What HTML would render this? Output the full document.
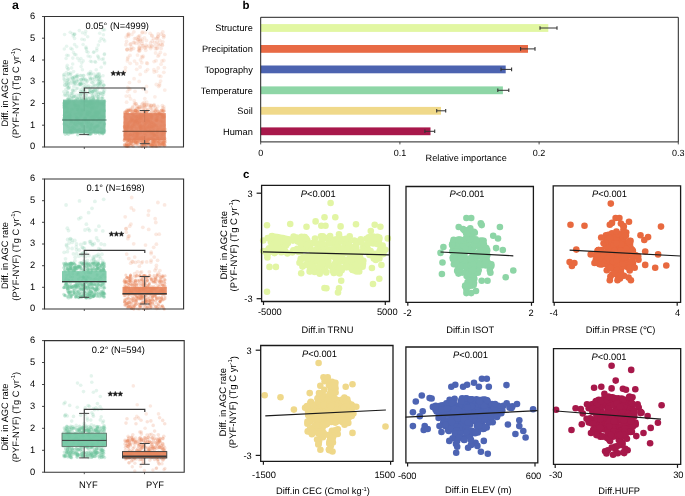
<!DOCTYPE html>
<html><head><meta charset="utf-8"><style>
html,body{margin:0;padding:0;background:#fff;width:685px;height:496px;overflow:hidden}
svg{display:block;will-change:transform}
text{font-family:"Liberation Sans", sans-serif;fill:#000;text-rendering:geometricPrecision}
</style></head><body>
<svg width="685" height="496" viewBox="0 0 685 496">
<rect width="685" height="496" fill="#fff"/>
<text x="12.0" y="9.4" font-size="12.3" text-anchor="start" font-weight="bold">a</text>
<text x="242.5" y="9.3" font-size="11.5" text-anchor="start" font-weight="bold">b</text>
<text x="243.0" y="178.2" font-size="11.5" text-anchor="start" font-weight="bold">c</text>
<g fill="#6cc39c" fill-opacity="0.16">
<circle cx="90.0" cy="97.4" r="1.8"/>
<circle cx="75.0" cy="83.6" r="1.8"/>
<circle cx="93.9" cy="52.1" r="1.8"/>
<circle cx="100.3" cy="93.1" r="1.8"/>
<circle cx="81.1" cy="97.1" r="1.8"/>
<circle cx="72.7" cy="64.0" r="1.8"/>
<circle cx="64.9" cy="85.3" r="1.8"/>
<circle cx="90.4" cy="61.2" r="1.8"/>
<circle cx="72.8" cy="58.1" r="1.8"/>
<circle cx="96.9" cy="98.7" r="1.8"/>
<circle cx="96.8" cy="50.6" r="1.8"/>
<circle cx="77.7" cy="88.3" r="1.8"/>
<circle cx="103.0" cy="75.7" r="1.8"/>
<circle cx="67.6" cy="92.4" r="1.8"/>
<circle cx="98.5" cy="57.1" r="1.8"/>
<circle cx="96.8" cy="48.4" r="1.8"/>
<circle cx="85.7" cy="31.4" r="1.8"/>
<circle cx="79.3" cy="60.7" r="1.8"/>
<circle cx="97.7" cy="56.1" r="1.8"/>
<circle cx="99.0" cy="59.0" r="1.8"/>
<circle cx="92.6" cy="96.0" r="1.8"/>
<circle cx="73.1" cy="79.0" r="1.8"/>
<circle cx="67.1" cy="82.9" r="1.8"/>
<circle cx="67.9" cy="79.8" r="1.8"/>
<circle cx="89.8" cy="73.8" r="1.8"/>
<circle cx="78.9" cy="84.6" r="1.8"/>
<circle cx="74.7" cy="34.0" r="1.8"/>
<circle cx="90.3" cy="56.8" r="1.8"/>
<circle cx="70.8" cy="48.4" r="1.8"/>
<circle cx="70.5" cy="72.7" r="1.8"/>
<circle cx="104.3" cy="54.6" r="1.8"/>
<circle cx="86.6" cy="51.5" r="1.8"/>
<circle cx="98.3" cy="45.1" r="1.8"/>
<circle cx="73.2" cy="96.9" r="1.8"/>
<circle cx="76.7" cy="80.5" r="1.8"/>
<circle cx="72.4" cy="33.5" r="1.8"/>
<circle cx="99.6" cy="77.2" r="1.8"/>
<circle cx="90.6" cy="71.6" r="1.8"/>
<circle cx="101.2" cy="67.2" r="1.8"/>
<circle cx="74.6" cy="82.0" r="1.8"/>
<circle cx="86.8" cy="80.9" r="1.8"/>
<circle cx="87.7" cy="36.7" r="1.8"/>
<circle cx="80.1" cy="83.9" r="1.8"/>
<circle cx="104.6" cy="63.7" r="1.8"/>
<circle cx="67.5" cy="95.9" r="1.8"/>
<circle cx="68.3" cy="55.5" r="1.8"/>
<circle cx="96.2" cy="69.8" r="1.8"/>
<circle cx="66.4" cy="72.6" r="1.8"/>
<circle cx="104.5" cy="62.3" r="1.8"/>
<circle cx="103.5" cy="39.2" r="1.8"/>
<circle cx="64.3" cy="49.0" r="1.8"/>
<circle cx="91.7" cy="61.8" r="1.8"/>
<circle cx="74.7" cy="54.5" r="1.8"/>
<circle cx="68.4" cy="68.9" r="1.8"/>
<circle cx="82.4" cy="32.8" r="1.8"/>
<circle cx="99.6" cy="80.8" r="1.8"/>
<circle cx="84.3" cy="86.7" r="1.8"/>
<circle cx="101.1" cy="38.6" r="1.8"/>
<circle cx="76.0" cy="54.7" r="1.8"/>
<circle cx="88.7" cy="88.5" r="1.8"/>
<circle cx="95.0" cy="61.6" r="1.8"/>
<circle cx="95.6" cy="62.2" r="1.8"/>
<circle cx="63.8" cy="76.6" r="1.8"/>
<circle cx="64.6" cy="34.5" r="1.8"/>
<circle cx="99.7" cy="41.3" r="1.8"/>
<circle cx="76.4" cy="95.1" r="1.8"/>
<circle cx="99.7" cy="33.2" r="1.8"/>
<circle cx="67.3" cy="65.3" r="1.8"/>
<circle cx="66.6" cy="46.2" r="1.8"/>
<circle cx="95.1" cy="90.2" r="1.8"/>
<circle cx="83.2" cy="60.9" r="1.8"/>
<circle cx="74.6" cy="38.4" r="1.8"/>
<circle cx="81.1" cy="84.4" r="1.8"/>
<circle cx="85.9" cy="48.3" r="1.8"/>
<circle cx="72.0" cy="77.5" r="1.8"/>
<circle cx="104.5" cy="53.9" r="1.8"/>
<circle cx="81.7" cy="63.1" r="1.8"/>
<circle cx="68.7" cy="83.5" r="1.8"/>
<circle cx="77.6" cy="58.2" r="1.8"/>
<circle cx="73.2" cy="83.8" r="1.8"/>
<circle cx="66.7" cy="55.2" r="1.8"/>
<circle cx="73.2" cy="36.1" r="1.8"/>
<circle cx="99.0" cy="94.2" r="1.8"/>
<circle cx="73.5" cy="52.6" r="1.8"/>
<circle cx="72.6" cy="89.9" r="1.8"/>
<circle cx="102.1" cy="59.4" r="1.8"/>
<circle cx="83.1" cy="44.5" r="1.8"/>
<circle cx="96.8" cy="85.9" r="1.8"/>
<circle cx="67.8" cy="69.1" r="1.8"/>
<circle cx="81.1" cy="66.6" r="1.8"/>
<circle cx="93.6" cy="52.3" r="1.8"/>
<circle cx="104.1" cy="92.3" r="1.8"/>
<circle cx="80.3" cy="75.5" r="1.8"/>
<circle cx="99.0" cy="81.8" r="1.8"/>
<circle cx="71.6" cy="67.9" r="1.8"/>
<circle cx="81.1" cy="79.8" r="1.8"/>
<circle cx="74.0" cy="34.9" r="1.8"/>
<circle cx="81.9" cy="39.2" r="1.8"/>
<circle cx="86.3" cy="95.6" r="1.8"/>
<circle cx="104.7" cy="41.0" r="1.8"/>
<circle cx="103.4" cy="34.7" r="1.8"/>
<circle cx="98.5" cy="87.6" r="1.8"/>
<circle cx="83.7" cy="84.3" r="1.8"/>
<circle cx="80.2" cy="95.1" r="1.8"/>
<circle cx="79.3" cy="30.6" r="1.8"/>
<circle cx="74.6" cy="44.6" r="1.8"/>
<circle cx="82.4" cy="69.7" r="1.8"/>
<circle cx="103.0" cy="29.9" r="1.8"/>
<circle cx="86.5" cy="49.1" r="1.8"/>
<circle cx="70.1" cy="78.5" r="1.8"/>
<circle cx="103.4" cy="58.8" r="1.8"/>
<circle cx="86.0" cy="47.1" r="1.8"/>
<circle cx="66.1" cy="58.5" r="1.8"/>
<circle cx="84.4" cy="39.8" r="1.8"/>
<circle cx="70.2" cy="32.3" r="1.8"/>
<circle cx="67.1" cy="86.2" r="1.8"/>
<circle cx="88.1" cy="52.2" r="1.8"/>
<circle cx="73.4" cy="90.8" r="1.8"/>
<circle cx="100.2" cy="82.0" r="1.8"/>
<circle cx="88.1" cy="56.0" r="1.8"/>
<circle cx="80.9" cy="58.5" r="1.8"/>
<circle cx="85.2" cy="34.1" r="1.8"/>
<circle cx="72.2" cy="49.3" r="1.8"/>
<circle cx="73.6" cy="71.6" r="1.8"/>
<circle cx="91.3" cy="78.3" r="1.8"/>
<circle cx="76.7" cy="46.8" r="1.8"/>
<circle cx="66.8" cy="67.3" r="1.8"/>
<circle cx="104.6" cy="29.8" r="1.8"/>
<circle cx="66.8" cy="84.3" r="1.8"/>
<circle cx="74.6" cy="34.2" r="1.8"/>
</g>
<g fill="#6cc39c" fill-opacity="0.18">
<circle cx="99.8" cy="76.2" r="1.8"/>
<circle cx="78.9" cy="95.0" r="1.8"/>
<circle cx="97.9" cy="80.8" r="1.8"/>
<circle cx="88.8" cy="73.4" r="1.8"/>
<circle cx="90.5" cy="98.9" r="1.8"/>
<circle cx="97.2" cy="91.3" r="1.8"/>
<circle cx="90.9" cy="74.6" r="1.8"/>
<circle cx="69.3" cy="96.1" r="1.8"/>
<circle cx="68.2" cy="84.7" r="1.8"/>
<circle cx="74.9" cy="83.4" r="1.8"/>
<circle cx="93.2" cy="93.8" r="1.8"/>
<circle cx="89.7" cy="92.3" r="1.8"/>
<circle cx="83.8" cy="75.5" r="1.8"/>
<circle cx="98.4" cy="96.7" r="1.8"/>
<circle cx="81.1" cy="91.9" r="1.8"/>
<circle cx="63.9" cy="79.0" r="1.8"/>
<circle cx="89.9" cy="92.3" r="1.8"/>
<circle cx="94.1" cy="84.8" r="1.8"/>
<circle cx="81.3" cy="98.9" r="1.8"/>
<circle cx="66.9" cy="76.1" r="1.8"/>
<circle cx="100.8" cy="84.9" r="1.8"/>
<circle cx="97.9" cy="83.9" r="1.8"/>
<circle cx="69.9" cy="95.8" r="1.8"/>
<circle cx="76.4" cy="75.7" r="1.8"/>
<circle cx="96.4" cy="76.7" r="1.8"/>
<circle cx="100.6" cy="93.7" r="1.8"/>
<circle cx="74.0" cy="96.5" r="1.8"/>
<circle cx="95.7" cy="76.1" r="1.8"/>
<circle cx="80.4" cy="83.0" r="1.8"/>
<circle cx="70.1" cy="74.9" r="1.8"/>
<circle cx="99.2" cy="73.7" r="1.8"/>
<circle cx="97.0" cy="76.1" r="1.8"/>
<circle cx="64.8" cy="79.9" r="1.8"/>
<circle cx="77.4" cy="74.9" r="1.8"/>
<circle cx="96.6" cy="76.6" r="1.8"/>
<circle cx="97.0" cy="92.2" r="1.8"/>
<circle cx="96.0" cy="96.3" r="1.8"/>
<circle cx="99.5" cy="76.7" r="1.8"/>
<circle cx="72.9" cy="77.8" r="1.8"/>
<circle cx="82.6" cy="91.2" r="1.8"/>
<circle cx="96.3" cy="93.2" r="1.8"/>
<circle cx="64.8" cy="94.1" r="1.8"/>
<circle cx="77.2" cy="76.6" r="1.8"/>
<circle cx="103.3" cy="91.9" r="1.8"/>
<circle cx="90.0" cy="88.7" r="1.8"/>
<circle cx="103.9" cy="85.2" r="1.8"/>
<circle cx="102.2" cy="96.1" r="1.8"/>
<circle cx="103.5" cy="94.5" r="1.8"/>
<circle cx="103.2" cy="92.2" r="1.8"/>
<circle cx="68.2" cy="87.8" r="1.8"/>
<circle cx="93.6" cy="91.0" r="1.8"/>
<circle cx="88.6" cy="85.8" r="1.8"/>
<circle cx="79.6" cy="84.1" r="1.8"/>
<circle cx="74.2" cy="80.7" r="1.8"/>
<circle cx="63.9" cy="75.0" r="1.8"/>
<circle cx="85.8" cy="80.4" r="1.8"/>
<circle cx="94.1" cy="81.6" r="1.8"/>
<circle cx="78.7" cy="97.3" r="1.8"/>
<circle cx="91.0" cy="90.5" r="1.8"/>
<circle cx="76.6" cy="77.0" r="1.8"/>
<circle cx="93.2" cy="91.3" r="1.8"/>
<circle cx="76.4" cy="88.5" r="1.8"/>
<circle cx="80.3" cy="91.4" r="1.8"/>
<circle cx="69.0" cy="88.2" r="1.8"/>
<circle cx="102.3" cy="81.5" r="1.8"/>
<circle cx="100.7" cy="83.1" r="1.8"/>
<circle cx="76.1" cy="84.8" r="1.8"/>
<circle cx="63.8" cy="91.7" r="1.8"/>
<circle cx="81.4" cy="84.0" r="1.8"/>
<circle cx="90.6" cy="87.0" r="1.8"/>
<circle cx="81.9" cy="93.6" r="1.8"/>
<circle cx="83.2" cy="75.6" r="1.8"/>
<circle cx="96.4" cy="94.7" r="1.8"/>
<circle cx="67.3" cy="85.7" r="1.8"/>
<circle cx="89.7" cy="90.4" r="1.8"/>
<circle cx="97.3" cy="79.5" r="1.8"/>
<circle cx="91.3" cy="93.3" r="1.8"/>
<circle cx="71.9" cy="98.5" r="1.8"/>
<circle cx="73.8" cy="86.7" r="1.8"/>
<circle cx="98.6" cy="97.2" r="1.8"/>
<circle cx="80.8" cy="82.7" r="1.8"/>
<circle cx="71.8" cy="81.0" r="1.8"/>
<circle cx="84.0" cy="92.8" r="1.8"/>
<circle cx="90.6" cy="99.0" r="1.8"/>
<circle cx="94.5" cy="79.1" r="1.8"/>
<circle cx="68.2" cy="88.1" r="1.8"/>
<circle cx="71.0" cy="74.1" r="1.8"/>
<circle cx="85.0" cy="97.8" r="1.8"/>
<circle cx="74.0" cy="77.0" r="1.8"/>
<circle cx="82.5" cy="78.2" r="1.8"/>
<circle cx="91.1" cy="73.4" r="1.8"/>
<circle cx="88.2" cy="74.4" r="1.8"/>
<circle cx="100.3" cy="83.2" r="1.8"/>
<circle cx="93.2" cy="86.0" r="1.8"/>
<circle cx="97.8" cy="84.9" r="1.8"/>
<circle cx="100.5" cy="79.7" r="1.8"/>
<circle cx="83.2" cy="92.4" r="1.8"/>
<circle cx="73.9" cy="82.5" r="1.8"/>
<circle cx="95.1" cy="85.5" r="1.8"/>
<circle cx="89.4" cy="92.0" r="1.8"/>
<circle cx="67.0" cy="91.7" r="1.8"/>
<circle cx="74.9" cy="90.8" r="1.8"/>
<circle cx="85.9" cy="95.5" r="1.8"/>
<circle cx="73.3" cy="81.0" r="1.8"/>
<circle cx="92.7" cy="97.5" r="1.8"/>
<circle cx="80.5" cy="85.0" r="1.8"/>
<circle cx="80.8" cy="93.8" r="1.8"/>
<circle cx="81.0" cy="75.5" r="1.8"/>
<circle cx="87.7" cy="81.0" r="1.8"/>
<circle cx="98.8" cy="79.2" r="1.8"/>
<circle cx="79.4" cy="99.0" r="1.8"/>
<circle cx="78.2" cy="79.5" r="1.8"/>
<circle cx="98.7" cy="74.3" r="1.8"/>
<circle cx="80.9" cy="79.6" r="1.8"/>
<circle cx="86.1" cy="83.4" r="1.8"/>
<circle cx="72.8" cy="93.4" r="1.8"/>
<circle cx="81.6" cy="98.4" r="1.8"/>
<circle cx="77.5" cy="81.4" r="1.8"/>
<circle cx="80.3" cy="94.8" r="1.8"/>
<circle cx="82.9" cy="95.8" r="1.8"/>
<circle cx="89.3" cy="98.4" r="1.8"/>
<circle cx="79.9" cy="84.4" r="1.8"/>
<circle cx="64.9" cy="82.4" r="1.8"/>
<circle cx="69.4" cy="87.1" r="1.8"/>
<circle cx="65.9" cy="89.3" r="1.8"/>
<circle cx="72.5" cy="90.6" r="1.8"/>
<circle cx="94.9" cy="89.3" r="1.8"/>
<circle cx="94.6" cy="77.4" r="1.8"/>
<circle cx="74.1" cy="97.0" r="1.8"/>
<circle cx="64.6" cy="85.1" r="1.8"/>
<circle cx="104.7" cy="90.0" r="1.8"/>
<circle cx="90.4" cy="78.8" r="1.8"/>
<circle cx="90.5" cy="79.5" r="1.8"/>
<circle cx="102.6" cy="93.9" r="1.8"/>
<circle cx="64.6" cy="95.2" r="1.8"/>
<circle cx="69.0" cy="81.7" r="1.8"/>
<circle cx="86.9" cy="93.5" r="1.8"/>
<circle cx="92.4" cy="79.1" r="1.8"/>
<circle cx="70.7" cy="83.3" r="1.8"/>
<circle cx="94.4" cy="96.2" r="1.8"/>
<circle cx="97.3" cy="74.0" r="1.8"/>
<circle cx="68.2" cy="98.5" r="1.8"/>
<circle cx="76.6" cy="81.5" r="1.8"/>
<circle cx="103.0" cy="88.8" r="1.8"/>
<circle cx="93.0" cy="97.2" r="1.8"/>
<circle cx="92.0" cy="82.8" r="1.8"/>
<circle cx="68.0" cy="79.0" r="1.8"/>
<circle cx="98.6" cy="83.5" r="1.8"/>
<circle cx="68.8" cy="73.5" r="1.8"/>
<circle cx="95.8" cy="90.1" r="1.8"/>
<circle cx="81.3" cy="89.5" r="1.8"/>
<circle cx="84.5" cy="90.2" r="1.8"/>
<circle cx="98.5" cy="77.7" r="1.8"/>
<circle cx="68.1" cy="74.1" r="1.8"/>
<circle cx="89.8" cy="77.5" r="1.8"/>
<circle cx="92.7" cy="87.8" r="1.8"/>
<circle cx="93.8" cy="74.0" r="1.8"/>
<circle cx="74.8" cy="78.1" r="1.8"/>
<circle cx="85.8" cy="86.5" r="1.8"/>
<circle cx="81.6" cy="80.1" r="1.8"/>
<circle cx="74.8" cy="76.9" r="1.8"/>
<circle cx="97.8" cy="96.9" r="1.8"/>
<circle cx="99.9" cy="92.8" r="1.8"/>
<circle cx="82.8" cy="83.2" r="1.8"/>
<circle cx="79.3" cy="98.4" r="1.8"/>
<circle cx="98.6" cy="94.4" r="1.8"/>
<circle cx="72.5" cy="78.3" r="1.8"/>
<circle cx="77.7" cy="76.2" r="1.8"/>
<circle cx="92.5" cy="91.9" r="1.8"/>
<circle cx="64.2" cy="74.4" r="1.8"/>
<circle cx="67.3" cy="80.4" r="1.8"/>
<circle cx="83.8" cy="79.4" r="1.8"/>
<circle cx="92.0" cy="82.3" r="1.8"/>
<circle cx="83.9" cy="78.5" r="1.8"/>
<circle cx="67.6" cy="93.4" r="1.8"/>
<circle cx="92.1" cy="91.2" r="1.8"/>
<circle cx="87.6" cy="86.8" r="1.8"/>
<circle cx="85.5" cy="88.0" r="1.8"/>
<circle cx="94.3" cy="90.5" r="1.8"/>
<circle cx="92.5" cy="92.1" r="1.8"/>
<circle cx="74.1" cy="96.0" r="1.8"/>
<circle cx="71.7" cy="96.0" r="1.8"/>
<circle cx="85.7" cy="79.3" r="1.8"/>
<circle cx="71.4" cy="93.5" r="1.8"/>
<circle cx="83.6" cy="80.2" r="1.8"/>
<circle cx="103.7" cy="85.5" r="1.8"/>
<circle cx="75.4" cy="96.5" r="1.8"/>
<circle cx="71.7" cy="93.2" r="1.8"/>
<circle cx="71.1" cy="98.8" r="1.8"/>
<circle cx="85.6" cy="92.0" r="1.8"/>
<circle cx="103.6" cy="84.7" r="1.8"/>
<circle cx="92.3" cy="95.9" r="1.8"/>
<circle cx="99.3" cy="86.3" r="1.8"/>
<circle cx="99.5" cy="84.2" r="1.8"/>
<circle cx="83.0" cy="87.7" r="1.8"/>
<circle cx="71.3" cy="97.8" r="1.8"/>
<circle cx="102.3" cy="86.7" r="1.8"/>
<circle cx="97.4" cy="88.7" r="1.8"/>
<circle cx="66.8" cy="82.7" r="1.8"/>
<circle cx="66.0" cy="95.3" r="1.8"/>
</g>
<g fill="#6cc39c" fill-opacity="0.35">
<circle cx="86.8" cy="123.8" r="1.7"/>
<circle cx="104.6" cy="130.7" r="1.7"/>
<circle cx="95.1" cy="112.6" r="1.7"/>
<circle cx="96.2" cy="126.7" r="1.7"/>
<circle cx="85.2" cy="118.4" r="1.7"/>
<circle cx="81.9" cy="103.2" r="1.7"/>
<circle cx="104.4" cy="123.7" r="1.7"/>
<circle cx="89.2" cy="112.5" r="1.7"/>
<circle cx="94.1" cy="100.0" r="1.7"/>
<circle cx="72.2" cy="127.2" r="1.7"/>
<circle cx="90.8" cy="129.2" r="1.7"/>
<circle cx="70.8" cy="132.3" r="1.7"/>
<circle cx="63.8" cy="118.4" r="1.7"/>
<circle cx="88.1" cy="124.3" r="1.7"/>
<circle cx="73.2" cy="108.9" r="1.7"/>
<circle cx="92.6" cy="118.2" r="1.7"/>
<circle cx="92.0" cy="100.9" r="1.7"/>
<circle cx="96.1" cy="111.9" r="1.7"/>
<circle cx="90.9" cy="100.5" r="1.7"/>
<circle cx="81.2" cy="114.9" r="1.7"/>
<circle cx="90.3" cy="101.4" r="1.7"/>
<circle cx="97.7" cy="132.4" r="1.7"/>
<circle cx="70.5" cy="123.7" r="1.7"/>
<circle cx="94.5" cy="114.0" r="1.7"/>
<circle cx="75.6" cy="130.4" r="1.7"/>
<circle cx="92.0" cy="109.2" r="1.7"/>
<circle cx="102.4" cy="116.5" r="1.7"/>
<circle cx="84.0" cy="132.1" r="1.7"/>
<circle cx="65.3" cy="119.1" r="1.7"/>
<circle cx="76.9" cy="125.8" r="1.7"/>
<circle cx="67.5" cy="99.5" r="1.7"/>
<circle cx="98.1" cy="113.8" r="1.7"/>
<circle cx="102.8" cy="98.1" r="1.7"/>
<circle cx="91.3" cy="125.1" r="1.7"/>
<circle cx="65.4" cy="107.1" r="1.7"/>
<circle cx="83.0" cy="110.9" r="1.7"/>
<circle cx="101.4" cy="128.3" r="1.7"/>
<circle cx="87.8" cy="111.6" r="1.7"/>
<circle cx="83.9" cy="131.7" r="1.7"/>
<circle cx="78.0" cy="122.7" r="1.7"/>
<circle cx="91.2" cy="103.3" r="1.7"/>
<circle cx="77.3" cy="109.4" r="1.7"/>
<circle cx="75.5" cy="100.1" r="1.7"/>
<circle cx="97.1" cy="114.7" r="1.7"/>
<circle cx="82.4" cy="123.4" r="1.7"/>
<circle cx="77.0" cy="99.2" r="1.7"/>
<circle cx="80.3" cy="116.0" r="1.7"/>
<circle cx="104.3" cy="110.7" r="1.7"/>
<circle cx="86.0" cy="119.8" r="1.7"/>
<circle cx="71.4" cy="121.7" r="1.7"/>
<circle cx="94.8" cy="111.9" r="1.7"/>
<circle cx="94.9" cy="127.5" r="1.7"/>
<circle cx="86.3" cy="100.7" r="1.7"/>
<circle cx="81.7" cy="109.2" r="1.7"/>
<circle cx="68.7" cy="99.1" r="1.7"/>
<circle cx="88.7" cy="126.2" r="1.7"/>
<circle cx="70.2" cy="114.7" r="1.7"/>
<circle cx="86.4" cy="131.6" r="1.7"/>
<circle cx="104.5" cy="101.3" r="1.7"/>
<circle cx="82.7" cy="130.7" r="1.7"/>
<circle cx="97.9" cy="116.6" r="1.7"/>
<circle cx="93.2" cy="116.2" r="1.7"/>
<circle cx="74.9" cy="104.2" r="1.7"/>
<circle cx="104.0" cy="126.0" r="1.7"/>
<circle cx="86.4" cy="120.9" r="1.7"/>
<circle cx="101.6" cy="116.2" r="1.7"/>
<circle cx="99.8" cy="103.1" r="1.7"/>
<circle cx="75.1" cy="105.8" r="1.7"/>
<circle cx="80.8" cy="100.5" r="1.7"/>
<circle cx="84.6" cy="104.7" r="1.7"/>
<circle cx="75.3" cy="124.0" r="1.7"/>
<circle cx="87.8" cy="98.1" r="1.7"/>
<circle cx="83.8" cy="129.5" r="1.7"/>
<circle cx="85.8" cy="122.3" r="1.7"/>
<circle cx="86.4" cy="114.9" r="1.7"/>
<circle cx="82.4" cy="123.1" r="1.7"/>
<circle cx="71.5" cy="109.2" r="1.7"/>
<circle cx="87.2" cy="126.4" r="1.7"/>
<circle cx="95.6" cy="133.4" r="1.7"/>
<circle cx="94.3" cy="109.0" r="1.7"/>
<circle cx="97.0" cy="120.8" r="1.7"/>
<circle cx="91.0" cy="104.7" r="1.7"/>
<circle cx="104.0" cy="116.7" r="1.7"/>
<circle cx="65.2" cy="116.5" r="1.7"/>
<circle cx="88.0" cy="102.9" r="1.7"/>
<circle cx="99.6" cy="118.8" r="1.7"/>
<circle cx="85.3" cy="118.1" r="1.7"/>
<circle cx="93.4" cy="119.9" r="1.7"/>
<circle cx="90.6" cy="129.3" r="1.7"/>
<circle cx="83.0" cy="99.2" r="1.7"/>
<circle cx="77.6" cy="109.4" r="1.7"/>
<circle cx="90.4" cy="103.5" r="1.7"/>
<circle cx="98.7" cy="103.3" r="1.7"/>
<circle cx="79.3" cy="123.3" r="1.7"/>
<circle cx="93.2" cy="107.0" r="1.7"/>
<circle cx="99.6" cy="133.7" r="1.7"/>
<circle cx="66.5" cy="111.7" r="1.7"/>
<circle cx="101.6" cy="98.2" r="1.7"/>
<circle cx="94.4" cy="119.0" r="1.7"/>
<circle cx="67.7" cy="111.6" r="1.7"/>
<circle cx="99.6" cy="118.6" r="1.7"/>
<circle cx="92.2" cy="101.6" r="1.7"/>
<circle cx="65.6" cy="105.6" r="1.7"/>
<circle cx="75.8" cy="121.2" r="1.7"/>
<circle cx="69.7" cy="115.4" r="1.7"/>
<circle cx="87.0" cy="105.7" r="1.7"/>
<circle cx="70.7" cy="132.1" r="1.7"/>
<circle cx="99.5" cy="112.1" r="1.7"/>
<circle cx="73.6" cy="101.3" r="1.7"/>
<circle cx="69.6" cy="118.0" r="1.7"/>
<circle cx="74.1" cy="125.6" r="1.7"/>
<circle cx="64.1" cy="105.3" r="1.7"/>
<circle cx="100.7" cy="110.0" r="1.7"/>
<circle cx="70.2" cy="118.7" r="1.7"/>
<circle cx="77.9" cy="113.3" r="1.7"/>
<circle cx="90.0" cy="119.3" r="1.7"/>
<circle cx="74.0" cy="103.8" r="1.7"/>
<circle cx="71.9" cy="120.8" r="1.7"/>
<circle cx="83.6" cy="126.3" r="1.7"/>
<circle cx="87.2" cy="113.8" r="1.7"/>
<circle cx="104.5" cy="124.1" r="1.7"/>
<circle cx="103.9" cy="110.7" r="1.7"/>
<circle cx="75.0" cy="114.1" r="1.7"/>
<circle cx="91.9" cy="107.5" r="1.7"/>
<circle cx="65.7" cy="112.6" r="1.7"/>
<circle cx="84.1" cy="101.6" r="1.7"/>
<circle cx="75.5" cy="105.5" r="1.7"/>
<circle cx="88.7" cy="122.0" r="1.7"/>
<circle cx="89.9" cy="112.1" r="1.7"/>
<circle cx="91.6" cy="108.4" r="1.7"/>
<circle cx="90.8" cy="104.0" r="1.7"/>
<circle cx="89.5" cy="101.6" r="1.7"/>
<circle cx="90.3" cy="123.6" r="1.7"/>
<circle cx="81.8" cy="113.6" r="1.7"/>
<circle cx="93.8" cy="131.7" r="1.7"/>
<circle cx="75.8" cy="107.4" r="1.7"/>
<circle cx="70.9" cy="130.2" r="1.7"/>
<circle cx="85.9" cy="99.1" r="1.7"/>
<circle cx="85.5" cy="101.3" r="1.7"/>
<circle cx="97.8" cy="125.5" r="1.7"/>
<circle cx="97.6" cy="117.2" r="1.7"/>
<circle cx="96.8" cy="107.4" r="1.7"/>
<circle cx="77.6" cy="130.8" r="1.7"/>
<circle cx="103.3" cy="129.8" r="1.7"/>
<circle cx="103.4" cy="103.2" r="1.7"/>
<circle cx="93.5" cy="98.8" r="1.7"/>
<circle cx="103.5" cy="105.3" r="1.7"/>
<circle cx="78.7" cy="105.8" r="1.7"/>
<circle cx="64.3" cy="115.2" r="1.7"/>
<circle cx="82.4" cy="110.2" r="1.7"/>
<circle cx="91.3" cy="113.4" r="1.7"/>
<circle cx="97.5" cy="100.3" r="1.7"/>
<circle cx="68.2" cy="126.4" r="1.7"/>
<circle cx="64.7" cy="102.3" r="1.7"/>
<circle cx="86.8" cy="101.2" r="1.7"/>
<circle cx="72.8" cy="132.7" r="1.7"/>
<circle cx="97.6" cy="101.4" r="1.7"/>
<circle cx="76.1" cy="119.9" r="1.7"/>
<circle cx="69.4" cy="100.0" r="1.7"/>
<circle cx="76.2" cy="116.8" r="1.7"/>
<circle cx="67.7" cy="102.2" r="1.7"/>
<circle cx="69.3" cy="118.3" r="1.7"/>
<circle cx="91.3" cy="107.6" r="1.7"/>
<circle cx="102.6" cy="119.5" r="1.7"/>
<circle cx="94.2" cy="129.3" r="1.7"/>
<circle cx="80.8" cy="131.4" r="1.7"/>
<circle cx="83.8" cy="119.9" r="1.7"/>
<circle cx="102.8" cy="133.8" r="1.7"/>
<circle cx="78.9" cy="118.6" r="1.7"/>
<circle cx="102.8" cy="103.4" r="1.7"/>
<circle cx="67.8" cy="109.7" r="1.7"/>
<circle cx="86.1" cy="98.9" r="1.7"/>
<circle cx="78.4" cy="120.3" r="1.7"/>
<circle cx="71.5" cy="130.5" r="1.7"/>
<circle cx="98.6" cy="118.2" r="1.7"/>
<circle cx="90.9" cy="111.3" r="1.7"/>
<circle cx="88.2" cy="134.2" r="1.7"/>
<circle cx="96.0" cy="126.0" r="1.7"/>
<circle cx="68.9" cy="114.2" r="1.7"/>
<circle cx="66.5" cy="106.7" r="1.7"/>
<circle cx="72.2" cy="127.1" r="1.7"/>
<circle cx="99.4" cy="122.9" r="1.7"/>
<circle cx="69.8" cy="101.7" r="1.7"/>
<circle cx="63.8" cy="103.3" r="1.7"/>
<circle cx="69.6" cy="130.2" r="1.7"/>
<circle cx="74.0" cy="128.6" r="1.7"/>
<circle cx="90.9" cy="134.1" r="1.7"/>
<circle cx="64.3" cy="105.8" r="1.7"/>
<circle cx="73.5" cy="123.1" r="1.7"/>
<circle cx="70.9" cy="133.1" r="1.7"/>
<circle cx="94.2" cy="115.6" r="1.7"/>
<circle cx="94.3" cy="117.4" r="1.7"/>
<circle cx="95.7" cy="116.1" r="1.7"/>
<circle cx="68.2" cy="116.4" r="1.7"/>
<circle cx="102.6" cy="133.4" r="1.7"/>
<circle cx="95.9" cy="103.0" r="1.7"/>
<circle cx="85.1" cy="118.1" r="1.7"/>
<circle cx="103.3" cy="132.8" r="1.7"/>
<circle cx="83.4" cy="120.2" r="1.7"/>
<circle cx="91.9" cy="116.9" r="1.7"/>
<circle cx="101.1" cy="132.3" r="1.7"/>
<circle cx="67.0" cy="112.5" r="1.7"/>
<circle cx="66.4" cy="124.9" r="1.7"/>
<circle cx="89.7" cy="114.8" r="1.7"/>
<circle cx="77.1" cy="98.3" r="1.7"/>
<circle cx="85.5" cy="118.3" r="1.7"/>
<circle cx="88.6" cy="131.4" r="1.7"/>
<circle cx="92.5" cy="103.5" r="1.7"/>
<circle cx="90.5" cy="106.6" r="1.7"/>
<circle cx="93.3" cy="127.1" r="1.7"/>
<circle cx="82.3" cy="126.6" r="1.7"/>
<circle cx="77.6" cy="118.3" r="1.7"/>
<circle cx="80.8" cy="131.5" r="1.7"/>
<circle cx="81.2" cy="110.4" r="1.7"/>
<circle cx="79.1" cy="129.4" r="1.7"/>
<circle cx="101.6" cy="132.6" r="1.7"/>
<circle cx="97.9" cy="131.6" r="1.7"/>
<circle cx="67.7" cy="107.7" r="1.7"/>
<circle cx="97.1" cy="114.5" r="1.7"/>
<circle cx="87.8" cy="114.3" r="1.7"/>
<circle cx="77.2" cy="130.5" r="1.7"/>
<circle cx="78.2" cy="110.4" r="1.7"/>
<circle cx="94.5" cy="102.9" r="1.7"/>
<circle cx="93.3" cy="99.2" r="1.7"/>
<circle cx="88.4" cy="122.0" r="1.7"/>
<circle cx="87.5" cy="127.2" r="1.7"/>
<circle cx="90.7" cy="126.7" r="1.7"/>
<circle cx="68.1" cy="103.8" r="1.7"/>
<circle cx="78.8" cy="106.8" r="1.7"/>
<circle cx="87.3" cy="105.2" r="1.7"/>
<circle cx="98.4" cy="99.0" r="1.7"/>
<circle cx="97.3" cy="112.4" r="1.7"/>
<circle cx="90.1" cy="134.1" r="1.7"/>
<circle cx="101.9" cy="104.4" r="1.7"/>
<circle cx="74.7" cy="128.4" r="1.7"/>
<circle cx="92.6" cy="123.6" r="1.7"/>
<circle cx="77.7" cy="134.8" r="1.7"/>
<circle cx="99.5" cy="114.1" r="1.7"/>
<circle cx="80.2" cy="129.8" r="1.7"/>
<circle cx="89.7" cy="133.9" r="1.7"/>
<circle cx="94.4" cy="127.1" r="1.7"/>
<circle cx="81.0" cy="122.4" r="1.7"/>
<circle cx="78.9" cy="108.4" r="1.7"/>
<circle cx="95.6" cy="114.1" r="1.7"/>
<circle cx="67.2" cy="133.1" r="1.7"/>
<circle cx="70.2" cy="112.2" r="1.7"/>
<circle cx="91.4" cy="125.0" r="1.7"/>
<circle cx="90.9" cy="117.1" r="1.7"/>
<circle cx="81.9" cy="124.9" r="1.7"/>
<circle cx="94.7" cy="130.8" r="1.7"/>
<circle cx="81.4" cy="124.6" r="1.7"/>
<circle cx="91.6" cy="117.0" r="1.7"/>
<circle cx="91.1" cy="133.4" r="1.7"/>
<circle cx="79.9" cy="112.9" r="1.7"/>
<circle cx="64.0" cy="123.9" r="1.7"/>
<circle cx="72.4" cy="130.0" r="1.7"/>
<circle cx="74.2" cy="122.9" r="1.7"/>
<circle cx="64.0" cy="107.4" r="1.7"/>
<circle cx="70.9" cy="121.0" r="1.7"/>
<circle cx="92.6" cy="116.5" r="1.7"/>
<circle cx="98.0" cy="105.2" r="1.7"/>
<circle cx="66.7" cy="103.2" r="1.7"/>
<circle cx="65.4" cy="134.3" r="1.7"/>
<circle cx="101.6" cy="103.2" r="1.7"/>
<circle cx="87.4" cy="113.8" r="1.7"/>
<circle cx="92.9" cy="119.6" r="1.7"/>
<circle cx="68.4" cy="134.3" r="1.7"/>
<circle cx="77.0" cy="105.4" r="1.7"/>
<circle cx="89.1" cy="104.3" r="1.7"/>
<circle cx="101.5" cy="131.8" r="1.7"/>
<circle cx="98.4" cy="126.0" r="1.7"/>
<circle cx="87.9" cy="115.7" r="1.7"/>
<circle cx="80.0" cy="123.6" r="1.7"/>
<circle cx="77.7" cy="122.7" r="1.7"/>
<circle cx="70.6" cy="116.2" r="1.7"/>
<circle cx="68.4" cy="116.2" r="1.7"/>
<circle cx="100.9" cy="122.1" r="1.7"/>
<circle cx="93.6" cy="104.8" r="1.7"/>
<circle cx="97.2" cy="126.3" r="1.7"/>
<circle cx="69.7" cy="127.7" r="1.7"/>
<circle cx="88.5" cy="106.9" r="1.7"/>
<circle cx="90.6" cy="128.5" r="1.7"/>
<circle cx="95.5" cy="116.8" r="1.7"/>
<circle cx="94.7" cy="106.9" r="1.7"/>
<circle cx="82.2" cy="100.9" r="1.7"/>
<circle cx="86.9" cy="111.5" r="1.7"/>
<circle cx="89.4" cy="103.1" r="1.7"/>
<circle cx="89.5" cy="129.5" r="1.7"/>
<circle cx="66.5" cy="118.7" r="1.7"/>
<circle cx="76.1" cy="124.9" r="1.7"/>
<circle cx="66.0" cy="116.3" r="1.7"/>
<circle cx="76.5" cy="118.3" r="1.7"/>
<circle cx="66.0" cy="104.3" r="1.7"/>
<circle cx="66.9" cy="103.1" r="1.7"/>
<circle cx="98.9" cy="112.3" r="1.7"/>
<circle cx="84.5" cy="117.9" r="1.7"/>
<circle cx="86.5" cy="105.8" r="1.7"/>
<circle cx="100.5" cy="118.4" r="1.7"/>
<circle cx="97.0" cy="110.9" r="1.7"/>
<circle cx="76.9" cy="117.5" r="1.7"/>
</g>
<g fill="#e8845a" fill-opacity="0.17">
<circle cx="130.5" cy="50.1" r="1.9"/>
<circle cx="128.6" cy="33.7" r="1.9"/>
<circle cx="138.3" cy="37.3" r="1.9"/>
<circle cx="144.8" cy="47.9" r="1.9"/>
<circle cx="134.4" cy="42.7" r="1.9"/>
<circle cx="142.2" cy="41.1" r="1.9"/>
<circle cx="130.8" cy="44.0" r="1.9"/>
<circle cx="135.9" cy="43.3" r="1.9"/>
<circle cx="138.1" cy="39.6" r="1.9"/>
<circle cx="156.4" cy="38.6" r="1.9"/>
<circle cx="127.1" cy="49.5" r="1.9"/>
<circle cx="151.9" cy="45.7" r="1.9"/>
<circle cx="153.7" cy="38.4" r="1.9"/>
<circle cx="161.1" cy="34.2" r="1.9"/>
<circle cx="137.9" cy="39.9" r="1.9"/>
<circle cx="130.1" cy="44.5" r="1.9"/>
<circle cx="163.6" cy="37.6" r="1.9"/>
<circle cx="140.3" cy="39.7" r="1.9"/>
<circle cx="162.4" cy="45.2" r="1.9"/>
<circle cx="139.7" cy="35.8" r="1.9"/>
<circle cx="157.3" cy="38.2" r="1.9"/>
<circle cx="158.0" cy="36.8" r="1.9"/>
<circle cx="152.2" cy="41.0" r="1.9"/>
<circle cx="150.6" cy="43.0" r="1.9"/>
<circle cx="139.1" cy="44.2" r="1.9"/>
<circle cx="131.7" cy="47.1" r="1.9"/>
<circle cx="162.8" cy="41.8" r="1.9"/>
<circle cx="133.6" cy="48.6" r="1.9"/>
<circle cx="127.5" cy="34.8" r="1.9"/>
<circle cx="128.5" cy="36.2" r="1.9"/>
<circle cx="158.2" cy="34.0" r="1.9"/>
<circle cx="125.9" cy="44.7" r="1.9"/>
<circle cx="155.4" cy="48.7" r="1.9"/>
<circle cx="139.7" cy="48.1" r="1.9"/>
<circle cx="158.1" cy="36.2" r="1.9"/>
<circle cx="157.2" cy="48.1" r="1.9"/>
<circle cx="142.1" cy="43.3" r="1.9"/>
<circle cx="151.8" cy="46.7" r="1.9"/>
<circle cx="142.4" cy="45.7" r="1.9"/>
<circle cx="154.7" cy="42.5" r="1.9"/>
<circle cx="146.0" cy="45.2" r="1.9"/>
<circle cx="157.1" cy="42.1" r="1.9"/>
<circle cx="158.2" cy="44.1" r="1.9"/>
<circle cx="162.8" cy="32.0" r="1.9"/>
<circle cx="143.1" cy="45.8" r="1.9"/>
<circle cx="139.9" cy="41.0" r="1.9"/>
<circle cx="163.5" cy="35.3" r="1.9"/>
<circle cx="156.9" cy="48.6" r="1.9"/>
<circle cx="134.5" cy="38.7" r="1.9"/>
<circle cx="159.8" cy="40.4" r="1.9"/>
<circle cx="128.6" cy="34.7" r="1.9"/>
<circle cx="158.9" cy="45.7" r="1.9"/>
<circle cx="155.3" cy="46.0" r="1.9"/>
<circle cx="161.1" cy="48.4" r="1.9"/>
<circle cx="142.1" cy="32.8" r="1.9"/>
<circle cx="133.4" cy="42.5" r="1.9"/>
<circle cx="138.6" cy="50.8" r="1.9"/>
<circle cx="126.6" cy="41.5" r="1.9"/>
<circle cx="133.9" cy="31.8" r="1.9"/>
<circle cx="139.6" cy="50.7" r="1.9"/>
</g>
<g fill="#e8845a" fill-opacity="0.15">
<circle cx="162.1" cy="44.7" r="1.9"/>
<circle cx="150.7" cy="48.5" r="1.9"/>
<circle cx="130.0" cy="89.1" r="1.9"/>
<circle cx="158.0" cy="56.2" r="1.9"/>
<circle cx="130.0" cy="55.4" r="1.9"/>
<circle cx="142.6" cy="111.8" r="1.9"/>
<circle cx="127.6" cy="91.6" r="1.9"/>
<circle cx="158.2" cy="68.0" r="1.9"/>
<circle cx="153.9" cy="69.7" r="1.9"/>
<circle cx="128.9" cy="89.0" r="1.9"/>
<circle cx="136.6" cy="108.4" r="1.9"/>
<circle cx="141.4" cy="48.3" r="1.9"/>
<circle cx="142.9" cy="103.3" r="1.9"/>
<circle cx="161.1" cy="64.2" r="1.9"/>
<circle cx="125.1" cy="70.7" r="1.9"/>
<circle cx="134.2" cy="100.6" r="1.9"/>
<circle cx="141.8" cy="62.7" r="1.9"/>
<circle cx="134.1" cy="78.7" r="1.9"/>
<circle cx="151.3" cy="105.3" r="1.9"/>
<circle cx="163.9" cy="106.8" r="1.9"/>
<circle cx="145.7" cy="71.4" r="1.9"/>
<circle cx="164.4" cy="67.6" r="1.9"/>
<circle cx="140.2" cy="74.4" r="1.9"/>
<circle cx="150.1" cy="33.3" r="1.9"/>
<circle cx="134.7" cy="110.9" r="1.9"/>
<circle cx="156.3" cy="84.5" r="1.9"/>
<circle cx="154.1" cy="61.6" r="1.9"/>
<circle cx="155.6" cy="53.0" r="1.9"/>
<circle cx="137.9" cy="108.6" r="1.9"/>
<circle cx="146.5" cy="46.7" r="1.9"/>
<circle cx="131.5" cy="49.5" r="1.9"/>
<circle cx="143.2" cy="56.2" r="1.9"/>
<circle cx="150.0" cy="46.9" r="1.9"/>
<circle cx="127.0" cy="49.7" r="1.9"/>
<circle cx="142.9" cy="88.6" r="1.9"/>
<circle cx="126.2" cy="96.1" r="1.9"/>
<circle cx="126.1" cy="37.1" r="1.9"/>
<circle cx="145.3" cy="32.6" r="1.9"/>
<circle cx="146.4" cy="91.8" r="1.9"/>
<circle cx="154.9" cy="96.8" r="1.9"/>
<circle cx="138.9" cy="49.4" r="1.9"/>
<circle cx="159.5" cy="85.5" r="1.9"/>
<circle cx="129.4" cy="82.6" r="1.9"/>
<circle cx="160.4" cy="52.4" r="1.9"/>
<circle cx="160.6" cy="81.1" r="1.9"/>
<circle cx="163.8" cy="72.3" r="1.9"/>
<circle cx="144.5" cy="37.8" r="1.9"/>
<circle cx="145.4" cy="47.7" r="1.9"/>
<circle cx="153.8" cy="105.8" r="1.9"/>
<circle cx="148.8" cy="46.0" r="1.9"/>
<circle cx="146.5" cy="86.4" r="1.9"/>
<circle cx="127.6" cy="59.0" r="1.9"/>
<circle cx="136.8" cy="63.7" r="1.9"/>
<circle cx="141.7" cy="56.7" r="1.9"/>
<circle cx="138.6" cy="108.8" r="1.9"/>
<circle cx="159.6" cy="83.8" r="1.9"/>
<circle cx="164.8" cy="90.1" r="1.9"/>
<circle cx="164.1" cy="35.9" r="1.9"/>
<circle cx="127.4" cy="60.9" r="1.9"/>
<circle cx="139.1" cy="47.7" r="1.9"/>
<circle cx="151.9" cy="35.5" r="1.9"/>
<circle cx="130.2" cy="63.3" r="1.9"/>
<circle cx="156.0" cy="109.4" r="1.9"/>
<circle cx="127.1" cy="49.5" r="1.9"/>
<circle cx="139.2" cy="81.4" r="1.9"/>
<circle cx="147.4" cy="63.5" r="1.9"/>
<circle cx="151.9" cy="35.8" r="1.9"/>
<circle cx="139.5" cy="50.8" r="1.9"/>
<circle cx="147.6" cy="69.6" r="1.9"/>
<circle cx="140.5" cy="59.9" r="1.9"/>
<circle cx="134.5" cy="103.1" r="1.9"/>
<circle cx="154.2" cy="72.0" r="1.9"/>
<circle cx="140.1" cy="67.0" r="1.9"/>
<circle cx="135.0" cy="91.3" r="1.9"/>
<circle cx="142.5" cy="32.0" r="1.9"/>
<circle cx="136.0" cy="38.4" r="1.9"/>
<circle cx="144.3" cy="102.3" r="1.9"/>
<circle cx="158.9" cy="75.8" r="1.9"/>
<circle cx="160.8" cy="76.4" r="1.9"/>
<circle cx="128.0" cy="57.3" r="1.9"/>
<circle cx="158.6" cy="86.5" r="1.9"/>
<circle cx="138.5" cy="107.0" r="1.9"/>
<circle cx="146.4" cy="40.5" r="1.9"/>
<circle cx="158.9" cy="54.9" r="1.9"/>
<circle cx="162.0" cy="60.9" r="1.9"/>
<circle cx="156.5" cy="71.3" r="1.9"/>
<circle cx="129.3" cy="96.0" r="1.9"/>
<circle cx="130.0" cy="48.6" r="1.9"/>
<circle cx="125.5" cy="67.6" r="1.9"/>
<circle cx="139.3" cy="47.5" r="1.9"/>
<circle cx="146.7" cy="63.0" r="1.9"/>
<circle cx="127.9" cy="87.3" r="1.9"/>
<circle cx="164.9" cy="54.3" r="1.9"/>
<circle cx="145.7" cy="50.3" r="1.9"/>
<circle cx="157.7" cy="106.3" r="1.9"/>
<circle cx="163.8" cy="60.5" r="1.9"/>
<circle cx="142.6" cy="57.5" r="1.9"/>
<circle cx="138.4" cy="41.5" r="1.9"/>
<circle cx="156.0" cy="60.7" r="1.9"/>
<circle cx="131.8" cy="34.4" r="1.9"/>
<circle cx="141.9" cy="38.9" r="1.9"/>
<circle cx="126.6" cy="102.2" r="1.9"/>
<circle cx="130.6" cy="98.9" r="1.9"/>
<circle cx="137.5" cy="55.1" r="1.9"/>
<circle cx="138.4" cy="36.5" r="1.9"/>
<circle cx="160.6" cy="44.1" r="1.9"/>
<circle cx="134.5" cy="61.1" r="1.9"/>
<circle cx="146.7" cy="102.1" r="1.9"/>
<circle cx="136.7" cy="69.3" r="1.9"/>
<circle cx="144.8" cy="98.6" r="1.9"/>
</g>
<g fill="#e8845a" fill-opacity="0.18">
<circle cx="162.5" cy="110.9" r="1.9"/>
<circle cx="151.1" cy="105.9" r="1.9"/>
<circle cx="148.9" cy="104.9" r="1.9"/>
<circle cx="147.2" cy="105.0" r="1.9"/>
<circle cx="125.5" cy="111.8" r="1.9"/>
<circle cx="150.4" cy="107.2" r="1.9"/>
<circle cx="150.8" cy="105.5" r="1.9"/>
<circle cx="141.3" cy="106.6" r="1.9"/>
<circle cx="144.6" cy="106.7" r="1.9"/>
<circle cx="136.1" cy="103.9" r="1.9"/>
<circle cx="144.0" cy="105.2" r="1.9"/>
<circle cx="152.1" cy="109.6" r="1.9"/>
<circle cx="127.4" cy="111.7" r="1.9"/>
<circle cx="142.2" cy="108.0" r="1.9"/>
<circle cx="132.7" cy="106.9" r="1.9"/>
<circle cx="137.1" cy="106.0" r="1.9"/>
<circle cx="154.1" cy="104.7" r="1.9"/>
<circle cx="163.9" cy="111.1" r="1.9"/>
<circle cx="139.4" cy="107.3" r="1.9"/>
<circle cx="137.3" cy="108.1" r="1.9"/>
<circle cx="135.2" cy="110.0" r="1.9"/>
<circle cx="128.3" cy="109.7" r="1.9"/>
<circle cx="140.0" cy="106.8" r="1.9"/>
<circle cx="134.5" cy="104.7" r="1.9"/>
<circle cx="130.9" cy="109.4" r="1.9"/>
<circle cx="147.8" cy="109.5" r="1.9"/>
<circle cx="155.3" cy="107.9" r="1.9"/>
<circle cx="145.2" cy="107.9" r="1.9"/>
<circle cx="136.9" cy="112.0" r="1.9"/>
<circle cx="162.7" cy="107.8" r="1.9"/>
<circle cx="163.6" cy="110.3" r="1.9"/>
<circle cx="138.7" cy="111.8" r="1.9"/>
<circle cx="144.4" cy="104.5" r="1.9"/>
<circle cx="150.9" cy="108.1" r="1.9"/>
<circle cx="146.1" cy="104.8" r="1.9"/>
<circle cx="141.9" cy="104.5" r="1.9"/>
<circle cx="153.9" cy="105.6" r="1.9"/>
<circle cx="139.2" cy="108.7" r="1.9"/>
<circle cx="147.5" cy="110.5" r="1.9"/>
<circle cx="146.8" cy="111.6" r="1.9"/>
<circle cx="144.8" cy="105.5" r="1.9"/>
<circle cx="135.7" cy="103.6" r="1.9"/>
<circle cx="152.0" cy="111.2" r="1.9"/>
<circle cx="163.9" cy="108.8" r="1.9"/>
<circle cx="156.6" cy="109.2" r="1.9"/>
<circle cx="162.4" cy="105.6" r="1.9"/>
<circle cx="132.5" cy="107.8" r="1.9"/>
<circle cx="144.7" cy="111.8" r="1.9"/>
<circle cx="129.9" cy="109.3" r="1.9"/>
<circle cx="143.6" cy="108.2" r="1.9"/>
</g>
<g fill="#e8845a" fill-opacity="0.35">
<circle cx="149.0" cy="127.7" r="1.7"/>
<circle cx="137.6" cy="124.2" r="1.7"/>
<circle cx="130.8" cy="110.4" r="1.7"/>
<circle cx="154.4" cy="135.6" r="1.7"/>
<circle cx="138.0" cy="116.3" r="1.7"/>
<circle cx="146.0" cy="120.7" r="1.7"/>
<circle cx="136.5" cy="116.8" r="1.7"/>
<circle cx="139.3" cy="121.9" r="1.7"/>
<circle cx="164.3" cy="125.2" r="1.7"/>
<circle cx="156.8" cy="120.1" r="1.7"/>
<circle cx="152.3" cy="145.6" r="1.7"/>
<circle cx="143.6" cy="111.2" r="1.7"/>
<circle cx="156.2" cy="118.2" r="1.7"/>
<circle cx="147.8" cy="120.2" r="1.7"/>
<circle cx="148.1" cy="140.3" r="1.7"/>
<circle cx="149.9" cy="123.9" r="1.7"/>
<circle cx="158.6" cy="141.2" r="1.7"/>
<circle cx="152.0" cy="145.4" r="1.7"/>
<circle cx="163.0" cy="142.5" r="1.7"/>
<circle cx="125.0" cy="135.1" r="1.7"/>
<circle cx="130.4" cy="121.3" r="1.7"/>
<circle cx="141.0" cy="118.2" r="1.7"/>
<circle cx="161.8" cy="114.7" r="1.7"/>
<circle cx="154.3" cy="144.3" r="1.7"/>
<circle cx="129.8" cy="139.0" r="1.7"/>
<circle cx="137.5" cy="122.4" r="1.7"/>
<circle cx="145.7" cy="135.1" r="1.7"/>
<circle cx="131.3" cy="113.2" r="1.7"/>
<circle cx="138.2" cy="133.6" r="1.7"/>
<circle cx="155.8" cy="120.2" r="1.7"/>
<circle cx="150.5" cy="121.2" r="1.7"/>
<circle cx="149.2" cy="139.5" r="1.7"/>
<circle cx="134.3" cy="126.2" r="1.7"/>
<circle cx="133.4" cy="111.0" r="1.7"/>
<circle cx="136.4" cy="136.0" r="1.7"/>
<circle cx="132.7" cy="120.8" r="1.7"/>
<circle cx="137.2" cy="133.8" r="1.7"/>
<circle cx="162.4" cy="117.5" r="1.7"/>
<circle cx="135.4" cy="142.1" r="1.7"/>
<circle cx="151.9" cy="132.7" r="1.7"/>
<circle cx="164.3" cy="116.7" r="1.7"/>
<circle cx="163.2" cy="117.2" r="1.7"/>
<circle cx="136.1" cy="136.1" r="1.7"/>
<circle cx="153.4" cy="133.9" r="1.7"/>
<circle cx="142.3" cy="137.2" r="1.7"/>
<circle cx="143.8" cy="139.2" r="1.7"/>
<circle cx="146.2" cy="112.5" r="1.7"/>
<circle cx="152.7" cy="141.5" r="1.7"/>
<circle cx="149.4" cy="125.1" r="1.7"/>
<circle cx="134.1" cy="122.1" r="1.7"/>
<circle cx="145.9" cy="123.3" r="1.7"/>
<circle cx="126.3" cy="131.5" r="1.7"/>
<circle cx="153.5" cy="142.9" r="1.7"/>
<circle cx="155.7" cy="146.4" r="1.7"/>
<circle cx="146.7" cy="112.6" r="1.7"/>
<circle cx="140.8" cy="112.4" r="1.7"/>
<circle cx="160.1" cy="129.1" r="1.7"/>
<circle cx="132.4" cy="111.3" r="1.7"/>
<circle cx="137.3" cy="123.0" r="1.7"/>
<circle cx="161.3" cy="143.3" r="1.7"/>
<circle cx="147.7" cy="127.0" r="1.7"/>
<circle cx="153.8" cy="112.3" r="1.7"/>
<circle cx="161.6" cy="140.2" r="1.7"/>
<circle cx="160.3" cy="140.1" r="1.7"/>
<circle cx="161.8" cy="110.1" r="1.7"/>
<circle cx="140.4" cy="128.5" r="1.7"/>
<circle cx="162.5" cy="111.4" r="1.7"/>
<circle cx="162.1" cy="114.5" r="1.7"/>
<circle cx="124.6" cy="125.8" r="1.7"/>
<circle cx="128.6" cy="110.6" r="1.7"/>
<circle cx="135.8" cy="110.4" r="1.7"/>
<circle cx="146.4" cy="128.5" r="1.7"/>
<circle cx="162.6" cy="115.5" r="1.7"/>
<circle cx="143.3" cy="139.5" r="1.7"/>
<circle cx="128.8" cy="140.6" r="1.7"/>
<circle cx="143.0" cy="137.2" r="1.7"/>
<circle cx="131.8" cy="119.6" r="1.7"/>
<circle cx="156.5" cy="125.8" r="1.7"/>
<circle cx="155.2" cy="140.2" r="1.7"/>
<circle cx="159.2" cy="113.8" r="1.7"/>
<circle cx="158.0" cy="127.7" r="1.7"/>
<circle cx="127.7" cy="122.1" r="1.7"/>
<circle cx="131.8" cy="141.4" r="1.7"/>
<circle cx="137.4" cy="137.5" r="1.7"/>
<circle cx="134.9" cy="138.0" r="1.7"/>
<circle cx="155.0" cy="111.7" r="1.7"/>
<circle cx="136.5" cy="120.2" r="1.7"/>
<circle cx="124.7" cy="122.7" r="1.7"/>
<circle cx="152.5" cy="144.3" r="1.7"/>
<circle cx="129.0" cy="135.4" r="1.7"/>
<circle cx="140.8" cy="128.2" r="1.7"/>
<circle cx="160.8" cy="120.9" r="1.7"/>
<circle cx="136.9" cy="142.3" r="1.7"/>
<circle cx="161.7" cy="135.8" r="1.7"/>
<circle cx="149.3" cy="138.6" r="1.7"/>
<circle cx="129.7" cy="141.0" r="1.7"/>
<circle cx="154.8" cy="124.4" r="1.7"/>
<circle cx="141.2" cy="126.5" r="1.7"/>
<circle cx="143.5" cy="126.9" r="1.7"/>
<circle cx="151.4" cy="138.6" r="1.7"/>
<circle cx="134.3" cy="119.0" r="1.7"/>
<circle cx="159.9" cy="143.6" r="1.7"/>
<circle cx="142.5" cy="120.8" r="1.7"/>
<circle cx="127.4" cy="126.0" r="1.7"/>
<circle cx="126.7" cy="126.6" r="1.7"/>
<circle cx="144.9" cy="125.6" r="1.7"/>
<circle cx="130.3" cy="134.6" r="1.7"/>
<circle cx="145.5" cy="142.3" r="1.7"/>
<circle cx="132.6" cy="125.3" r="1.7"/>
<circle cx="127.9" cy="127.9" r="1.7"/>
<circle cx="157.3" cy="130.0" r="1.7"/>
<circle cx="145.2" cy="129.9" r="1.7"/>
<circle cx="126.6" cy="129.7" r="1.7"/>
<circle cx="157.2" cy="120.1" r="1.7"/>
<circle cx="140.4" cy="116.7" r="1.7"/>
<circle cx="154.7" cy="125.4" r="1.7"/>
<circle cx="126.1" cy="134.0" r="1.7"/>
<circle cx="126.8" cy="110.2" r="1.7"/>
<circle cx="162.4" cy="144.0" r="1.7"/>
<circle cx="162.4" cy="145.4" r="1.7"/>
<circle cx="140.9" cy="118.5" r="1.7"/>
<circle cx="155.5" cy="110.8" r="1.7"/>
<circle cx="150.6" cy="131.2" r="1.7"/>
<circle cx="164.8" cy="132.6" r="1.7"/>
<circle cx="159.8" cy="113.4" r="1.7"/>
<circle cx="139.6" cy="121.6" r="1.7"/>
<circle cx="151.3" cy="126.9" r="1.7"/>
<circle cx="150.9" cy="133.9" r="1.7"/>
<circle cx="131.5" cy="126.9" r="1.7"/>
<circle cx="145.8" cy="120.0" r="1.7"/>
<circle cx="133.3" cy="146.4" r="1.7"/>
<circle cx="125.1" cy="135.7" r="1.7"/>
<circle cx="151.7" cy="126.7" r="1.7"/>
<circle cx="146.0" cy="116.5" r="1.7"/>
<circle cx="134.3" cy="133.9" r="1.7"/>
<circle cx="135.5" cy="112.3" r="1.7"/>
<circle cx="153.9" cy="142.4" r="1.7"/>
<circle cx="157.3" cy="131.2" r="1.7"/>
<circle cx="155.5" cy="114.3" r="1.7"/>
<circle cx="124.8" cy="139.0" r="1.7"/>
<circle cx="128.3" cy="145.3" r="1.7"/>
<circle cx="148.6" cy="120.9" r="1.7"/>
<circle cx="126.2" cy="119.5" r="1.7"/>
<circle cx="140.7" cy="138.0" r="1.7"/>
<circle cx="133.1" cy="115.0" r="1.7"/>
<circle cx="126.5" cy="128.2" r="1.7"/>
<circle cx="136.0" cy="116.8" r="1.7"/>
<circle cx="154.1" cy="134.9" r="1.7"/>
<circle cx="148.7" cy="122.0" r="1.7"/>
<circle cx="137.3" cy="135.5" r="1.7"/>
<circle cx="130.1" cy="122.4" r="1.7"/>
<circle cx="133.2" cy="135.6" r="1.7"/>
<circle cx="126.7" cy="111.9" r="1.7"/>
<circle cx="160.2" cy="113.3" r="1.7"/>
<circle cx="149.8" cy="131.0" r="1.7"/>
<circle cx="144.5" cy="111.0" r="1.7"/>
<circle cx="162.7" cy="122.0" r="1.7"/>
<circle cx="156.3" cy="134.9" r="1.7"/>
<circle cx="141.2" cy="141.1" r="1.7"/>
<circle cx="139.6" cy="119.0" r="1.7"/>
<circle cx="143.6" cy="115.5" r="1.7"/>
<circle cx="136.5" cy="120.7" r="1.7"/>
<circle cx="157.2" cy="113.1" r="1.7"/>
<circle cx="147.2" cy="111.2" r="1.7"/>
<circle cx="147.0" cy="141.7" r="1.7"/>
<circle cx="134.1" cy="139.1" r="1.7"/>
<circle cx="150.7" cy="112.9" r="1.7"/>
<circle cx="158.8" cy="143.2" r="1.7"/>
<circle cx="153.8" cy="139.6" r="1.7"/>
<circle cx="135.2" cy="121.9" r="1.7"/>
<circle cx="148.9" cy="114.6" r="1.7"/>
<circle cx="131.9" cy="118.7" r="1.7"/>
<circle cx="153.8" cy="126.1" r="1.7"/>
<circle cx="143.8" cy="114.8" r="1.7"/>
<circle cx="137.8" cy="111.6" r="1.7"/>
<circle cx="124.8" cy="112.3" r="1.7"/>
<circle cx="163.5" cy="142.3" r="1.7"/>
<circle cx="165.1" cy="129.1" r="1.7"/>
<circle cx="134.1" cy="124.5" r="1.7"/>
<circle cx="132.6" cy="113.1" r="1.7"/>
<circle cx="146.8" cy="118.2" r="1.7"/>
<circle cx="139.8" cy="127.1" r="1.7"/>
<circle cx="138.9" cy="137.0" r="1.7"/>
<circle cx="145.2" cy="128.4" r="1.7"/>
<circle cx="128.2" cy="110.7" r="1.7"/>
<circle cx="143.4" cy="115.9" r="1.7"/>
<circle cx="161.6" cy="133.0" r="1.7"/>
<circle cx="141.1" cy="126.0" r="1.7"/>
<circle cx="133.3" cy="141.2" r="1.7"/>
<circle cx="134.9" cy="112.4" r="1.7"/>
<circle cx="147.9" cy="131.3" r="1.7"/>
<circle cx="130.4" cy="134.5" r="1.7"/>
<circle cx="139.7" cy="116.1" r="1.7"/>
<circle cx="144.6" cy="122.6" r="1.7"/>
<circle cx="152.2" cy="137.2" r="1.7"/>
<circle cx="157.8" cy="111.2" r="1.7"/>
<circle cx="150.4" cy="128.6" r="1.7"/>
<circle cx="131.1" cy="117.5" r="1.7"/>
<circle cx="131.1" cy="120.2" r="1.7"/>
<circle cx="144.2" cy="113.1" r="1.7"/>
<circle cx="146.4" cy="123.1" r="1.7"/>
<circle cx="126.6" cy="145.3" r="1.7"/>
<circle cx="158.8" cy="112.0" r="1.7"/>
<circle cx="151.5" cy="118.6" r="1.7"/>
<circle cx="141.1" cy="115.8" r="1.7"/>
<circle cx="133.7" cy="120.7" r="1.7"/>
<circle cx="124.6" cy="128.1" r="1.7"/>
<circle cx="139.5" cy="124.0" r="1.7"/>
<circle cx="151.5" cy="124.0" r="1.7"/>
<circle cx="144.0" cy="128.7" r="1.7"/>
<circle cx="124.5" cy="126.4" r="1.7"/>
<circle cx="124.7" cy="127.2" r="1.7"/>
<circle cx="135.4" cy="110.8" r="1.7"/>
<circle cx="124.9" cy="116.9" r="1.7"/>
<circle cx="151.8" cy="117.1" r="1.7"/>
<circle cx="161.4" cy="142.7" r="1.7"/>
<circle cx="128.1" cy="141.1" r="1.7"/>
<circle cx="132.1" cy="127.3" r="1.7"/>
<circle cx="157.5" cy="136.8" r="1.7"/>
<circle cx="140.4" cy="132.9" r="1.7"/>
<circle cx="140.8" cy="125.9" r="1.7"/>
<circle cx="164.7" cy="138.3" r="1.7"/>
<circle cx="152.2" cy="115.6" r="1.7"/>
<circle cx="150.9" cy="115.2" r="1.7"/>
<circle cx="155.3" cy="143.1" r="1.7"/>
<circle cx="139.7" cy="126.4" r="1.7"/>
<circle cx="126.5" cy="146.2" r="1.7"/>
<circle cx="131.2" cy="128.3" r="1.7"/>
<circle cx="141.9" cy="117.9" r="1.7"/>
<circle cx="147.3" cy="115.2" r="1.7"/>
<circle cx="128.1" cy="127.3" r="1.7"/>
<circle cx="125.9" cy="138.8" r="1.7"/>
<circle cx="159.7" cy="114.1" r="1.7"/>
<circle cx="143.6" cy="144.9" r="1.7"/>
<circle cx="127.2" cy="112.7" r="1.7"/>
<circle cx="161.0" cy="126.0" r="1.7"/>
<circle cx="125.5" cy="112.6" r="1.7"/>
<circle cx="137.1" cy="111.4" r="1.7"/>
<circle cx="148.2" cy="119.1" r="1.7"/>
<circle cx="153.3" cy="132.0" r="1.7"/>
<circle cx="127.3" cy="140.6" r="1.7"/>
<circle cx="134.0" cy="116.1" r="1.7"/>
<circle cx="140.1" cy="113.8" r="1.7"/>
<circle cx="137.8" cy="119.0" r="1.7"/>
<circle cx="129.9" cy="110.4" r="1.7"/>
<circle cx="153.8" cy="128.3" r="1.7"/>
<circle cx="164.0" cy="144.6" r="1.7"/>
<circle cx="142.1" cy="115.9" r="1.7"/>
<circle cx="138.1" cy="118.5" r="1.7"/>
<circle cx="163.3" cy="132.1" r="1.7"/>
<circle cx="155.8" cy="145.5" r="1.7"/>
<circle cx="135.4" cy="110.3" r="1.7"/>
<circle cx="144.3" cy="133.6" r="1.7"/>
<circle cx="162.7" cy="130.8" r="1.7"/>
<circle cx="152.0" cy="122.4" r="1.7"/>
<circle cx="127.7" cy="124.0" r="1.7"/>
<circle cx="156.8" cy="120.5" r="1.7"/>
<circle cx="127.6" cy="140.9" r="1.7"/>
<circle cx="153.3" cy="123.4" r="1.7"/>
<circle cx="154.5" cy="135.0" r="1.7"/>
<circle cx="128.6" cy="146.4" r="1.7"/>
<circle cx="136.8" cy="133.4" r="1.7"/>
<circle cx="135.2" cy="141.7" r="1.7"/>
<circle cx="131.9" cy="130.2" r="1.7"/>
<circle cx="146.9" cy="131.7" r="1.7"/>
<circle cx="125.3" cy="133.6" r="1.7"/>
<circle cx="128.0" cy="124.7" r="1.7"/>
<circle cx="137.5" cy="132.5" r="1.7"/>
<circle cx="136.1" cy="132.4" r="1.7"/>
<circle cx="127.7" cy="113.6" r="1.7"/>
<circle cx="161.2" cy="110.8" r="1.7"/>
<circle cx="147.6" cy="140.4" r="1.7"/>
<circle cx="139.8" cy="141.5" r="1.7"/>
<circle cx="136.5" cy="128.5" r="1.7"/>
<circle cx="126.8" cy="130.7" r="1.7"/>
<circle cx="141.4" cy="128.9" r="1.7"/>
<circle cx="127.3" cy="137.4" r="1.7"/>
<circle cx="134.3" cy="123.7" r="1.7"/>
<circle cx="148.5" cy="139.4" r="1.7"/>
<circle cx="128.6" cy="135.4" r="1.7"/>
<circle cx="163.0" cy="134.4" r="1.7"/>
<circle cx="149.6" cy="117.2" r="1.7"/>
<circle cx="137.7" cy="134.3" r="1.7"/>
<circle cx="157.6" cy="115.2" r="1.7"/>
<circle cx="164.0" cy="141.6" r="1.7"/>
<circle cx="137.3" cy="112.0" r="1.7"/>
<circle cx="132.4" cy="135.1" r="1.7"/>
<circle cx="163.7" cy="111.2" r="1.7"/>
<circle cx="136.1" cy="121.2" r="1.7"/>
<circle cx="144.3" cy="125.5" r="1.7"/>
<circle cx="134.1" cy="132.8" r="1.7"/>
<circle cx="157.6" cy="132.2" r="1.7"/>
<circle cx="128.9" cy="126.0" r="1.7"/>
<circle cx="148.4" cy="126.6" r="1.7"/>
<circle cx="152.1" cy="126.5" r="1.7"/>
<circle cx="163.2" cy="129.7" r="1.7"/>
<circle cx="153.2" cy="130.5" r="1.7"/>
<circle cx="136.1" cy="121.2" r="1.7"/>
<circle cx="157.7" cy="117.5" r="1.7"/>
<circle cx="140.9" cy="128.3" r="1.7"/>
</g>
<g fill="#e8845a" fill-opacity="0.3">
<circle cx="150.1" cy="144.6" r="1.7"/>
<circle cx="151.1" cy="140.7" r="1.7"/>
<circle cx="156.5" cy="146.0" r="1.7"/>
<circle cx="164.7" cy="142.6" r="1.7"/>
<circle cx="140.6" cy="142.4" r="1.7"/>
<circle cx="161.8" cy="140.8" r="1.7"/>
<circle cx="146.4" cy="140.0" r="1.7"/>
<circle cx="138.9" cy="139.2" r="1.7"/>
<circle cx="146.2" cy="141.3" r="1.7"/>
<circle cx="127.7" cy="140.2" r="1.7"/>
<circle cx="151.1" cy="143.6" r="1.7"/>
<circle cx="150.7" cy="146.2" r="1.7"/>
<circle cx="164.4" cy="141.0" r="1.7"/>
<circle cx="140.5" cy="140.3" r="1.7"/>
<circle cx="163.7" cy="143.0" r="1.7"/>
<circle cx="124.6" cy="144.4" r="1.7"/>
<circle cx="145.1" cy="142.3" r="1.7"/>
<circle cx="147.9" cy="141.8" r="1.7"/>
<circle cx="142.4" cy="143.3" r="1.7"/>
<circle cx="155.8" cy="141.7" r="1.7"/>
<circle cx="144.7" cy="143.7" r="1.7"/>
<circle cx="125.2" cy="145.7" r="1.7"/>
<circle cx="141.2" cy="138.6" r="1.7"/>
<circle cx="128.9" cy="138.8" r="1.7"/>
<circle cx="130.0" cy="144.0" r="1.7"/>
<circle cx="142.8" cy="144.9" r="1.7"/>
<circle cx="144.0" cy="142.6" r="1.7"/>
<circle cx="142.1" cy="140.8" r="1.7"/>
<circle cx="137.2" cy="144.1" r="1.7"/>
<circle cx="157.3" cy="145.6" r="1.7"/>
<circle cx="158.9" cy="141.2" r="1.7"/>
<circle cx="151.9" cy="145.2" r="1.7"/>
<circle cx="164.4" cy="144.5" r="1.7"/>
<circle cx="131.3" cy="145.2" r="1.7"/>
<circle cx="147.1" cy="138.6" r="1.7"/>
<circle cx="133.7" cy="143.2" r="1.7"/>
<circle cx="131.7" cy="141.3" r="1.7"/>
<circle cx="141.9" cy="146.3" r="1.7"/>
<circle cx="149.3" cy="144.9" r="1.7"/>
<circle cx="148.4" cy="143.4" r="1.7"/>
<circle cx="153.0" cy="144.9" r="1.7"/>
<circle cx="155.0" cy="139.9" r="1.7"/>
<circle cx="126.8" cy="145.7" r="1.7"/>
<circle cx="159.9" cy="145.0" r="1.7"/>
<circle cx="137.5" cy="142.8" r="1.7"/>
<circle cx="134.9" cy="139.4" r="1.7"/>
<circle cx="145.8" cy="141.3" r="1.7"/>
<circle cx="148.6" cy="141.5" r="1.7"/>
<circle cx="148.2" cy="143.7" r="1.7"/>
<circle cx="158.8" cy="141.5" r="1.7"/>
<circle cx="157.5" cy="140.7" r="1.7"/>
<circle cx="136.4" cy="141.5" r="1.7"/>
<circle cx="127.7" cy="145.5" r="1.7"/>
<circle cx="129.0" cy="144.0" r="1.7"/>
<circle cx="131.7" cy="140.8" r="1.7"/>
<circle cx="145.1" cy="143.1" r="1.7"/>
<circle cx="129.8" cy="143.4" r="1.7"/>
<circle cx="131.8" cy="141.3" r="1.7"/>
<circle cx="152.6" cy="141.2" r="1.7"/>
<circle cx="165.1" cy="142.0" r="1.7"/>
<circle cx="144.2" cy="145.4" r="1.7"/>
<circle cx="137.1" cy="142.8" r="1.7"/>
<circle cx="126.4" cy="143.6" r="1.7"/>
<circle cx="124.6" cy="145.4" r="1.7"/>
<circle cx="157.5" cy="138.6" r="1.7"/>
<circle cx="144.9" cy="142.5" r="1.7"/>
<circle cx="152.2" cy="143.1" r="1.7"/>
<circle cx="158.6" cy="142.5" r="1.7"/>
<circle cx="127.6" cy="146.3" r="1.7"/>
<circle cx="155.3" cy="144.2" r="1.7"/>
<circle cx="135.4" cy="142.1" r="1.7"/>
<circle cx="131.1" cy="142.8" r="1.7"/>
<circle cx="154.6" cy="140.2" r="1.7"/>
<circle cx="146.7" cy="145.6" r="1.7"/>
<circle cx="128.9" cy="140.2" r="1.7"/>
<circle cx="157.9" cy="143.5" r="1.7"/>
<circle cx="157.8" cy="146.2" r="1.7"/>
<circle cx="153.6" cy="142.0" r="1.7"/>
<circle cx="164.7" cy="145.7" r="1.7"/>
<circle cx="158.1" cy="140.4" r="1.7"/>
<circle cx="136.4" cy="138.3" r="1.7"/>
<circle cx="142.6" cy="143.7" r="1.7"/>
<circle cx="157.6" cy="142.9" r="1.7"/>
<circle cx="164.9" cy="140.2" r="1.7"/>
<circle cx="133.9" cy="139.9" r="1.7"/>
<circle cx="148.2" cy="143.7" r="1.7"/>
<circle cx="153.3" cy="141.3" r="1.7"/>
<circle cx="131.0" cy="145.4" r="1.7"/>
<circle cx="132.7" cy="144.9" r="1.7"/>
<circle cx="126.6" cy="143.7" r="1.7"/>
<circle cx="135.7" cy="142.1" r="1.7"/>
<circle cx="137.4" cy="140.7" r="1.7"/>
<circle cx="136.0" cy="144.4" r="1.7"/>
<circle cx="159.3" cy="138.4" r="1.7"/>
<circle cx="152.0" cy="145.8" r="1.7"/>
<circle cx="163.6" cy="140.1" r="1.7"/>
<circle cx="161.8" cy="138.4" r="1.7"/>
<circle cx="159.7" cy="145.5" r="1.7"/>
<circle cx="159.6" cy="144.5" r="1.7"/>
<circle cx="153.3" cy="139.7" r="1.7"/>
<circle cx="155.3" cy="141.0" r="1.7"/>
<circle cx="144.2" cy="141.8" r="1.7"/>
<circle cx="135.2" cy="143.1" r="1.7"/>
<circle cx="142.7" cy="141.3" r="1.7"/>
<circle cx="160.2" cy="145.8" r="1.7"/>
<circle cx="145.3" cy="144.3" r="1.7"/>
<circle cx="162.5" cy="143.5" r="1.7"/>
<circle cx="163.1" cy="143.9" r="1.7"/>
<circle cx="124.3" cy="140.2" r="1.7"/>
<circle cx="154.2" cy="140.5" r="1.7"/>
<circle cx="143.0" cy="141.1" r="1.7"/>
<circle cx="138.9" cy="146.0" r="1.7"/>
<circle cx="146.1" cy="144.8" r="1.7"/>
<circle cx="141.8" cy="144.8" r="1.7"/>
<circle cx="135.2" cy="139.7" r="1.7"/>
<circle cx="138.0" cy="141.8" r="1.7"/>
<circle cx="147.4" cy="142.6" r="1.7"/>
<circle cx="138.3" cy="140.9" r="1.7"/>
<circle cx="126.2" cy="145.7" r="1.7"/>
<circle cx="156.3" cy="142.8" r="1.7"/>
<circle cx="129.3" cy="139.5" r="1.7"/>
<circle cx="142.2" cy="146.6" r="1.7"/>
<circle cx="163.4" cy="144.9" r="1.7"/>
<circle cx="152.4" cy="145.5" r="1.7"/>
<circle cx="150.8" cy="145.3" r="1.7"/>
<circle cx="162.3" cy="144.3" r="1.7"/>
<circle cx="151.0" cy="144.5" r="1.7"/>
<circle cx="139.4" cy="139.1" r="1.7"/>
<circle cx="131.0" cy="143.3" r="1.7"/>
<circle cx="136.7" cy="140.8" r="1.7"/>
<circle cx="133.8" cy="141.1" r="1.7"/>
<circle cx="153.0" cy="146.6" r="1.7"/>
<circle cx="143.7" cy="145.5" r="1.7"/>
<circle cx="133.5" cy="140.9" r="1.7"/>
<circle cx="124.6" cy="140.8" r="1.7"/>
<circle cx="157.6" cy="138.4" r="1.7"/>
<circle cx="141.5" cy="145.5" r="1.7"/>
<circle cx="127.1" cy="143.4" r="1.7"/>
<circle cx="154.1" cy="145.7" r="1.7"/>
<circle cx="137.0" cy="139.3" r="1.7"/>
<circle cx="129.8" cy="140.2" r="1.7"/>
<circle cx="155.0" cy="145.5" r="1.7"/>
<circle cx="164.8" cy="145.4" r="1.7"/>
<circle cx="145.9" cy="146.5" r="1.7"/>
<circle cx="150.8" cy="142.9" r="1.7"/>
<circle cx="153.7" cy="141.4" r="1.7"/>
<circle cx="130.4" cy="143.2" r="1.7"/>
<circle cx="152.3" cy="139.5" r="1.7"/>
<circle cx="127.7" cy="145.7" r="1.7"/>
<circle cx="155.0" cy="141.7" r="1.7"/>
</g>
<line x1="84.2" y1="111.1" x2="84.2" y2="92.6" stroke="#444" stroke-width="1.0"/>
<line x1="84.2" y1="125.2" x2="84.2" y2="134.6" stroke="#444" stroke-width="1.0"/>
<line x1="79.2" y1="92.6" x2="89.2" y2="92.6" stroke="#444" stroke-width="1.0"/>
<line x1="79.2" y1="134.6" x2="89.2" y2="134.6" stroke="#444" stroke-width="1.0"/>
<line x1="144.7" y1="122.0" x2="144.7" y2="110.5" stroke="#444" stroke-width="1.0"/>
<line x1="144.7" y1="136.1" x2="144.7" y2="143.7" stroke="#444" stroke-width="1.0"/>
<line x1="139.7" y1="110.5" x2="149.7" y2="110.5" stroke="#444" stroke-width="1.0"/>
<line x1="139.7" y1="143.7" x2="149.7" y2="143.7" stroke="#444" stroke-width="1.0"/>
<rect x="63.0" y="99.6" width="42.5" height="33.9" fill="#71bf9e" stroke="none" stroke-width="1" fill-opacity="0.9"/>
<rect x="63.0" y="101.3" width="42.5" height="17.4" fill="#6bbd99" stroke="none" stroke-width="1" fill-opacity="0.5"/>
<rect x="123.5" y="113.1" width="42.3" height="27.0" fill="#e27f5a" stroke="none" stroke-width="1" fill-opacity="0.9"/>
<line x1="62.0" y1="120.0" x2="106.5" y2="120.0" stroke="#3f6e5a" stroke-width="1.0"/>
<line x1="122.5" y1="131.3" x2="166.8" y2="131.3" stroke="#7a4a36" stroke-width="1.0"/>
<path d="M44.5,16.5 H183.5 V147.0 H44.5 Z" fill="none" stroke="#333" stroke-width="1.1"/>
<line x1="42.0" y1="147.0" x2="44.5" y2="147.0" stroke="#333" stroke-width="0.9"/>
<text x="32.7" y="149.4" font-size="9.3" text-anchor="middle" >0</text>
<line x1="42.0" y1="125.2" x2="44.5" y2="125.2" stroke="#333" stroke-width="0.9"/>
<text x="32.7" y="127.7" font-size="9.3" text-anchor="middle" >1</text>
<line x1="42.0" y1="103.5" x2="44.5" y2="103.5" stroke="#333" stroke-width="0.9"/>
<text x="32.7" y="105.9" font-size="9.3" text-anchor="middle" >2</text>
<line x1="42.0" y1="81.8" x2="44.5" y2="81.8" stroke="#333" stroke-width="0.9"/>
<text x="32.7" y="84.2" font-size="9.3" text-anchor="middle" >3</text>
<line x1="42.0" y1="60.0" x2="44.5" y2="60.0" stroke="#333" stroke-width="0.9"/>
<text x="32.7" y="62.4" font-size="9.3" text-anchor="middle" >4</text>
<line x1="42.0" y1="38.2" x2="44.5" y2="38.2" stroke="#333" stroke-width="0.9"/>
<text x="32.7" y="40.6" font-size="9.3" text-anchor="middle" >5</text>
<line x1="42.0" y1="16.5" x2="44.5" y2="16.5" stroke="#333" stroke-width="0.9"/>
<text x="32.7" y="18.9" font-size="9.3" text-anchor="middle" >6</text>
<line x1="84.3" y1="147.0" x2="84.3" y2="149.0" stroke="#333" stroke-width="0.8"/>
<line x1="144.5" y1="147.0" x2="144.5" y2="149.0" stroke="#333" stroke-width="0.8"/>
<path d="M84.3,91.5 V88.0 H144.8 V90.5" fill="none" stroke="#3a3a3a" stroke-width="1.2"/>
<polygon points="113.30,70.80 113.99,72.45 115.77,72.60 114.41,73.76 114.83,75.50 113.30,74.57 111.77,75.50 112.19,73.76 110.83,72.60 112.61,72.45" fill="#1a1a1a" stroke="#1a1a1a" stroke-width="0.5" stroke-linejoin="round"/>
<polygon points="118.30,70.80 118.99,72.45 120.77,72.60 119.41,73.76 119.83,75.50 118.30,74.57 116.77,75.50 117.19,73.76 115.83,72.60 117.61,72.45" fill="#1a1a1a" stroke="#1a1a1a" stroke-width="0.5" stroke-linejoin="round"/>
<polygon points="123.30,70.80 123.99,72.45 125.77,72.60 124.41,73.76 124.83,75.50 123.30,74.57 121.77,75.50 122.19,73.76 120.83,72.60 122.61,72.45" fill="#1a1a1a" stroke="#1a1a1a" stroke-width="0.5" stroke-linejoin="round"/>
<text x="85.5" y="28.8" font-size="9.3" text-anchor="start" >0.05° (N=4999)</text>
<text transform="translate(4.8,93.0) rotate(-90)" font-size="9.3" text-anchor="middle" dominant-baseline="central">Diff. in AGC rate</text>
<text transform="translate(16.0,93.0) rotate(-90)" font-size="9.3" text-anchor="middle" dominant-baseline="central">(PYF-NYF) (Tg C yr<tspan font-size="5.8" dy="-2.5">-1</tspan><tspan dy="2.5">)</tspan></text>
<g fill="#6cc39c" fill-opacity="0.18">
<circle cx="79.5" cy="200.9" r="1.9"/>
<circle cx="76.7" cy="253.7" r="1.9"/>
<circle cx="75.2" cy="257.2" r="1.9"/>
<circle cx="86.4" cy="224.2" r="1.9"/>
<circle cx="88.6" cy="212.7" r="1.9"/>
<circle cx="92.0" cy="208.3" r="1.9"/>
<circle cx="90.7" cy="243.3" r="1.9"/>
<circle cx="85.0" cy="230.0" r="1.9"/>
<circle cx="94.3" cy="243.7" r="1.9"/>
<circle cx="66.1" cy="205.0" r="1.9"/>
<circle cx="102.8" cy="230.9" r="1.9"/>
<circle cx="68.5" cy="230.6" r="1.9"/>
<circle cx="88.1" cy="228.8" r="1.9"/>
<circle cx="103.7" cy="199.3" r="1.9"/>
<circle cx="101.9" cy="254.2" r="1.9"/>
<circle cx="98.9" cy="226.2" r="1.9"/>
<circle cx="78.8" cy="218.8" r="1.9"/>
<circle cx="94.9" cy="201.4" r="1.9"/>
<circle cx="95.3" cy="261.6" r="1.9"/>
<circle cx="66.6" cy="245.8" r="1.9"/>
<circle cx="65.5" cy="258.8" r="1.9"/>
<circle cx="96.0" cy="230.1" r="1.9"/>
<circle cx="89.5" cy="230.5" r="1.9"/>
<circle cx="80.8" cy="217.6" r="1.9"/>
<circle cx="67.3" cy="228.2" r="1.9"/>
</g>
<g fill="#6cc39c" fill-opacity="0.18">
<circle cx="89.0" cy="255.7" r="1.9"/>
<circle cx="76.5" cy="249.8" r="1.9"/>
<circle cx="72.2" cy="242.3" r="1.9"/>
<circle cx="85.7" cy="252.8" r="1.9"/>
<circle cx="89.7" cy="241.7" r="1.9"/>
<circle cx="91.6" cy="261.0" r="1.9"/>
<circle cx="92.3" cy="244.3" r="1.9"/>
<circle cx="98.4" cy="261.2" r="1.9"/>
<circle cx="67.4" cy="251.7" r="1.9"/>
<circle cx="82.4" cy="247.3" r="1.9"/>
<circle cx="76.5" cy="244.0" r="1.9"/>
<circle cx="94.0" cy="259.6" r="1.9"/>
<circle cx="92.7" cy="245.0" r="1.9"/>
<circle cx="70.6" cy="238.7" r="1.9"/>
<circle cx="85.2" cy="243.0" r="1.9"/>
<circle cx="93.2" cy="258.4" r="1.9"/>
<circle cx="69.1" cy="243.0" r="1.9"/>
<circle cx="74.8" cy="240.4" r="1.9"/>
<circle cx="95.3" cy="261.9" r="1.9"/>
<circle cx="96.7" cy="255.8" r="1.9"/>
<circle cx="66.5" cy="244.7" r="1.9"/>
<circle cx="87.4" cy="260.7" r="1.9"/>
<circle cx="82.4" cy="253.6" r="1.9"/>
<circle cx="84.2" cy="248.4" r="1.9"/>
<circle cx="78.9" cy="256.2" r="1.9"/>
<circle cx="68.1" cy="248.2" r="1.9"/>
<circle cx="93.3" cy="256.9" r="1.9"/>
<circle cx="84.6" cy="261.5" r="1.9"/>
<circle cx="99.0" cy="256.5" r="1.9"/>
<circle cx="83.1" cy="253.0" r="1.9"/>
<circle cx="70.0" cy="239.2" r="1.9"/>
<circle cx="98.8" cy="248.7" r="1.9"/>
<circle cx="101.1" cy="244.0" r="1.9"/>
<circle cx="81.0" cy="254.5" r="1.9"/>
<circle cx="80.8" cy="244.5" r="1.9"/>
<circle cx="74.9" cy="260.7" r="1.9"/>
<circle cx="79.1" cy="250.0" r="1.9"/>
<circle cx="100.6" cy="258.1" r="1.9"/>
<circle cx="96.6" cy="238.0" r="1.9"/>
<circle cx="102.7" cy="260.9" r="1.9"/>
<circle cx="82.8" cy="255.5" r="1.9"/>
<circle cx="98.3" cy="254.4" r="1.9"/>
<circle cx="86.4" cy="262.4" r="1.9"/>
<circle cx="72.1" cy="248.5" r="1.9"/>
<circle cx="76.3" cy="247.0" r="1.9"/>
<circle cx="82.8" cy="247.8" r="1.9"/>
<circle cx="84.0" cy="243.2" r="1.9"/>
<circle cx="71.9" cy="240.0" r="1.9"/>
<circle cx="94.9" cy="256.5" r="1.9"/>
<circle cx="64.2" cy="252.3" r="1.9"/>
<circle cx="73.4" cy="253.9" r="1.9"/>
<circle cx="98.1" cy="240.6" r="1.9"/>
<circle cx="102.6" cy="262.6" r="1.9"/>
<circle cx="90.7" cy="241.3" r="1.9"/>
<circle cx="93.5" cy="260.0" r="1.9"/>
<circle cx="85.5" cy="256.6" r="1.9"/>
<circle cx="83.9" cy="261.1" r="1.9"/>
<circle cx="104.5" cy="244.7" r="1.9"/>
<circle cx="67.7" cy="239.5" r="1.9"/>
<circle cx="100.4" cy="249.6" r="1.9"/>
</g>
<g fill="#6cc39c" fill-opacity="0.35">
<circle cx="92.6" cy="267.9" r="1.5"/>
<circle cx="103.9" cy="270.4" r="1.5"/>
<circle cx="67.5" cy="270.0" r="1.5"/>
<circle cx="97.5" cy="270.5" r="1.5"/>
<circle cx="87.1" cy="267.4" r="1.5"/>
<circle cx="103.5" cy="269.1" r="1.5"/>
<circle cx="74.3" cy="268.4" r="1.5"/>
<circle cx="96.7" cy="265.2" r="1.5"/>
<circle cx="94.0" cy="268.4" r="1.5"/>
<circle cx="74.8" cy="270.5" r="1.5"/>
<circle cx="71.9" cy="264.5" r="1.5"/>
<circle cx="87.8" cy="269.8" r="1.5"/>
<circle cx="70.3" cy="267.1" r="1.5"/>
<circle cx="80.4" cy="266.6" r="1.5"/>
<circle cx="103.5" cy="269.3" r="1.5"/>
<circle cx="76.3" cy="268.8" r="1.5"/>
<circle cx="68.5" cy="269.8" r="1.5"/>
<circle cx="92.0" cy="264.1" r="1.5"/>
<circle cx="92.4" cy="270.7" r="1.5"/>
<circle cx="98.2" cy="268.3" r="1.5"/>
<circle cx="67.3" cy="269.0" r="1.5"/>
<circle cx="78.3" cy="266.7" r="1.5"/>
<circle cx="91.6" cy="268.9" r="1.5"/>
<circle cx="104.6" cy="270.8" r="1.5"/>
<circle cx="80.3" cy="267.3" r="1.5"/>
<circle cx="94.5" cy="269.0" r="1.5"/>
<circle cx="82.7" cy="264.3" r="1.5"/>
<circle cx="69.3" cy="271.0" r="1.5"/>
<circle cx="98.0" cy="262.8" r="1.5"/>
<circle cx="68.9" cy="264.1" r="1.5"/>
<circle cx="78.9" cy="265.8" r="1.5"/>
<circle cx="90.3" cy="266.2" r="1.5"/>
<circle cx="74.2" cy="264.2" r="1.5"/>
<circle cx="64.4" cy="270.5" r="1.5"/>
<circle cx="101.0" cy="267.3" r="1.5"/>
<circle cx="68.8" cy="263.4" r="1.5"/>
<circle cx="97.9" cy="268.3" r="1.5"/>
<circle cx="65.3" cy="267.2" r="1.5"/>
<circle cx="70.5" cy="266.2" r="1.5"/>
<circle cx="97.6" cy="267.7" r="1.5"/>
<circle cx="64.7" cy="265.3" r="1.5"/>
<circle cx="70.7" cy="269.3" r="1.5"/>
<circle cx="71.3" cy="268.7" r="1.5"/>
<circle cx="100.2" cy="270.8" r="1.5"/>
<circle cx="89.2" cy="269.0" r="1.5"/>
<circle cx="75.7" cy="267.6" r="1.5"/>
<circle cx="86.4" cy="270.6" r="1.5"/>
<circle cx="75.1" cy="269.9" r="1.5"/>
<circle cx="71.8" cy="263.6" r="1.5"/>
<circle cx="85.3" cy="265.8" r="1.5"/>
<circle cx="96.8" cy="264.4" r="1.5"/>
<circle cx="104.6" cy="264.5" r="1.5"/>
<circle cx="78.4" cy="266.5" r="1.5"/>
<circle cx="83.6" cy="263.4" r="1.5"/>
<circle cx="84.3" cy="267.8" r="1.5"/>
<circle cx="71.0" cy="268.4" r="1.5"/>
<circle cx="72.6" cy="263.5" r="1.5"/>
<circle cx="95.8" cy="270.6" r="1.5"/>
<circle cx="104.6" cy="266.6" r="1.5"/>
<circle cx="95.3" cy="262.6" r="1.5"/>
<circle cx="103.9" cy="270.2" r="1.5"/>
<circle cx="90.8" cy="268.8" r="1.5"/>
<circle cx="97.4" cy="263.3" r="1.5"/>
<circle cx="65.8" cy="262.7" r="1.5"/>
<circle cx="72.6" cy="263.9" r="1.5"/>
<circle cx="96.6" cy="268.1" r="1.5"/>
<circle cx="98.3" cy="263.9" r="1.5"/>
<circle cx="70.8" cy="266.1" r="1.5"/>
<circle cx="97.0" cy="265.2" r="1.5"/>
<circle cx="101.4" cy="270.8" r="1.5"/>
<circle cx="92.6" cy="263.1" r="1.5"/>
<circle cx="86.9" cy="266.3" r="1.5"/>
<circle cx="71.3" cy="262.7" r="1.5"/>
<circle cx="100.1" cy="266.9" r="1.5"/>
<circle cx="76.3" cy="266.9" r="1.5"/>
<circle cx="67.2" cy="269.1" r="1.5"/>
<circle cx="72.6" cy="266.6" r="1.5"/>
<circle cx="63.5" cy="263.3" r="1.5"/>
<circle cx="71.9" cy="270.0" r="1.5"/>
<circle cx="93.3" cy="263.3" r="1.5"/>
<circle cx="98.5" cy="268.3" r="1.5"/>
<circle cx="64.4" cy="266.1" r="1.5"/>
<circle cx="101.6" cy="264.5" r="1.5"/>
<circle cx="98.6" cy="263.8" r="1.5"/>
<circle cx="103.4" cy="267.9" r="1.5"/>
<circle cx="102.6" cy="267.7" r="1.5"/>
<circle cx="67.7" cy="268.5" r="1.5"/>
<circle cx="69.2" cy="269.8" r="1.5"/>
<circle cx="102.9" cy="264.4" r="1.5"/>
<circle cx="103.4" cy="265.6" r="1.5"/>
<circle cx="70.7" cy="262.9" r="1.5"/>
<circle cx="92.3" cy="263.2" r="1.5"/>
<circle cx="96.2" cy="269.2" r="1.5"/>
<circle cx="87.9" cy="269.6" r="1.5"/>
<circle cx="76.2" cy="265.3" r="1.5"/>
<circle cx="68.8" cy="264.9" r="1.5"/>
<circle cx="102.9" cy="263.1" r="1.5"/>
<circle cx="79.8" cy="262.7" r="1.5"/>
<circle cx="103.6" cy="270.8" r="1.5"/>
<circle cx="88.5" cy="263.3" r="1.5"/>
<circle cx="103.7" cy="269.2" r="1.5"/>
<circle cx="87.0" cy="263.2" r="1.5"/>
<circle cx="69.3" cy="264.8" r="1.5"/>
<circle cx="73.4" cy="262.8" r="1.5"/>
<circle cx="70.5" cy="263.6" r="1.5"/>
<circle cx="67.2" cy="265.1" r="1.5"/>
<circle cx="90.0" cy="263.6" r="1.5"/>
<circle cx="82.0" cy="268.8" r="1.5"/>
<circle cx="73.9" cy="270.5" r="1.5"/>
<circle cx="74.2" cy="270.2" r="1.5"/>
<circle cx="63.6" cy="267.8" r="1.5"/>
<circle cx="93.9" cy="262.9" r="1.5"/>
<circle cx="100.2" cy="266.9" r="1.5"/>
<circle cx="79.2" cy="266.5" r="1.5"/>
<circle cx="67.7" cy="267.0" r="1.5"/>
<circle cx="99.4" cy="265.6" r="1.5"/>
<circle cx="92.0" cy="269.7" r="1.5"/>
<circle cx="66.6" cy="263.9" r="1.5"/>
<circle cx="75.7" cy="268.4" r="1.5"/>
<circle cx="103.0" cy="270.5" r="1.5"/>
<circle cx="70.6" cy="267.9" r="1.5"/>
<circle cx="93.9" cy="266.5" r="1.5"/>
<circle cx="100.8" cy="270.3" r="1.5"/>
<circle cx="88.2" cy="265.9" r="1.5"/>
<circle cx="83.5" cy="270.8" r="1.5"/>
<circle cx="102.6" cy="269.7" r="1.5"/>
<circle cx="100.4" cy="269.8" r="1.5"/>
<circle cx="67.7" cy="269.3" r="1.5"/>
<circle cx="71.4" cy="265.2" r="1.5"/>
<circle cx="93.5" cy="264.9" r="1.5"/>
<circle cx="74.5" cy="268.7" r="1.5"/>
<circle cx="73.4" cy="270.7" r="1.5"/>
<circle cx="87.2" cy="264.0" r="1.5"/>
<circle cx="69.9" cy="268.0" r="1.5"/>
<circle cx="81.2" cy="268.6" r="1.5"/>
<circle cx="91.0" cy="266.0" r="1.5"/>
<circle cx="71.8" cy="270.9" r="1.5"/>
<circle cx="70.6" cy="268.6" r="1.5"/>
<circle cx="66.9" cy="264.0" r="1.5"/>
<circle cx="76.3" cy="267.7" r="1.5"/>
<circle cx="83.8" cy="265.5" r="1.5"/>
<circle cx="67.3" cy="266.5" r="1.5"/>
<circle cx="71.2" cy="263.6" r="1.5"/>
<circle cx="78.8" cy="267.3" r="1.5"/>
<circle cx="74.4" cy="267.2" r="1.5"/>
<circle cx="72.9" cy="268.8" r="1.5"/>
<circle cx="66.1" cy="264.7" r="1.5"/>
<circle cx="91.2" cy="270.4" r="1.5"/>
<circle cx="77.8" cy="266.5" r="1.5"/>
<circle cx="103.8" cy="266.1" r="1.5"/>
<circle cx="86.5" cy="264.0" r="1.5"/>
<circle cx="97.5" cy="267.5" r="1.5"/>
<circle cx="85.7" cy="263.8" r="1.5"/>
<circle cx="83.2" cy="263.6" r="1.5"/>
<circle cx="83.3" cy="270.4" r="1.5"/>
<circle cx="101.0" cy="265.0" r="1.5"/>
<circle cx="84.3" cy="263.5" r="1.5"/>
<circle cx="96.7" cy="265.4" r="1.5"/>
<circle cx="89.2" cy="270.1" r="1.5"/>
<circle cx="94.9" cy="269.6" r="1.5"/>
<circle cx="104.4" cy="262.9" r="1.5"/>
<circle cx="97.1" cy="270.0" r="1.5"/>
<circle cx="81.1" cy="262.7" r="1.5"/>
<circle cx="81.6" cy="262.7" r="1.5"/>
<circle cx="89.5" cy="264.0" r="1.5"/>
<circle cx="74.2" cy="263.4" r="1.5"/>
<circle cx="101.4" cy="270.5" r="1.5"/>
<circle cx="79.6" cy="267.7" r="1.5"/>
<circle cx="77.0" cy="268.7" r="1.5"/>
<circle cx="82.5" cy="263.7" r="1.5"/>
<circle cx="96.1" cy="265.8" r="1.5"/>
<circle cx="85.2" cy="267.5" r="1.5"/>
<circle cx="80.7" cy="269.8" r="1.5"/>
<circle cx="87.9" cy="264.7" r="1.5"/>
<circle cx="102.5" cy="263.3" r="1.5"/>
<circle cx="86.9" cy="270.2" r="1.5"/>
<circle cx="75.4" cy="266.6" r="1.5"/>
<circle cx="77.8" cy="267.6" r="1.5"/>
<circle cx="79.4" cy="267.0" r="1.5"/>
<circle cx="88.8" cy="270.8" r="1.5"/>
<circle cx="74.9" cy="269.9" r="1.5"/>
<circle cx="88.8" cy="265.2" r="1.5"/>
<circle cx="65.1" cy="263.6" r="1.5"/>
<circle cx="77.3" cy="269.1" r="1.5"/>
<circle cx="94.4" cy="263.3" r="1.5"/>
<circle cx="100.7" cy="270.9" r="1.5"/>
<circle cx="97.4" cy="268.5" r="1.5"/>
<circle cx="75.1" cy="266.9" r="1.5"/>
<circle cx="92.4" cy="270.3" r="1.5"/>
<circle cx="99.6" cy="269.9" r="1.5"/>
<circle cx="103.9" cy="267.3" r="1.5"/>
<circle cx="97.8" cy="268.8" r="1.5"/>
<circle cx="80.8" cy="265.6" r="1.5"/>
<circle cx="71.3" cy="269.3" r="1.5"/>
<circle cx="97.7" cy="264.8" r="1.5"/>
<circle cx="95.0" cy="263.8" r="1.5"/>
<circle cx="97.6" cy="266.7" r="1.5"/>
<circle cx="70.1" cy="268.5" r="1.5"/>
<circle cx="84.5" cy="269.9" r="1.5"/>
<circle cx="98.8" cy="263.7" r="1.5"/>
<circle cx="64.7" cy="269.5" r="1.5"/>
<circle cx="98.1" cy="264.0" r="1.5"/>
<circle cx="73.9" cy="267.2" r="1.5"/>
<circle cx="101.6" cy="265.1" r="1.5"/>
<circle cx="74.9" cy="264.1" r="1.5"/>
<circle cx="84.5" cy="265.7" r="1.5"/>
<circle cx="68.6" cy="270.8" r="1.5"/>
<circle cx="79.0" cy="266.1" r="1.5"/>
<circle cx="70.9" cy="263.7" r="1.5"/>
<circle cx="87.9" cy="268.1" r="1.5"/>
<circle cx="70.3" cy="263.5" r="1.5"/>
<circle cx="94.6" cy="265.3" r="1.5"/>
<circle cx="75.3" cy="267.8" r="1.5"/>
<circle cx="70.3" cy="266.2" r="1.5"/>
<circle cx="103.5" cy="263.8" r="1.5"/>
<circle cx="90.4" cy="265.4" r="1.5"/>
<circle cx="74.7" cy="267.6" r="1.5"/>
<circle cx="64.3" cy="264.5" r="1.5"/>
<circle cx="95.4" cy="271.0" r="1.5"/>
<circle cx="101.3" cy="265.6" r="1.5"/>
</g>
<g fill="#6cc39c" fill-opacity="0.35">
<circle cx="88.4" cy="297.8" r="1.5"/>
<circle cx="74.0" cy="285.6" r="1.5"/>
<circle cx="76.2" cy="283.1" r="1.5"/>
<circle cx="90.2" cy="291.4" r="1.5"/>
<circle cx="79.1" cy="292.6" r="1.5"/>
<circle cx="74.0" cy="290.8" r="1.5"/>
<circle cx="91.6" cy="285.3" r="1.5"/>
<circle cx="80.0" cy="296.4" r="1.5"/>
<circle cx="84.7" cy="287.8" r="1.5"/>
<circle cx="98.5" cy="292.2" r="1.5"/>
<circle cx="90.4" cy="288.6" r="1.5"/>
<circle cx="75.9" cy="296.3" r="1.5"/>
<circle cx="66.1" cy="282.7" r="1.5"/>
<circle cx="90.1" cy="284.7" r="1.5"/>
<circle cx="74.3" cy="287.0" r="1.5"/>
<circle cx="100.5" cy="293.4" r="1.5"/>
<circle cx="69.7" cy="286.2" r="1.5"/>
<circle cx="100.8" cy="285.6" r="1.5"/>
<circle cx="96.8" cy="288.7" r="1.5"/>
<circle cx="90.9" cy="287.5" r="1.5"/>
<circle cx="93.4" cy="287.9" r="1.5"/>
<circle cx="104.9" cy="294.0" r="1.5"/>
<circle cx="80.9" cy="292.0" r="1.5"/>
<circle cx="65.0" cy="287.1" r="1.5"/>
<circle cx="87.2" cy="295.0" r="1.5"/>
<circle cx="93.7" cy="294.5" r="1.5"/>
<circle cx="85.7" cy="285.9" r="1.5"/>
<circle cx="101.1" cy="287.6" r="1.5"/>
<circle cx="84.6" cy="284.9" r="1.5"/>
<circle cx="98.4" cy="284.5" r="1.5"/>
<circle cx="71.0" cy="296.4" r="1.5"/>
<circle cx="68.8" cy="294.0" r="1.5"/>
<circle cx="97.0" cy="286.2" r="1.5"/>
<circle cx="71.1" cy="287.5" r="1.5"/>
<circle cx="77.4" cy="296.6" r="1.5"/>
<circle cx="78.2" cy="286.5" r="1.5"/>
<circle cx="76.2" cy="285.8" r="1.5"/>
<circle cx="77.2" cy="293.9" r="1.5"/>
<circle cx="75.7" cy="284.9" r="1.5"/>
<circle cx="83.0" cy="284.6" r="1.5"/>
<circle cx="87.7" cy="283.4" r="1.5"/>
<circle cx="66.5" cy="284.3" r="1.5"/>
<circle cx="84.3" cy="284.6" r="1.5"/>
<circle cx="79.3" cy="293.4" r="1.5"/>
<circle cx="65.7" cy="284.8" r="1.5"/>
<circle cx="69.2" cy="294.9" r="1.5"/>
<circle cx="80.5" cy="289.2" r="1.5"/>
<circle cx="101.1" cy="290.9" r="1.5"/>
<circle cx="76.6" cy="286.9" r="1.5"/>
<circle cx="95.8" cy="290.4" r="1.5"/>
<circle cx="89.7" cy="295.2" r="1.5"/>
<circle cx="89.8" cy="297.9" r="1.5"/>
<circle cx="74.9" cy="286.2" r="1.5"/>
<circle cx="70.5" cy="286.2" r="1.5"/>
<circle cx="83.8" cy="286.2" r="1.5"/>
<circle cx="67.2" cy="288.5" r="1.5"/>
<circle cx="89.8" cy="291.7" r="1.5"/>
<circle cx="103.6" cy="292.1" r="1.5"/>
<circle cx="65.1" cy="294.9" r="1.5"/>
<circle cx="79.0" cy="297.7" r="1.5"/>
<circle cx="76.9" cy="285.1" r="1.5"/>
<circle cx="71.4" cy="287.5" r="1.5"/>
<circle cx="89.5" cy="294.1" r="1.5"/>
<circle cx="92.3" cy="292.7" r="1.5"/>
<circle cx="68.9" cy="292.0" r="1.5"/>
<circle cx="87.9" cy="295.4" r="1.5"/>
<circle cx="97.7" cy="293.4" r="1.5"/>
<circle cx="75.6" cy="286.8" r="1.5"/>
<circle cx="88.2" cy="292.8" r="1.5"/>
<circle cx="100.4" cy="282.6" r="1.5"/>
<circle cx="77.7" cy="284.1" r="1.5"/>
<circle cx="78.4" cy="295.1" r="1.5"/>
<circle cx="102.8" cy="283.8" r="1.5"/>
<circle cx="80.2" cy="294.4" r="1.5"/>
<circle cx="93.7" cy="295.9" r="1.5"/>
<circle cx="94.0" cy="288.9" r="1.5"/>
<circle cx="70.5" cy="292.3" r="1.5"/>
<circle cx="90.5" cy="297.4" r="1.5"/>
<circle cx="99.9" cy="294.0" r="1.5"/>
<circle cx="85.7" cy="297.2" r="1.5"/>
<circle cx="104.8" cy="287.8" r="1.5"/>
<circle cx="90.6" cy="297.6" r="1.5"/>
<circle cx="92.1" cy="291.5" r="1.5"/>
<circle cx="79.3" cy="289.5" r="1.5"/>
<circle cx="83.2" cy="295.6" r="1.5"/>
<circle cx="92.4" cy="288.3" r="1.5"/>
<circle cx="76.0" cy="287.8" r="1.5"/>
<circle cx="91.0" cy="293.8" r="1.5"/>
<circle cx="88.6" cy="295.8" r="1.5"/>
<circle cx="98.0" cy="296.3" r="1.5"/>
<circle cx="93.3" cy="296.1" r="1.5"/>
<circle cx="68.2" cy="296.3" r="1.5"/>
<circle cx="71.7" cy="294.9" r="1.5"/>
<circle cx="74.4" cy="289.9" r="1.5"/>
<circle cx="71.9" cy="287.1" r="1.5"/>
<circle cx="75.8" cy="297.3" r="1.5"/>
<circle cx="84.1" cy="294.8" r="1.5"/>
<circle cx="102.2" cy="292.9" r="1.5"/>
<circle cx="63.6" cy="287.6" r="1.5"/>
<circle cx="101.1" cy="285.1" r="1.5"/>
<circle cx="91.3" cy="295.7" r="1.5"/>
<circle cx="67.2" cy="290.1" r="1.5"/>
<circle cx="93.5" cy="296.4" r="1.5"/>
<circle cx="74.1" cy="294.4" r="1.5"/>
<circle cx="104.5" cy="293.4" r="1.5"/>
<circle cx="82.8" cy="296.4" r="1.5"/>
<circle cx="70.8" cy="297.3" r="1.5"/>
<circle cx="75.6" cy="285.6" r="1.5"/>
<circle cx="76.5" cy="286.6" r="1.5"/>
<circle cx="67.4" cy="286.3" r="1.5"/>
<circle cx="65.4" cy="284.8" r="1.5"/>
<circle cx="91.0" cy="295.3" r="1.5"/>
<circle cx="78.3" cy="291.2" r="1.5"/>
<circle cx="89.3" cy="284.4" r="1.5"/>
<circle cx="67.4" cy="285.4" r="1.5"/>
<circle cx="71.1" cy="291.8" r="1.5"/>
<circle cx="103.4" cy="293.8" r="1.5"/>
<circle cx="79.5" cy="284.9" r="1.5"/>
<circle cx="96.7" cy="288.0" r="1.5"/>
<circle cx="96.6" cy="296.2" r="1.5"/>
<circle cx="92.4" cy="297.0" r="1.5"/>
<circle cx="102.6" cy="295.5" r="1.5"/>
<circle cx="80.8" cy="288.9" r="1.5"/>
<circle cx="96.8" cy="287.5" r="1.5"/>
<circle cx="71.0" cy="292.1" r="1.5"/>
<circle cx="78.4" cy="297.5" r="1.5"/>
<circle cx="91.9" cy="285.1" r="1.5"/>
<circle cx="103.9" cy="295.9" r="1.5"/>
<circle cx="101.7" cy="296.2" r="1.5"/>
<circle cx="80.6" cy="297.2" r="1.5"/>
<circle cx="74.4" cy="293.1" r="1.5"/>
<circle cx="92.7" cy="287.5" r="1.5"/>
<circle cx="95.4" cy="289.1" r="1.5"/>
<circle cx="86.9" cy="282.9" r="1.5"/>
<circle cx="91.3" cy="292.7" r="1.5"/>
<circle cx="85.2" cy="287.2" r="1.5"/>
<circle cx="67.5" cy="287.8" r="1.5"/>
<circle cx="73.8" cy="292.6" r="1.5"/>
<circle cx="91.6" cy="292.0" r="1.5"/>
<circle cx="98.3" cy="289.4" r="1.5"/>
<circle cx="104.5" cy="297.1" r="1.5"/>
<circle cx="90.2" cy="295.5" r="1.5"/>
<circle cx="98.7" cy="284.8" r="1.5"/>
<circle cx="99.6" cy="296.8" r="1.5"/>
<circle cx="83.9" cy="294.2" r="1.5"/>
<circle cx="103.8" cy="297.2" r="1.5"/>
<circle cx="72.7" cy="288.1" r="1.5"/>
<circle cx="80.2" cy="294.3" r="1.5"/>
<circle cx="82.6" cy="285.6" r="1.5"/>
<circle cx="82.1" cy="284.8" r="1.5"/>
<circle cx="82.1" cy="296.1" r="1.5"/>
<circle cx="84.1" cy="287.9" r="1.5"/>
<circle cx="67.8" cy="291.6" r="1.5"/>
<circle cx="86.6" cy="297.9" r="1.5"/>
<circle cx="67.3" cy="288.7" r="1.5"/>
<circle cx="89.2" cy="293.3" r="1.5"/>
<circle cx="84.6" cy="294.8" r="1.5"/>
<circle cx="91.4" cy="283.3" r="1.5"/>
<circle cx="78.6" cy="297.1" r="1.5"/>
<circle cx="72.8" cy="291.0" r="1.5"/>
<circle cx="86.7" cy="288.4" r="1.5"/>
<circle cx="83.1" cy="287.8" r="1.5"/>
<circle cx="93.2" cy="296.2" r="1.5"/>
<circle cx="95.0" cy="294.5" r="1.5"/>
<circle cx="77.7" cy="285.2" r="1.5"/>
<circle cx="103.5" cy="293.5" r="1.5"/>
<circle cx="85.2" cy="287.1" r="1.5"/>
<circle cx="65.4" cy="295.4" r="1.5"/>
<circle cx="69.3" cy="286.9" r="1.5"/>
<circle cx="93.4" cy="296.3" r="1.5"/>
<circle cx="88.9" cy="295.1" r="1.5"/>
<circle cx="102.1" cy="291.9" r="1.5"/>
<circle cx="82.5" cy="285.9" r="1.5"/>
<circle cx="93.2" cy="296.3" r="1.5"/>
<circle cx="80.7" cy="283.7" r="1.5"/>
<circle cx="98.3" cy="288.9" r="1.5"/>
<circle cx="95.5" cy="291.0" r="1.5"/>
<circle cx="90.8" cy="283.2" r="1.5"/>
<circle cx="69.1" cy="290.3" r="1.5"/>
<circle cx="85.5" cy="297.2" r="1.5"/>
<circle cx="102.3" cy="285.0" r="1.5"/>
<circle cx="83.5" cy="290.1" r="1.5"/>
<circle cx="101.7" cy="295.2" r="1.5"/>
<circle cx="87.5" cy="286.7" r="1.5"/>
<circle cx="68.8" cy="292.0" r="1.5"/>
<circle cx="88.4" cy="284.4" r="1.5"/>
<circle cx="84.4" cy="292.0" r="1.5"/>
<circle cx="104.1" cy="283.9" r="1.5"/>
<circle cx="95.1" cy="293.7" r="1.5"/>
<circle cx="103.5" cy="283.0" r="1.5"/>
<circle cx="82.3" cy="295.9" r="1.5"/>
<circle cx="80.6" cy="287.2" r="1.5"/>
<circle cx="94.6" cy="293.4" r="1.5"/>
<circle cx="92.6" cy="284.7" r="1.5"/>
<circle cx="93.0" cy="283.6" r="1.5"/>
<circle cx="89.8" cy="294.9" r="1.5"/>
<circle cx="89.4" cy="293.5" r="1.5"/>
<circle cx="77.8" cy="287.6" r="1.5"/>
<circle cx="104.2" cy="287.9" r="1.5"/>
<circle cx="103.3" cy="290.2" r="1.5"/>
<circle cx="92.3" cy="293.0" r="1.5"/>
<circle cx="68.3" cy="292.5" r="1.5"/>
<circle cx="83.4" cy="289.2" r="1.5"/>
<circle cx="91.2" cy="291.5" r="1.5"/>
<circle cx="94.5" cy="285.0" r="1.5"/>
<circle cx="75.4" cy="284.9" r="1.5"/>
<circle cx="97.0" cy="289.9" r="1.5"/>
<circle cx="64.5" cy="295.7" r="1.5"/>
<circle cx="91.3" cy="294.9" r="1.5"/>
<circle cx="94.6" cy="295.5" r="1.5"/>
<circle cx="75.4" cy="294.1" r="1.5"/>
<circle cx="98.3" cy="287.3" r="1.5"/>
<circle cx="75.7" cy="286.4" r="1.5"/>
<circle cx="64.8" cy="285.4" r="1.5"/>
<circle cx="67.8" cy="284.6" r="1.5"/>
<circle cx="94.2" cy="284.6" r="1.5"/>
<circle cx="94.3" cy="289.3" r="1.5"/>
<circle cx="73.4" cy="285.9" r="1.5"/>
<circle cx="96.7" cy="293.5" r="1.5"/>
<circle cx="91.1" cy="283.7" r="1.5"/>
<circle cx="79.6" cy="283.2" r="1.5"/>
<circle cx="104.0" cy="293.1" r="1.5"/>
<circle cx="86.4" cy="297.8" r="1.5"/>
<circle cx="73.9" cy="288.4" r="1.5"/>
<circle cx="95.9" cy="284.6" r="1.5"/>
<circle cx="97.9" cy="283.9" r="1.5"/>
<circle cx="92.7" cy="288.0" r="1.5"/>
<circle cx="94.8" cy="289.5" r="1.5"/>
<circle cx="88.5" cy="286.0" r="1.5"/>
<circle cx="103.5" cy="293.4" r="1.5"/>
<circle cx="70.9" cy="287.4" r="1.5"/>
<circle cx="71.3" cy="295.3" r="1.5"/>
<circle cx="84.8" cy="292.1" r="1.5"/>
<circle cx="81.3" cy="289.4" r="1.5"/>
<circle cx="68.9" cy="289.0" r="1.5"/>
<circle cx="74.1" cy="292.9" r="1.5"/>
<circle cx="93.0" cy="295.6" r="1.5"/>
<circle cx="69.9" cy="293.0" r="1.5"/>
<circle cx="65.6" cy="283.6" r="1.5"/>
<circle cx="89.0" cy="287.8" r="1.5"/>
<circle cx="83.9" cy="289.1" r="1.5"/>
<circle cx="78.4" cy="285.9" r="1.5"/>
<circle cx="76.7" cy="294.6" r="1.5"/>
<circle cx="71.1" cy="296.9" r="1.5"/>
<circle cx="84.5" cy="291.6" r="1.5"/>
<circle cx="85.8" cy="296.5" r="1.5"/>
<circle cx="72.7" cy="294.7" r="1.5"/>
<circle cx="77.3" cy="292.4" r="1.5"/>
<circle cx="72.6" cy="286.4" r="1.5"/>
<circle cx="85.5" cy="282.6" r="1.5"/>
<circle cx="97.7" cy="282.9" r="1.5"/>
<circle cx="63.9" cy="287.7" r="1.5"/>
<circle cx="82.0" cy="284.0" r="1.5"/>
<circle cx="89.0" cy="288.4" r="1.5"/>
<circle cx="103.3" cy="287.5" r="1.5"/>
<circle cx="76.8" cy="283.9" r="1.5"/>
<circle cx="102.7" cy="292.0" r="1.5"/>
<circle cx="85.9" cy="293.6" r="1.5"/>
<circle cx="101.3" cy="285.3" r="1.5"/>
<circle cx="79.1" cy="285.6" r="1.5"/>
<circle cx="82.0" cy="297.3" r="1.5"/>
<circle cx="100.8" cy="295.0" r="1.5"/>
<circle cx="84.8" cy="283.4" r="1.5"/>
<circle cx="70.4" cy="283.2" r="1.5"/>
<circle cx="85.8" cy="297.8" r="1.5"/>
<circle cx="66.2" cy="287.6" r="1.5"/>
<circle cx="95.6" cy="284.6" r="1.5"/>
<circle cx="81.1" cy="296.4" r="1.5"/>
<circle cx="85.8" cy="287.1" r="1.5"/>
<circle cx="104.0" cy="286.0" r="1.5"/>
<circle cx="90.3" cy="283.5" r="1.5"/>
<circle cx="94.5" cy="295.6" r="1.5"/>
<circle cx="82.6" cy="292.8" r="1.5"/>
<circle cx="67.1" cy="297.1" r="1.5"/>
<circle cx="96.5" cy="289.4" r="1.5"/>
<circle cx="87.4" cy="294.4" r="1.5"/>
<circle cx="74.2" cy="292.0" r="1.5"/>
<circle cx="89.7" cy="291.3" r="1.5"/>
<circle cx="64.2" cy="287.6" r="1.5"/>
<circle cx="85.7" cy="288.1" r="1.5"/>
<circle cx="89.2" cy="286.3" r="1.5"/>
<circle cx="87.8" cy="287.2" r="1.5"/>
<circle cx="66.5" cy="283.7" r="1.5"/>
<circle cx="67.9" cy="285.8" r="1.5"/>
<circle cx="76.0" cy="296.6" r="1.5"/>
<circle cx="95.3" cy="291.2" r="1.5"/>
<circle cx="79.9" cy="287.8" r="1.5"/>
<circle cx="83.2" cy="289.7" r="1.5"/>
<circle cx="69.2" cy="291.9" r="1.5"/>
<circle cx="96.6" cy="289.6" r="1.5"/>
<circle cx="103.3" cy="295.7" r="1.5"/>
<circle cx="91.6" cy="283.9" r="1.5"/>
<circle cx="96.5" cy="286.7" r="1.5"/>
<circle cx="79.0" cy="283.3" r="1.5"/>
<circle cx="86.5" cy="289.4" r="1.5"/>
<circle cx="68.6" cy="297.9" r="1.5"/>
<circle cx="88.3" cy="289.7" r="1.5"/>
<circle cx="102.8" cy="293.3" r="1.5"/>
<circle cx="94.6" cy="284.1" r="1.5"/>
<circle cx="77.8" cy="291.6" r="1.5"/>
<circle cx="90.3" cy="290.1" r="1.5"/>
<circle cx="70.2" cy="294.6" r="1.5"/>
<circle cx="98.1" cy="295.0" r="1.5"/>
<circle cx="71.0" cy="285.6" r="1.5"/>
<circle cx="98.9" cy="284.9" r="1.5"/>
<circle cx="102.2" cy="282.7" r="1.5"/>
<circle cx="82.6" cy="289.5" r="1.5"/>
<circle cx="75.6" cy="296.9" r="1.5"/>
<circle cx="67.6" cy="286.8" r="1.5"/>
<circle cx="83.7" cy="292.9" r="1.5"/>
<circle cx="68.8" cy="287.9" r="1.5"/>
<circle cx="67.7" cy="288.4" r="1.5"/>
<circle cx="100.9" cy="293.1" r="1.5"/>
<circle cx="82.2" cy="288.5" r="1.5"/>
<circle cx="76.2" cy="289.0" r="1.5"/>
<circle cx="87.0" cy="292.3" r="1.5"/>
<circle cx="76.6" cy="291.4" r="1.5"/>
<circle cx="63.7" cy="294.2" r="1.5"/>
<circle cx="72.7" cy="286.6" r="1.5"/>
<circle cx="81.6" cy="285.0" r="1.5"/>
</g>
<g fill="#6cc39c" fill-opacity="0.3">
<circle cx="69.1" cy="274.1" r="1.5"/>
<circle cx="99.9" cy="277.3" r="1.5"/>
<circle cx="78.4" cy="279.1" r="1.5"/>
<circle cx="86.4" cy="280.5" r="1.5"/>
<circle cx="88.7" cy="272.9" r="1.5"/>
<circle cx="99.1" cy="281.0" r="1.5"/>
<circle cx="85.9" cy="279.5" r="1.5"/>
<circle cx="100.3" cy="281.7" r="1.5"/>
<circle cx="66.6" cy="282.4" r="1.5"/>
<circle cx="84.5" cy="282.2" r="1.5"/>
<circle cx="87.6" cy="277.9" r="1.5"/>
<circle cx="88.0" cy="272.2" r="1.5"/>
<circle cx="86.4" cy="276.3" r="1.5"/>
<circle cx="104.9" cy="277.1" r="1.5"/>
<circle cx="95.7" cy="278.4" r="1.5"/>
<circle cx="72.8" cy="273.7" r="1.5"/>
<circle cx="93.9" cy="279.2" r="1.5"/>
<circle cx="82.8" cy="276.7" r="1.5"/>
<circle cx="80.0" cy="276.8" r="1.5"/>
<circle cx="91.0" cy="272.8" r="1.5"/>
<circle cx="97.0" cy="275.5" r="1.5"/>
<circle cx="70.4" cy="276.7" r="1.5"/>
<circle cx="82.0" cy="280.5" r="1.5"/>
<circle cx="102.9" cy="275.0" r="1.5"/>
<circle cx="103.7" cy="274.1" r="1.5"/>
<circle cx="83.6" cy="278.4" r="1.5"/>
<circle cx="72.6" cy="277.0" r="1.5"/>
<circle cx="66.1" cy="278.3" r="1.5"/>
<circle cx="65.3" cy="280.2" r="1.5"/>
<circle cx="101.2" cy="278.4" r="1.5"/>
<circle cx="83.0" cy="277.3" r="1.5"/>
<circle cx="65.4" cy="271.3" r="1.5"/>
<circle cx="76.9" cy="274.5" r="1.5"/>
<circle cx="85.1" cy="273.0" r="1.5"/>
<circle cx="98.1" cy="279.5" r="1.5"/>
<circle cx="86.1" cy="280.6" r="1.5"/>
<circle cx="90.6" cy="278.4" r="1.5"/>
<circle cx="90.6" cy="273.0" r="1.5"/>
<circle cx="84.9" cy="278.2" r="1.5"/>
<circle cx="101.2" cy="276.6" r="1.5"/>
<circle cx="78.1" cy="272.6" r="1.5"/>
<circle cx="83.7" cy="277.0" r="1.5"/>
<circle cx="88.6" cy="276.8" r="1.5"/>
<circle cx="69.3" cy="280.7" r="1.5"/>
<circle cx="66.7" cy="275.2" r="1.5"/>
<circle cx="72.3" cy="280.4" r="1.5"/>
<circle cx="78.5" cy="274.3" r="1.5"/>
<circle cx="68.4" cy="279.9" r="1.5"/>
<circle cx="97.2" cy="274.3" r="1.5"/>
<circle cx="83.5" cy="277.1" r="1.5"/>
</g>
<g fill="#e8845a" fill-opacity="0.18">
<circle cx="132.9" cy="262.0" r="1.9"/>
<circle cx="158.2" cy="273.2" r="1.9"/>
<circle cx="126.1" cy="228.6" r="1.9"/>
<circle cx="130.9" cy="224.1" r="1.9"/>
<circle cx="126.0" cy="228.7" r="1.9"/>
<circle cx="126.7" cy="254.1" r="1.9"/>
<circle cx="131.7" cy="197.5" r="1.9"/>
<circle cx="148.7" cy="229.4" r="1.9"/>
<circle cx="125.2" cy="216.8" r="1.9"/>
<circle cx="151.2" cy="252.1" r="1.9"/>
<circle cx="127.9" cy="238.7" r="1.9"/>
<circle cx="164.6" cy="204.9" r="1.9"/>
<circle cx="131.3" cy="207.9" r="1.9"/>
<circle cx="148.7" cy="210.8" r="1.9"/>
<circle cx="157.6" cy="260.3" r="1.9"/>
<circle cx="151.1" cy="253.6" r="1.9"/>
<circle cx="153.7" cy="247.3" r="1.9"/>
<circle cx="142.8" cy="227.3" r="1.9"/>
<circle cx="133.7" cy="243.8" r="1.9"/>
<circle cx="128.8" cy="258.6" r="1.9"/>
<circle cx="159.2" cy="234.2" r="1.9"/>
<circle cx="141.4" cy="262.9" r="1.9"/>
<circle cx="128.3" cy="236.5" r="1.9"/>
<circle cx="149.3" cy="271.8" r="1.9"/>
<circle cx="156.1" cy="234.3" r="1.9"/>
<circle cx="129.2" cy="236.0" r="1.9"/>
<circle cx="129.7" cy="226.2" r="1.9"/>
<circle cx="157.9" cy="202.5" r="1.9"/>
<circle cx="155.8" cy="222.5" r="1.9"/>
<circle cx="145.5" cy="245.1" r="1.9"/>
<circle cx="126.2" cy="232.2" r="1.9"/>
<circle cx="133.7" cy="210.1" r="1.9"/>
<circle cx="156.4" cy="244.2" r="1.9"/>
<circle cx="148.3" cy="215.1" r="1.9"/>
<circle cx="155.2" cy="218.7" r="1.9"/>
</g>
<g fill="#e8845a" fill-opacity="0.18">
<circle cx="128.4" cy="278.9" r="1.9"/>
<circle cx="143.7" cy="275.9" r="1.9"/>
<circle cx="159.2" cy="274.4" r="1.9"/>
<circle cx="159.9" cy="270.6" r="1.9"/>
<circle cx="132.1" cy="261.5" r="1.9"/>
<circle cx="156.4" cy="265.5" r="1.9"/>
<circle cx="129.2" cy="282.8" r="1.9"/>
<circle cx="150.9" cy="262.1" r="1.9"/>
<circle cx="137.2" cy="272.0" r="1.9"/>
<circle cx="130.7" cy="263.2" r="1.9"/>
<circle cx="134.7" cy="257.1" r="1.9"/>
<circle cx="141.6" cy="271.9" r="1.9"/>
<circle cx="135.6" cy="262.4" r="1.9"/>
<circle cx="155.0" cy="270.5" r="1.9"/>
<circle cx="156.1" cy="268.4" r="1.9"/>
<circle cx="139.4" cy="266.2" r="1.9"/>
<circle cx="134.7" cy="273.7" r="1.9"/>
<circle cx="138.3" cy="261.6" r="1.9"/>
<circle cx="154.2" cy="257.1" r="1.9"/>
<circle cx="151.1" cy="260.3" r="1.9"/>
<circle cx="142.5" cy="261.8" r="1.9"/>
<circle cx="131.0" cy="276.5" r="1.9"/>
<circle cx="140.6" cy="272.7" r="1.9"/>
<circle cx="146.7" cy="261.9" r="1.9"/>
<circle cx="153.0" cy="278.1" r="1.9"/>
</g>
<g fill="#e8845a" fill-opacity="0.3">
<circle cx="163.8" cy="308.8" r="1.5"/>
<circle cx="127.8" cy="304.1" r="1.5"/>
<circle cx="162.2" cy="294.2" r="1.5"/>
<circle cx="126.6" cy="301.5" r="1.5"/>
<circle cx="127.3" cy="307.7" r="1.5"/>
<circle cx="139.9" cy="275.5" r="1.5"/>
<circle cx="149.4" cy="291.3" r="1.5"/>
<circle cx="153.4" cy="288.7" r="1.5"/>
<circle cx="163.1" cy="281.1" r="1.5"/>
<circle cx="150.4" cy="294.1" r="1.5"/>
<circle cx="132.3" cy="286.7" r="1.5"/>
<circle cx="157.2" cy="299.3" r="1.5"/>
<circle cx="125.4" cy="288.6" r="1.5"/>
<circle cx="145.3" cy="301.1" r="1.5"/>
<circle cx="131.0" cy="307.8" r="1.5"/>
<circle cx="133.9" cy="309.0" r="1.5"/>
<circle cx="130.5" cy="275.1" r="1.5"/>
<circle cx="156.2" cy="297.0" r="1.5"/>
<circle cx="140.3" cy="289.1" r="1.5"/>
<circle cx="145.4" cy="283.9" r="1.5"/>
<circle cx="126.8" cy="305.9" r="1.5"/>
<circle cx="135.7" cy="280.8" r="1.5"/>
<circle cx="161.8" cy="297.2" r="1.5"/>
<circle cx="163.8" cy="299.6" r="1.5"/>
<circle cx="149.0" cy="302.4" r="1.5"/>
<circle cx="162.4" cy="289.4" r="1.5"/>
<circle cx="134.8" cy="295.2" r="1.5"/>
<circle cx="128.4" cy="306.5" r="1.5"/>
<circle cx="136.2" cy="276.8" r="1.5"/>
<circle cx="157.2" cy="276.5" r="1.5"/>
<circle cx="160.2" cy="281.3" r="1.5"/>
<circle cx="147.7" cy="285.4" r="1.5"/>
<circle cx="163.9" cy="289.8" r="1.5"/>
<circle cx="155.8" cy="283.2" r="1.5"/>
<circle cx="163.7" cy="293.4" r="1.5"/>
<circle cx="143.0" cy="289.0" r="1.5"/>
<circle cx="125.1" cy="305.0" r="1.5"/>
<circle cx="126.8" cy="287.4" r="1.5"/>
<circle cx="165.1" cy="286.0" r="1.5"/>
<circle cx="133.5" cy="298.3" r="1.5"/>
<circle cx="163.5" cy="291.4" r="1.5"/>
<circle cx="124.4" cy="280.7" r="1.5"/>
<circle cx="134.3" cy="305.8" r="1.5"/>
<circle cx="151.8" cy="281.1" r="1.5"/>
<circle cx="127.1" cy="277.3" r="1.5"/>
<circle cx="143.7" cy="297.0" r="1.5"/>
<circle cx="160.9" cy="299.8" r="1.5"/>
<circle cx="163.1" cy="285.8" r="1.5"/>
<circle cx="161.6" cy="292.0" r="1.5"/>
<circle cx="132.2" cy="284.0" r="1.5"/>
<circle cx="160.0" cy="302.0" r="1.5"/>
<circle cx="132.4" cy="300.5" r="1.5"/>
<circle cx="149.5" cy="303.7" r="1.5"/>
<circle cx="128.4" cy="277.7" r="1.5"/>
<circle cx="151.9" cy="286.4" r="1.5"/>
<circle cx="149.4" cy="283.0" r="1.5"/>
<circle cx="146.4" cy="307.6" r="1.5"/>
<circle cx="143.9" cy="287.9" r="1.5"/>
<circle cx="144.3" cy="275.5" r="1.5"/>
<circle cx="161.0" cy="279.4" r="1.5"/>
<circle cx="144.3" cy="275.5" r="1.5"/>
<circle cx="161.8" cy="299.5" r="1.5"/>
<circle cx="133.2" cy="289.4" r="1.5"/>
<circle cx="126.2" cy="281.8" r="1.5"/>
<circle cx="143.8" cy="290.6" r="1.5"/>
<circle cx="144.8" cy="295.6" r="1.5"/>
<circle cx="152.3" cy="303.1" r="1.5"/>
<circle cx="164.3" cy="285.2" r="1.5"/>
<circle cx="143.0" cy="285.6" r="1.5"/>
<circle cx="124.5" cy="301.8" r="1.5"/>
<circle cx="148.0" cy="297.9" r="1.5"/>
<circle cx="149.3" cy="300.2" r="1.5"/>
<circle cx="146.7" cy="300.9" r="1.5"/>
<circle cx="143.5" cy="288.1" r="1.5"/>
<circle cx="139.1" cy="292.0" r="1.5"/>
<circle cx="132.7" cy="285.2" r="1.5"/>
<circle cx="139.4" cy="279.9" r="1.5"/>
<circle cx="135.5" cy="302.9" r="1.5"/>
<circle cx="129.4" cy="289.4" r="1.5"/>
<circle cx="133.4" cy="305.6" r="1.5"/>
<circle cx="135.1" cy="301.0" r="1.5"/>
<circle cx="141.9" cy="296.0" r="1.5"/>
<circle cx="130.0" cy="276.4" r="1.5"/>
<circle cx="130.2" cy="281.6" r="1.5"/>
<circle cx="131.3" cy="292.0" r="1.5"/>
<circle cx="165.1" cy="280.1" r="1.5"/>
<circle cx="145.4" cy="284.5" r="1.5"/>
<circle cx="156.4" cy="298.8" r="1.5"/>
<circle cx="147.2" cy="289.7" r="1.5"/>
<circle cx="140.5" cy="285.5" r="1.5"/>
<circle cx="126.5" cy="281.3" r="1.5"/>
<circle cx="143.7" cy="287.6" r="1.5"/>
<circle cx="142.6" cy="297.6" r="1.5"/>
<circle cx="138.9" cy="289.9" r="1.5"/>
<circle cx="162.5" cy="300.2" r="1.5"/>
<circle cx="124.8" cy="304.9" r="1.5"/>
<circle cx="159.8" cy="276.2" r="1.5"/>
<circle cx="132.2" cy="289.4" r="1.5"/>
<circle cx="150.8" cy="303.1" r="1.5"/>
<circle cx="156.2" cy="296.9" r="1.5"/>
<circle cx="151.8" cy="292.4" r="1.5"/>
<circle cx="154.4" cy="278.7" r="1.5"/>
<circle cx="139.7" cy="299.3" r="1.5"/>
<circle cx="150.1" cy="304.1" r="1.5"/>
<circle cx="130.9" cy="281.5" r="1.5"/>
<circle cx="137.9" cy="287.5" r="1.5"/>
<circle cx="147.6" cy="280.1" r="1.5"/>
<circle cx="126.9" cy="303.5" r="1.5"/>
<circle cx="133.4" cy="298.2" r="1.5"/>
<circle cx="136.0" cy="299.9" r="1.5"/>
<circle cx="150.6" cy="299.8" r="1.5"/>
<circle cx="142.4" cy="279.7" r="1.5"/>
<circle cx="139.0" cy="289.0" r="1.5"/>
<circle cx="163.9" cy="294.9" r="1.5"/>
<circle cx="131.6" cy="308.2" r="1.5"/>
<circle cx="154.1" cy="286.5" r="1.5"/>
<circle cx="162.8" cy="285.2" r="1.5"/>
<circle cx="127.3" cy="303.3" r="1.5"/>
<circle cx="128.3" cy="306.8" r="1.5"/>
<circle cx="160.3" cy="290.3" r="1.5"/>
<circle cx="125.1" cy="295.5" r="1.5"/>
<circle cx="155.6" cy="306.2" r="1.5"/>
<circle cx="134.8" cy="303.7" r="1.5"/>
<circle cx="151.0" cy="278.9" r="1.5"/>
<circle cx="136.8" cy="300.6" r="1.5"/>
<circle cx="135.7" cy="287.7" r="1.5"/>
<circle cx="129.4" cy="280.5" r="1.5"/>
<circle cx="125.2" cy="286.4" r="1.5"/>
<circle cx="159.5" cy="297.9" r="1.5"/>
<circle cx="143.7" cy="275.8" r="1.5"/>
<circle cx="146.3" cy="299.7" r="1.5"/>
<circle cx="142.4" cy="276.0" r="1.5"/>
<circle cx="152.8" cy="303.0" r="1.5"/>
<circle cx="148.7" cy="287.5" r="1.5"/>
<circle cx="150.3" cy="289.8" r="1.5"/>
<circle cx="145.6" cy="287.2" r="1.5"/>
<circle cx="136.8" cy="297.2" r="1.5"/>
<circle cx="146.3" cy="281.6" r="1.5"/>
<circle cx="142.2" cy="296.6" r="1.5"/>
<circle cx="134.7" cy="298.7" r="1.5"/>
<circle cx="124.0" cy="281.3" r="1.5"/>
<circle cx="159.0" cy="297.3" r="1.5"/>
<circle cx="143.4" cy="308.7" r="1.5"/>
<circle cx="162.1" cy="276.8" r="1.5"/>
<circle cx="143.7" cy="308.7" r="1.5"/>
<circle cx="141.8" cy="299.0" r="1.5"/>
<circle cx="133.5" cy="308.8" r="1.5"/>
<circle cx="139.4" cy="295.0" r="1.5"/>
<circle cx="147.2" cy="295.6" r="1.5"/>
<circle cx="130.7" cy="283.9" r="1.5"/>
<circle cx="140.1" cy="296.1" r="1.5"/>
<circle cx="134.9" cy="294.6" r="1.5"/>
<circle cx="133.9" cy="283.0" r="1.5"/>
<circle cx="161.6" cy="281.5" r="1.5"/>
<circle cx="152.3" cy="299.3" r="1.5"/>
<circle cx="154.7" cy="281.5" r="1.5"/>
<circle cx="141.1" cy="280.0" r="1.5"/>
<circle cx="131.5" cy="299.1" r="1.5"/>
<circle cx="150.3" cy="288.0" r="1.5"/>
<circle cx="135.2" cy="287.8" r="1.5"/>
<circle cx="131.8" cy="308.3" r="1.5"/>
<circle cx="126.0" cy="290.8" r="1.5"/>
<circle cx="131.7" cy="305.5" r="1.5"/>
<circle cx="135.1" cy="284.7" r="1.5"/>
<circle cx="154.0" cy="301.1" r="1.5"/>
<circle cx="130.2" cy="292.2" r="1.5"/>
<circle cx="138.1" cy="298.4" r="1.5"/>
<circle cx="157.0" cy="275.1" r="1.5"/>
<circle cx="143.2" cy="282.1" r="1.5"/>
<circle cx="137.6" cy="280.3" r="1.5"/>
<circle cx="163.3" cy="307.1" r="1.5"/>
<circle cx="156.0" cy="306.6" r="1.5"/>
<circle cx="143.4" cy="302.5" r="1.5"/>
<circle cx="158.8" cy="281.2" r="1.5"/>
<circle cx="158.2" cy="304.9" r="1.5"/>
<circle cx="155.7" cy="300.5" r="1.5"/>
<circle cx="155.9" cy="293.9" r="1.5"/>
<circle cx="154.5" cy="307.9" r="1.5"/>
<circle cx="143.0" cy="282.8" r="1.5"/>
<circle cx="145.5" cy="275.6" r="1.5"/>
<circle cx="143.5" cy="285.8" r="1.5"/>
<circle cx="136.9" cy="298.0" r="1.5"/>
<circle cx="150.0" cy="307.6" r="1.5"/>
<circle cx="162.7" cy="291.3" r="1.5"/>
<circle cx="134.5" cy="287.3" r="1.5"/>
<circle cx="132.2" cy="278.8" r="1.5"/>
<circle cx="159.7" cy="301.6" r="1.5"/>
<circle cx="128.7" cy="287.5" r="1.5"/>
<circle cx="137.4" cy="303.3" r="1.5"/>
<circle cx="135.4" cy="304.9" r="1.5"/>
<circle cx="156.6" cy="308.7" r="1.5"/>
<circle cx="125.7" cy="282.3" r="1.5"/>
<circle cx="143.6" cy="288.7" r="1.5"/>
<circle cx="139.3" cy="306.0" r="1.5"/>
<circle cx="130.5" cy="305.9" r="1.5"/>
<circle cx="149.6" cy="277.3" r="1.5"/>
<circle cx="165.2" cy="287.7" r="1.5"/>
<circle cx="126.5" cy="287.1" r="1.5"/>
<circle cx="153.0" cy="282.1" r="1.5"/>
<circle cx="129.2" cy="301.1" r="1.5"/>
<circle cx="164.5" cy="282.2" r="1.5"/>
<circle cx="155.3" cy="281.6" r="1.5"/>
<circle cx="142.1" cy="302.4" r="1.5"/>
<circle cx="152.5" cy="296.8" r="1.5"/>
<circle cx="129.6" cy="278.4" r="1.5"/>
<circle cx="144.0" cy="294.1" r="1.5"/>
<circle cx="136.2" cy="285.3" r="1.5"/>
<circle cx="131.8" cy="302.7" r="1.5"/>
<circle cx="138.4" cy="284.1" r="1.5"/>
<circle cx="135.4" cy="280.7" r="1.5"/>
<circle cx="161.8" cy="290.1" r="1.5"/>
<circle cx="126.8" cy="303.7" r="1.5"/>
<circle cx="136.2" cy="300.0" r="1.5"/>
<circle cx="139.2" cy="309.0" r="1.5"/>
<circle cx="150.4" cy="296.1" r="1.5"/>
<circle cx="131.7" cy="308.4" r="1.5"/>
<circle cx="159.4" cy="282.6" r="1.5"/>
<circle cx="133.9" cy="284.5" r="1.5"/>
<circle cx="151.2" cy="290.7" r="1.5"/>
<circle cx="140.0" cy="291.2" r="1.5"/>
<circle cx="144.5" cy="290.2" r="1.5"/>
<circle cx="149.3" cy="298.0" r="1.5"/>
<circle cx="150.5" cy="305.2" r="1.5"/>
<circle cx="145.6" cy="306.7" r="1.5"/>
<circle cx="158.5" cy="304.6" r="1.5"/>
<circle cx="160.1" cy="302.1" r="1.5"/>
<circle cx="144.0" cy="305.6" r="1.5"/>
<circle cx="147.6" cy="280.6" r="1.5"/>
<circle cx="151.2" cy="291.1" r="1.5"/>
<circle cx="153.0" cy="300.3" r="1.5"/>
<circle cx="139.1" cy="288.4" r="1.5"/>
<circle cx="126.9" cy="277.4" r="1.5"/>
<circle cx="132.6" cy="292.3" r="1.5"/>
<circle cx="160.7" cy="306.3" r="1.5"/>
<circle cx="157.1" cy="306.9" r="1.5"/>
<circle cx="147.0" cy="277.1" r="1.5"/>
<circle cx="141.2" cy="296.4" r="1.5"/>
<circle cx="153.3" cy="281.0" r="1.5"/>
<circle cx="135.0" cy="307.6" r="1.5"/>
<circle cx="126.9" cy="298.7" r="1.5"/>
<circle cx="163.0" cy="276.3" r="1.5"/>
<circle cx="128.0" cy="284.3" r="1.5"/>
<circle cx="146.0" cy="302.6" r="1.5"/>
<circle cx="145.7" cy="300.5" r="1.5"/>
<circle cx="149.8" cy="302.9" r="1.5"/>
<circle cx="154.9" cy="294.9" r="1.5"/>
<circle cx="128.4" cy="287.3" r="1.5"/>
<circle cx="138.8" cy="293.4" r="1.5"/>
<circle cx="151.5" cy="279.0" r="1.5"/>
<circle cx="130.9" cy="302.9" r="1.5"/>
<circle cx="140.6" cy="297.5" r="1.5"/>
<circle cx="130.5" cy="275.0" r="1.5"/>
<circle cx="142.3" cy="297.0" r="1.5"/>
<circle cx="137.0" cy="275.3" r="1.5"/>
<circle cx="137.4" cy="296.4" r="1.5"/>
<circle cx="155.6" cy="294.4" r="1.5"/>
<circle cx="154.0" cy="288.3" r="1.5"/>
<circle cx="147.3" cy="301.7" r="1.5"/>
<circle cx="155.6" cy="277.5" r="1.5"/>
<circle cx="134.5" cy="276.3" r="1.5"/>
<circle cx="142.5" cy="295.5" r="1.5"/>
<circle cx="154.0" cy="275.6" r="1.5"/>
<circle cx="148.6" cy="291.4" r="1.5"/>
<circle cx="165.0" cy="298.7" r="1.5"/>
<circle cx="136.4" cy="301.5" r="1.5"/>
<circle cx="159.3" cy="308.3" r="1.5"/>
<circle cx="157.9" cy="285.5" r="1.5"/>
<circle cx="135.4" cy="290.2" r="1.5"/>
<circle cx="147.0" cy="277.5" r="1.5"/>
<circle cx="130.4" cy="307.7" r="1.5"/>
<circle cx="138.7" cy="304.3" r="1.5"/>
<circle cx="139.2" cy="289.2" r="1.5"/>
<circle cx="133.6" cy="281.4" r="1.5"/>
<circle cx="127.8" cy="295.4" r="1.5"/>
<circle cx="161.9" cy="284.0" r="1.5"/>
<circle cx="153.9" cy="282.0" r="1.5"/>
<circle cx="131.1" cy="280.9" r="1.5"/>
<circle cx="152.5" cy="289.4" r="1.5"/>
<circle cx="161.5" cy="288.8" r="1.5"/>
<circle cx="136.4" cy="284.1" r="1.5"/>
<circle cx="147.8" cy="306.3" r="1.5"/>
<circle cx="126.3" cy="282.8" r="1.5"/>
<circle cx="138.4" cy="281.2" r="1.5"/>
<circle cx="141.2" cy="279.5" r="1.5"/>
<circle cx="159.9" cy="301.3" r="1.5"/>
<circle cx="151.0" cy="288.5" r="1.5"/>
<circle cx="124.5" cy="282.6" r="1.5"/>
<circle cx="139.8" cy="298.6" r="1.5"/>
<circle cx="125.7" cy="290.6" r="1.5"/>
<circle cx="130.2" cy="291.9" r="1.5"/>
<circle cx="133.1" cy="307.3" r="1.5"/>
<circle cx="154.2" cy="295.6" r="1.5"/>
<circle cx="142.4" cy="288.8" r="1.5"/>
<circle cx="144.8" cy="301.4" r="1.5"/>
<circle cx="136.0" cy="295.6" r="1.5"/>
<circle cx="129.5" cy="306.2" r="1.5"/>
<circle cx="147.6" cy="307.3" r="1.5"/>
<circle cx="140.5" cy="306.1" r="1.5"/>
<circle cx="144.7" cy="282.7" r="1.5"/>
<circle cx="129.4" cy="304.4" r="1.5"/>
<circle cx="147.1" cy="292.4" r="1.5"/>
<circle cx="150.9" cy="302.3" r="1.5"/>
<circle cx="149.4" cy="284.0" r="1.5"/>
<circle cx="134.2" cy="306.6" r="1.5"/>
<circle cx="156.1" cy="298.0" r="1.5"/>
<circle cx="162.2" cy="306.0" r="1.5"/>
<circle cx="151.7" cy="294.6" r="1.5"/>
<circle cx="138.4" cy="298.1" r="1.5"/>
<circle cx="148.5" cy="308.2" r="1.5"/>
<circle cx="136.6" cy="275.4" r="1.5"/>
<circle cx="149.4" cy="275.3" r="1.5"/>
<circle cx="142.3" cy="304.0" r="1.5"/>
<circle cx="125.9" cy="281.2" r="1.5"/>
<circle cx="132.2" cy="296.3" r="1.5"/>
<circle cx="155.3" cy="280.0" r="1.5"/>
<circle cx="128.6" cy="307.1" r="1.5"/>
<circle cx="163.2" cy="277.5" r="1.5"/>
<circle cx="159.9" cy="281.1" r="1.5"/>
<circle cx="124.6" cy="285.4" r="1.5"/>
<circle cx="128.6" cy="293.7" r="1.5"/>
<circle cx="124.9" cy="301.9" r="1.5"/>
<circle cx="146.2" cy="302.1" r="1.5"/>
<circle cx="145.6" cy="300.2" r="1.5"/>
<circle cx="143.9" cy="284.2" r="1.5"/>
<circle cx="129.8" cy="285.2" r="1.5"/>
<circle cx="124.8" cy="289.2" r="1.5"/>
<circle cx="151.4" cy="307.5" r="1.5"/>
<circle cx="131.0" cy="299.3" r="1.5"/>
<circle cx="156.6" cy="288.0" r="1.5"/>
<circle cx="126.2" cy="286.7" r="1.5"/>
<circle cx="124.3" cy="295.8" r="1.5"/>
<circle cx="135.2" cy="280.0" r="1.5"/>
<circle cx="151.3" cy="279.6" r="1.5"/>
<circle cx="124.8" cy="279.5" r="1.5"/>
<circle cx="150.8" cy="301.1" r="1.5"/>
<circle cx="139.7" cy="275.8" r="1.5"/>
<circle cx="128.1" cy="298.3" r="1.5"/>
<circle cx="159.8" cy="290.9" r="1.5"/>
<circle cx="131.7" cy="292.0" r="1.5"/>
<circle cx="142.9" cy="277.5" r="1.5"/>
<circle cx="124.9" cy="300.6" r="1.5"/>
<circle cx="145.9" cy="297.7" r="1.5"/>
<circle cx="140.2" cy="303.7" r="1.5"/>
<circle cx="138.3" cy="297.0" r="1.5"/>
<circle cx="149.8" cy="301.0" r="1.5"/>
<circle cx="164.4" cy="291.9" r="1.5"/>
<circle cx="157.5" cy="287.7" r="1.5"/>
<circle cx="160.3" cy="278.7" r="1.5"/>
<circle cx="157.7" cy="308.0" r="1.5"/>
<circle cx="146.9" cy="299.5" r="1.5"/>
<circle cx="130.3" cy="278.5" r="1.5"/>
<circle cx="151.1" cy="306.0" r="1.5"/>
<circle cx="139.8" cy="276.3" r="1.5"/>
<circle cx="149.3" cy="287.7" r="1.5"/>
<circle cx="133.4" cy="300.8" r="1.5"/>
<circle cx="130.3" cy="276.0" r="1.5"/>
<circle cx="161.6" cy="297.8" r="1.5"/>
<circle cx="146.4" cy="302.0" r="1.5"/>
<circle cx="129.7" cy="290.6" r="1.5"/>
<circle cx="157.0" cy="279.7" r="1.5"/>
<circle cx="136.8" cy="285.0" r="1.5"/>
<circle cx="145.6" cy="304.4" r="1.5"/>
<circle cx="165.1" cy="275.8" r="1.5"/>
<circle cx="130.0" cy="277.3" r="1.5"/>
<circle cx="161.9" cy="298.2" r="1.5"/>
<circle cx="147.0" cy="276.7" r="1.5"/>
<circle cx="128.9" cy="298.2" r="1.5"/>
<circle cx="160.3" cy="284.3" r="1.5"/>
<circle cx="155.6" cy="279.1" r="1.5"/>
<circle cx="141.1" cy="295.0" r="1.5"/>
<circle cx="142.3" cy="277.2" r="1.5"/>
<circle cx="160.9" cy="277.3" r="1.5"/>
<circle cx="135.3" cy="282.5" r="1.5"/>
<circle cx="128.4" cy="302.7" r="1.5"/>
<circle cx="155.5" cy="288.2" r="1.5"/>
<circle cx="135.0" cy="289.7" r="1.5"/>
<circle cx="133.5" cy="301.1" r="1.5"/>
<circle cx="152.4" cy="296.8" r="1.5"/>
<circle cx="152.4" cy="292.8" r="1.5"/>
<circle cx="144.7" cy="288.4" r="1.5"/>
<circle cx="153.4" cy="296.3" r="1.5"/>
<circle cx="159.2" cy="292.3" r="1.5"/>
<circle cx="129.7" cy="302.4" r="1.5"/>
<circle cx="125.3" cy="283.0" r="1.5"/>
<circle cx="124.6" cy="299.8" r="1.5"/>
<circle cx="141.1" cy="283.7" r="1.5"/>
<circle cx="164.8" cy="283.2" r="1.5"/>
<circle cx="126.7" cy="277.5" r="1.5"/>
<circle cx="164.7" cy="279.5" r="1.5"/>
<circle cx="144.2" cy="297.9" r="1.5"/>
<circle cx="142.9" cy="300.6" r="1.5"/>
<circle cx="140.7" cy="307.6" r="1.5"/>
<circle cx="154.4" cy="296.1" r="1.5"/>
<circle cx="136.9" cy="288.2" r="1.5"/>
<circle cx="154.7" cy="288.8" r="1.5"/>
<circle cx="145.7" cy="279.2" r="1.5"/>
<circle cx="156.5" cy="291.3" r="1.5"/>
<circle cx="142.7" cy="280.9" r="1.5"/>
<circle cx="125.8" cy="275.1" r="1.5"/>
<circle cx="145.4" cy="295.5" r="1.5"/>
<circle cx="154.4" cy="290.0" r="1.5"/>
<circle cx="145.3" cy="287.5" r="1.5"/>
<circle cx="126.0" cy="299.1" r="1.5"/>
<circle cx="140.4" cy="298.6" r="1.5"/>
<circle cx="158.2" cy="293.3" r="1.5"/>
<circle cx="141.4" cy="288.1" r="1.5"/>
<circle cx="126.3" cy="291.4" r="1.5"/>
<circle cx="129.9" cy="280.8" r="1.5"/>
<circle cx="142.7" cy="284.4" r="1.5"/>
<circle cx="128.7" cy="282.5" r="1.5"/>
<circle cx="162.7" cy="285.3" r="1.5"/>
<circle cx="129.6" cy="294.9" r="1.5"/>
<circle cx="142.6" cy="302.9" r="1.5"/>
<circle cx="148.4" cy="284.8" r="1.5"/>
<circle cx="132.3" cy="293.5" r="1.5"/>
<circle cx="134.3" cy="285.5" r="1.5"/>
<circle cx="161.5" cy="281.9" r="1.5"/>
<circle cx="153.7" cy="304.8" r="1.5"/>
<circle cx="128.7" cy="293.7" r="1.5"/>
<circle cx="139.0" cy="291.2" r="1.5"/>
<circle cx="139.9" cy="282.1" r="1.5"/>
<circle cx="145.1" cy="276.7" r="1.5"/>
<circle cx="139.6" cy="296.1" r="1.5"/>
<circle cx="155.7" cy="278.0" r="1.5"/>
<circle cx="147.4" cy="286.6" r="1.5"/>
<circle cx="130.2" cy="279.4" r="1.5"/>
<circle cx="131.4" cy="284.8" r="1.5"/>
<circle cx="141.3" cy="298.5" r="1.5"/>
<circle cx="155.7" cy="293.8" r="1.5"/>
<circle cx="149.9" cy="305.0" r="1.5"/>
<circle cx="129.4" cy="302.1" r="1.5"/>
<circle cx="149.7" cy="300.4" r="1.5"/>
<circle cx="142.9" cy="279.9" r="1.5"/>
<circle cx="146.4" cy="308.8" r="1.5"/>
<circle cx="160.5" cy="300.9" r="1.5"/>
<circle cx="148.3" cy="292.8" r="1.5"/>
<circle cx="140.9" cy="306.3" r="1.5"/>
<circle cx="148.8" cy="300.7" r="1.5"/>
<circle cx="146.6" cy="287.9" r="1.5"/>
<circle cx="147.0" cy="280.9" r="1.5"/>
<circle cx="126.0" cy="304.0" r="1.5"/>
<circle cx="151.0" cy="307.8" r="1.5"/>
<circle cx="159.3" cy="286.3" r="1.5"/>
<circle cx="158.6" cy="298.8" r="1.5"/>
<circle cx="162.0" cy="307.3" r="1.5"/>
<circle cx="141.2" cy="302.9" r="1.5"/>
<circle cx="151.8" cy="288.2" r="1.5"/>
<circle cx="152.6" cy="288.8" r="1.5"/>
<circle cx="156.5" cy="303.0" r="1.5"/>
<circle cx="142.8" cy="289.3" r="1.5"/>
<circle cx="162.5" cy="305.8" r="1.5"/>
<circle cx="136.4" cy="296.5" r="1.5"/>
<circle cx="139.7" cy="306.7" r="1.5"/>
<circle cx="141.6" cy="290.3" r="1.5"/>
<circle cx="136.1" cy="304.4" r="1.5"/>
<circle cx="152.7" cy="299.7" r="1.5"/>
<circle cx="145.8" cy="291.2" r="1.5"/>
<circle cx="152.7" cy="288.2" r="1.5"/>
<circle cx="128.5" cy="284.2" r="1.5"/>
<circle cx="150.0" cy="275.4" r="1.5"/>
<circle cx="144.0" cy="285.6" r="1.5"/>
<circle cx="162.6" cy="275.5" r="1.5"/>
<circle cx="135.9" cy="288.3" r="1.5"/>
<circle cx="137.1" cy="291.1" r="1.5"/>
<circle cx="165.1" cy="297.0" r="1.5"/>
<circle cx="129.4" cy="289.9" r="1.5"/>
<circle cx="145.5" cy="287.5" r="1.5"/>
<circle cx="144.3" cy="302.9" r="1.5"/>
<circle cx="149.2" cy="284.9" r="1.5"/>
<circle cx="164.4" cy="308.9" r="1.5"/>
<circle cx="125.0" cy="287.7" r="1.5"/>
<circle cx="128.9" cy="280.2" r="1.5"/>
<circle cx="157.0" cy="275.0" r="1.5"/>
<circle cx="141.1" cy="297.6" r="1.5"/>
<circle cx="147.1" cy="287.3" r="1.5"/>
<circle cx="124.5" cy="302.2" r="1.5"/>
<circle cx="135.6" cy="282.1" r="1.5"/>
<circle cx="136.7" cy="291.8" r="1.5"/>
<circle cx="137.4" cy="308.8" r="1.5"/>
<circle cx="152.3" cy="297.4" r="1.5"/>
</g>
<line x1="84.2" y1="271.1" x2="84.2" y2="254.2" stroke="#444" stroke-width="1.0"/>
<line x1="84.2" y1="282.6" x2="84.2" y2="297.3" stroke="#444" stroke-width="1.0"/>
<line x1="79.2" y1="254.2" x2="89.2" y2="254.2" stroke="#444" stroke-width="1.0"/>
<line x1="79.2" y1="297.3" x2="89.2" y2="297.3" stroke="#444" stroke-width="1.0"/>
<line x1="144.7" y1="286.9" x2="144.7" y2="276.5" stroke="#444" stroke-width="1.0"/>
<line x1="144.7" y1="294.9" x2="144.7" y2="304.0" stroke="#444" stroke-width="1.0"/>
<line x1="139.7" y1="276.5" x2="149.7" y2="276.5" stroke="#444" stroke-width="1.0"/>
<line x1="139.7" y1="304.0" x2="149.7" y2="304.0" stroke="#444" stroke-width="1.0"/>
<rect x="62.0" y="271.1" width="44.5" height="11.5" fill="#6fc4a0" stroke="none" stroke-width="0" fill-opacity="0.85"/>
<line x1="62.0" y1="281.7" x2="106.5" y2="281.7" stroke="#3a3a3a" stroke-width="1.3"/>
<rect x="122.5" y="286.9" width="44.3" height="8.0" fill="#e8855c" stroke="none" stroke-width="0" fill-opacity="0.9"/>
<line x1="122.5" y1="293.8" x2="166.8" y2="293.8" stroke="#3a3a3a" stroke-width="1.6"/>
<path d="M44.5,179.0 H183.6 V309.0 H44.5 Z" fill="none" stroke="#333" stroke-width="1.1"/>
<line x1="42.0" y1="309.0" x2="44.5" y2="309.0" stroke="#333" stroke-width="0.9"/>
<text x="32.7" y="311.4" font-size="9.3" text-anchor="middle" >0</text>
<line x1="42.0" y1="287.3" x2="44.5" y2="287.3" stroke="#333" stroke-width="0.9"/>
<text x="32.7" y="289.7" font-size="9.3" text-anchor="middle" >1</text>
<line x1="42.0" y1="265.7" x2="44.5" y2="265.7" stroke="#333" stroke-width="0.9"/>
<text x="32.7" y="268.1" font-size="9.3" text-anchor="middle" >2</text>
<line x1="42.0" y1="244.0" x2="44.5" y2="244.0" stroke="#333" stroke-width="0.9"/>
<text x="32.7" y="246.4" font-size="9.3" text-anchor="middle" >3</text>
<line x1="42.0" y1="222.3" x2="44.5" y2="222.3" stroke="#333" stroke-width="0.9"/>
<text x="32.7" y="224.7" font-size="9.3" text-anchor="middle" >4</text>
<line x1="42.0" y1="200.7" x2="44.5" y2="200.7" stroke="#333" stroke-width="0.9"/>
<text x="32.7" y="203.1" font-size="9.3" text-anchor="middle" >5</text>
<line x1="42.0" y1="179.0" x2="44.5" y2="179.0" stroke="#333" stroke-width="0.9"/>
<text x="32.7" y="181.4" font-size="9.3" text-anchor="middle" >6</text>
<line x1="84.3" y1="309.0" x2="84.3" y2="311.0" stroke="#333" stroke-width="0.8"/>
<line x1="144.5" y1="309.0" x2="144.5" y2="311.0" stroke="#333" stroke-width="0.8"/>
<path d="M84.3,253.9 V250.4 H144.8 V252.9" fill="none" stroke="#3a3a3a" stroke-width="1.2"/>
<polygon points="111.40,231.50 112.09,233.15 113.87,233.30 112.51,234.46 112.93,236.20 111.40,235.27 109.87,236.20 110.29,234.46 108.93,233.30 110.71,233.15" fill="#1a1a1a" stroke="#1a1a1a" stroke-width="0.5" stroke-linejoin="round"/>
<polygon points="116.40,231.50 117.09,233.15 118.87,233.30 117.51,234.46 117.93,236.20 116.40,235.27 114.87,236.20 115.29,234.46 113.93,233.30 115.71,233.15" fill="#1a1a1a" stroke="#1a1a1a" stroke-width="0.5" stroke-linejoin="round"/>
<polygon points="121.40,231.50 122.09,233.15 123.87,233.30 122.51,234.46 122.93,236.20 121.40,235.27 119.87,236.20 120.29,234.46 118.93,233.30 120.71,233.15" fill="#1a1a1a" stroke="#1a1a1a" stroke-width="0.5" stroke-linejoin="round"/>
<text x="86.4" y="191.3" font-size="9.3" text-anchor="start" >0.1° (N=1698)</text>
<text transform="translate(4.8,255.5) rotate(-90)" font-size="9.3" text-anchor="middle" dominant-baseline="central">Diff. in AGC rate</text>
<text transform="translate(16.0,255.5) rotate(-90)" font-size="9.3" text-anchor="middle" dominant-baseline="central">(PYF-NYF) (Tg C yr<tspan font-size="5.8" dy="-2.5">-1</tspan><tspan dy="2.5">)</tspan></text>
<g fill="#6cc39c" fill-opacity="0.18">
<circle cx="93.4" cy="392.2" r="1.8"/>
<circle cx="65.0" cy="416.1" r="1.8"/>
<circle cx="77.3" cy="407.3" r="1.8"/>
<circle cx="91.3" cy="375.9" r="1.8"/>
<circle cx="96.4" cy="390.6" r="1.8"/>
<circle cx="83.5" cy="391.6" r="1.8"/>
<circle cx="100.3" cy="396.5" r="1.8"/>
<circle cx="77.5" cy="383.1" r="1.8"/>
<circle cx="80.7" cy="385.3" r="1.8"/>
<circle cx="98.0" cy="409.4" r="1.8"/>
<circle cx="93.5" cy="408.5" r="1.8"/>
<circle cx="85.7" cy="414.4" r="1.8"/>
<circle cx="91.8" cy="382.2" r="1.8"/>
<circle cx="100.1" cy="406.5" r="1.8"/>
</g>
<g fill="#6cc39c" fill-opacity="0.2">
<circle cx="103.5" cy="421.0" r="1.8"/>
<circle cx="65.1" cy="402.4" r="1.8"/>
<circle cx="89.4" cy="406.2" r="1.8"/>
<circle cx="87.2" cy="418.1" r="1.8"/>
<circle cx="88.1" cy="405.6" r="1.8"/>
<circle cx="94.5" cy="409.8" r="1.8"/>
<circle cx="76.7" cy="427.5" r="1.8"/>
<circle cx="80.7" cy="415.3" r="1.8"/>
<circle cx="73.5" cy="416.4" r="1.8"/>
<circle cx="102.7" cy="422.6" r="1.8"/>
<circle cx="76.2" cy="425.4" r="1.8"/>
<circle cx="95.9" cy="407.9" r="1.8"/>
<circle cx="101.2" cy="416.7" r="1.8"/>
<circle cx="64.8" cy="415.6" r="1.8"/>
<circle cx="84.3" cy="423.3" r="1.8"/>
<circle cx="101.6" cy="409.1" r="1.8"/>
<circle cx="85.2" cy="407.9" r="1.8"/>
<circle cx="69.7" cy="405.4" r="1.8"/>
<circle cx="97.4" cy="403.6" r="1.8"/>
<circle cx="91.5" cy="424.8" r="1.8"/>
<circle cx="93.4" cy="416.2" r="1.8"/>
<circle cx="93.0" cy="414.6" r="1.8"/>
<circle cx="64.0" cy="403.8" r="1.8"/>
<circle cx="91.9" cy="412.7" r="1.8"/>
<circle cx="67.4" cy="416.0" r="1.8"/>
<circle cx="65.7" cy="414.6" r="1.8"/>
<circle cx="90.8" cy="420.1" r="1.8"/>
<circle cx="87.4" cy="420.1" r="1.8"/>
<circle cx="100.3" cy="419.9" r="1.8"/>
<circle cx="71.7" cy="421.1" r="1.8"/>
</g>
<g fill="#6cc39c" fill-opacity="0.3">
<circle cx="76.8" cy="430.2" r="1.7"/>
<circle cx="68.5" cy="432.6" r="1.7"/>
<circle cx="74.9" cy="433.7" r="1.7"/>
<circle cx="89.3" cy="429.6" r="1.7"/>
<circle cx="72.2" cy="431.0" r="1.7"/>
<circle cx="76.8" cy="432.7" r="1.7"/>
<circle cx="92.6" cy="431.5" r="1.7"/>
<circle cx="73.8" cy="433.2" r="1.7"/>
<circle cx="88.9" cy="431.1" r="1.7"/>
<circle cx="81.9" cy="432.8" r="1.7"/>
<circle cx="83.0" cy="428.3" r="1.7"/>
<circle cx="68.1" cy="433.4" r="1.7"/>
<circle cx="81.2" cy="432.4" r="1.7"/>
<circle cx="88.2" cy="429.0" r="1.7"/>
<circle cx="98.1" cy="428.1" r="1.7"/>
<circle cx="89.0" cy="431.3" r="1.7"/>
<circle cx="97.3" cy="428.0" r="1.7"/>
<circle cx="91.3" cy="429.5" r="1.7"/>
<circle cx="103.7" cy="427.7" r="1.7"/>
<circle cx="82.8" cy="432.7" r="1.7"/>
<circle cx="97.1" cy="426.4" r="1.7"/>
<circle cx="82.9" cy="430.1" r="1.7"/>
<circle cx="91.8" cy="428.1" r="1.7"/>
<circle cx="82.8" cy="431.9" r="1.7"/>
<circle cx="72.9" cy="426.8" r="1.7"/>
<circle cx="89.1" cy="426.4" r="1.7"/>
<circle cx="79.8" cy="428.1" r="1.7"/>
<circle cx="91.0" cy="427.4" r="1.7"/>
<circle cx="100.0" cy="430.1" r="1.7"/>
<circle cx="64.9" cy="430.0" r="1.7"/>
<circle cx="78.1" cy="430.1" r="1.7"/>
<circle cx="70.7" cy="427.6" r="1.7"/>
<circle cx="88.5" cy="432.8" r="1.7"/>
<circle cx="67.9" cy="427.2" r="1.7"/>
<circle cx="96.4" cy="431.2" r="1.7"/>
<circle cx="90.4" cy="427.4" r="1.7"/>
<circle cx="85.6" cy="430.6" r="1.7"/>
<circle cx="80.7" cy="428.8" r="1.7"/>
<circle cx="86.2" cy="425.9" r="1.7"/>
<circle cx="79.5" cy="431.1" r="1.7"/>
<circle cx="97.2" cy="429.0" r="1.7"/>
<circle cx="95.9" cy="430.3" r="1.7"/>
<circle cx="96.1" cy="429.4" r="1.7"/>
<circle cx="73.4" cy="428.4" r="1.7"/>
<circle cx="66.9" cy="426.3" r="1.7"/>
<circle cx="87.3" cy="429.9" r="1.7"/>
<circle cx="88.0" cy="430.1" r="1.7"/>
<circle cx="86.5" cy="427.1" r="1.7"/>
<circle cx="70.9" cy="426.1" r="1.7"/>
<circle cx="66.6" cy="432.9" r="1.7"/>
<circle cx="97.2" cy="427.6" r="1.7"/>
<circle cx="79.3" cy="429.8" r="1.7"/>
<circle cx="90.8" cy="433.1" r="1.7"/>
<circle cx="97.3" cy="426.6" r="1.7"/>
<circle cx="100.8" cy="428.7" r="1.7"/>
<circle cx="63.7" cy="432.6" r="1.7"/>
<circle cx="69.8" cy="429.5" r="1.7"/>
<circle cx="79.7" cy="429.1" r="1.7"/>
<circle cx="71.7" cy="428.3" r="1.7"/>
<circle cx="76.7" cy="429.2" r="1.7"/>
<circle cx="101.2" cy="431.3" r="1.7"/>
<circle cx="102.5" cy="430.3" r="1.7"/>
<circle cx="104.1" cy="431.0" r="1.7"/>
<circle cx="67.4" cy="433.8" r="1.7"/>
<circle cx="104.2" cy="430.5" r="1.7"/>
<circle cx="68.9" cy="431.4" r="1.7"/>
<circle cx="78.9" cy="429.4" r="1.7"/>
<circle cx="65.9" cy="428.1" r="1.7"/>
<circle cx="97.4" cy="430.9" r="1.7"/>
<circle cx="99.1" cy="426.8" r="1.7"/>
<circle cx="73.4" cy="428.1" r="1.7"/>
<circle cx="79.9" cy="431.2" r="1.7"/>
<circle cx="79.4" cy="430.7" r="1.7"/>
<circle cx="86.1" cy="428.4" r="1.7"/>
<circle cx="83.2" cy="432.3" r="1.7"/>
<circle cx="79.5" cy="426.3" r="1.7"/>
<circle cx="98.2" cy="432.6" r="1.7"/>
<circle cx="104.7" cy="428.4" r="1.7"/>
<circle cx="69.2" cy="433.2" r="1.7"/>
<circle cx="64.3" cy="428.0" r="1.7"/>
<circle cx="83.7" cy="430.3" r="1.7"/>
<circle cx="104.4" cy="433.1" r="1.7"/>
<circle cx="90.1" cy="430.4" r="1.7"/>
<circle cx="82.4" cy="427.4" r="1.7"/>
<circle cx="88.5" cy="430.4" r="1.7"/>
<circle cx="71.1" cy="429.7" r="1.7"/>
<circle cx="86.4" cy="430.2" r="1.7"/>
<circle cx="78.3" cy="432.3" r="1.7"/>
<circle cx="88.5" cy="429.1" r="1.7"/>
<circle cx="98.5" cy="431.9" r="1.7"/>
<circle cx="84.3" cy="430.5" r="1.7"/>
<circle cx="86.1" cy="430.8" r="1.7"/>
<circle cx="103.9" cy="429.2" r="1.7"/>
<circle cx="92.7" cy="432.9" r="1.7"/>
<circle cx="83.5" cy="428.2" r="1.7"/>
<circle cx="69.5" cy="427.9" r="1.7"/>
<circle cx="104.1" cy="425.8" r="1.7"/>
<circle cx="95.7" cy="430.0" r="1.7"/>
<circle cx="66.9" cy="426.6" r="1.7"/>
<circle cx="67.3" cy="430.0" r="1.7"/>
<circle cx="94.2" cy="426.0" r="1.7"/>
<circle cx="66.9" cy="428.7" r="1.7"/>
<circle cx="96.5" cy="431.3" r="1.7"/>
<circle cx="65.9" cy="431.0" r="1.7"/>
<circle cx="95.7" cy="430.0" r="1.7"/>
<circle cx="84.8" cy="430.0" r="1.7"/>
<circle cx="93.9" cy="430.4" r="1.7"/>
<circle cx="103.2" cy="427.3" r="1.7"/>
<circle cx="75.6" cy="433.5" r="1.7"/>
<circle cx="101.6" cy="427.7" r="1.7"/>
<circle cx="93.6" cy="429.2" r="1.7"/>
<circle cx="66.2" cy="430.0" r="1.7"/>
<circle cx="70.6" cy="433.4" r="1.7"/>
<circle cx="104.4" cy="427.3" r="1.7"/>
<circle cx="89.4" cy="431.5" r="1.7"/>
<circle cx="67.1" cy="429.7" r="1.7"/>
<circle cx="98.7" cy="431.6" r="1.7"/>
<circle cx="69.1" cy="431.5" r="1.7"/>
<circle cx="99.0" cy="433.7" r="1.7"/>
<circle cx="68.3" cy="432.4" r="1.7"/>
<circle cx="88.0" cy="432.6" r="1.7"/>
<circle cx="82.1" cy="427.3" r="1.7"/>
<circle cx="74.4" cy="428.1" r="1.7"/>
<circle cx="83.6" cy="427.3" r="1.7"/>
<circle cx="99.1" cy="431.0" r="1.7"/>
<circle cx="67.2" cy="432.6" r="1.7"/>
<circle cx="102.1" cy="432.6" r="1.7"/>
<circle cx="84.1" cy="425.8" r="1.7"/>
<circle cx="95.4" cy="431.9" r="1.7"/>
<circle cx="81.8" cy="428.6" r="1.7"/>
</g>
<g fill="#6cc39c" fill-opacity="0.28">
<circle cx="72.4" cy="449.1" r="1.7"/>
<circle cx="77.9" cy="450.2" r="1.7"/>
<circle cx="94.8" cy="456.5" r="1.7"/>
<circle cx="70.6" cy="453.1" r="1.7"/>
<circle cx="76.1" cy="448.9" r="1.7"/>
<circle cx="94.6" cy="451.5" r="1.7"/>
<circle cx="79.3" cy="449.4" r="1.7"/>
<circle cx="83.2" cy="456.2" r="1.7"/>
<circle cx="99.5" cy="457.8" r="1.7"/>
<circle cx="101.8" cy="452.5" r="1.7"/>
<circle cx="91.6" cy="446.3" r="1.7"/>
<circle cx="91.8" cy="457.4" r="1.7"/>
<circle cx="101.4" cy="450.3" r="1.7"/>
<circle cx="103.0" cy="452.7" r="1.7"/>
<circle cx="101.4" cy="447.6" r="1.7"/>
<circle cx="77.5" cy="454.7" r="1.7"/>
<circle cx="67.7" cy="450.0" r="1.7"/>
<circle cx="79.8" cy="448.6" r="1.7"/>
<circle cx="94.5" cy="449.1" r="1.7"/>
<circle cx="87.9" cy="455.6" r="1.7"/>
<circle cx="77.6" cy="449.6" r="1.7"/>
<circle cx="71.1" cy="451.3" r="1.7"/>
<circle cx="91.4" cy="447.9" r="1.7"/>
<circle cx="64.2" cy="456.8" r="1.7"/>
<circle cx="68.0" cy="452.6" r="1.7"/>
<circle cx="72.7" cy="454.5" r="1.7"/>
<circle cx="71.6" cy="457.7" r="1.7"/>
<circle cx="67.5" cy="446.6" r="1.7"/>
<circle cx="90.7" cy="447.9" r="1.7"/>
<circle cx="102.8" cy="450.2" r="1.7"/>
<circle cx="92.8" cy="456.5" r="1.7"/>
<circle cx="98.9" cy="456.4" r="1.7"/>
<circle cx="90.7" cy="447.1" r="1.7"/>
<circle cx="87.0" cy="446.3" r="1.7"/>
<circle cx="100.5" cy="449.6" r="1.7"/>
<circle cx="74.1" cy="452.3" r="1.7"/>
<circle cx="102.2" cy="450.2" r="1.7"/>
<circle cx="101.6" cy="454.6" r="1.7"/>
<circle cx="81.2" cy="447.0" r="1.7"/>
<circle cx="95.3" cy="454.0" r="1.7"/>
<circle cx="70.4" cy="457.1" r="1.7"/>
<circle cx="95.6" cy="453.3" r="1.7"/>
<circle cx="77.4" cy="457.2" r="1.7"/>
<circle cx="103.0" cy="454.8" r="1.7"/>
<circle cx="81.8" cy="452.0" r="1.7"/>
<circle cx="101.9" cy="450.6" r="1.7"/>
<circle cx="71.0" cy="452.0" r="1.7"/>
<circle cx="69.6" cy="448.7" r="1.7"/>
<circle cx="72.7" cy="450.2" r="1.7"/>
<circle cx="101.2" cy="449.3" r="1.7"/>
<circle cx="67.9" cy="457.1" r="1.7"/>
<circle cx="87.2" cy="454.9" r="1.7"/>
<circle cx="82.0" cy="447.1" r="1.7"/>
<circle cx="69.8" cy="450.2" r="1.7"/>
<circle cx="102.0" cy="449.9" r="1.7"/>
<circle cx="74.7" cy="449.5" r="1.7"/>
<circle cx="100.9" cy="451.0" r="1.7"/>
<circle cx="84.9" cy="446.6" r="1.7"/>
<circle cx="83.9" cy="452.7" r="1.7"/>
<circle cx="98.4" cy="448.5" r="1.7"/>
<circle cx="96.0" cy="451.4" r="1.7"/>
<circle cx="63.8" cy="446.4" r="1.7"/>
<circle cx="97.3" cy="452.1" r="1.7"/>
<circle cx="87.0" cy="446.7" r="1.7"/>
<circle cx="78.5" cy="449.7" r="1.7"/>
<circle cx="80.2" cy="450.3" r="1.7"/>
<circle cx="103.1" cy="456.8" r="1.7"/>
<circle cx="85.7" cy="446.4" r="1.7"/>
<circle cx="67.0" cy="452.4" r="1.7"/>
<circle cx="95.2" cy="450.1" r="1.7"/>
<circle cx="71.0" cy="457.5" r="1.7"/>
<circle cx="79.5" cy="455.6" r="1.7"/>
<circle cx="92.3" cy="447.1" r="1.7"/>
<circle cx="89.6" cy="453.6" r="1.7"/>
<circle cx="67.2" cy="450.3" r="1.7"/>
<circle cx="93.9" cy="456.3" r="1.7"/>
<circle cx="71.6" cy="449.3" r="1.7"/>
<circle cx="88.1" cy="452.0" r="1.7"/>
<circle cx="66.3" cy="451.4" r="1.7"/>
<circle cx="76.3" cy="451.5" r="1.7"/>
<circle cx="98.0" cy="452.5" r="1.7"/>
<circle cx="104.6" cy="457.5" r="1.7"/>
<circle cx="66.0" cy="448.4" r="1.7"/>
<circle cx="65.5" cy="456.5" r="1.7"/>
<circle cx="96.9" cy="449.9" r="1.7"/>
<circle cx="82.5" cy="449.8" r="1.7"/>
<circle cx="99.6" cy="456.1" r="1.7"/>
<circle cx="87.5" cy="446.8" r="1.7"/>
<circle cx="65.2" cy="456.2" r="1.7"/>
<circle cx="90.6" cy="452.3" r="1.7"/>
<circle cx="101.4" cy="457.4" r="1.7"/>
<circle cx="92.5" cy="456.4" r="1.7"/>
<circle cx="70.8" cy="457.3" r="1.7"/>
<circle cx="76.3" cy="448.4" r="1.7"/>
<circle cx="82.4" cy="455.9" r="1.7"/>
<circle cx="88.0" cy="448.1" r="1.7"/>
<circle cx="68.1" cy="451.9" r="1.7"/>
<circle cx="96.5" cy="455.3" r="1.7"/>
<circle cx="96.8" cy="452.8" r="1.7"/>
<circle cx="97.1" cy="446.1" r="1.7"/>
<circle cx="91.6" cy="454.0" r="1.7"/>
<circle cx="103.8" cy="451.0" r="1.7"/>
<circle cx="69.3" cy="447.9" r="1.7"/>
<circle cx="96.3" cy="448.7" r="1.7"/>
<circle cx="88.1" cy="453.9" r="1.7"/>
<circle cx="68.7" cy="456.2" r="1.7"/>
<circle cx="80.8" cy="449.5" r="1.7"/>
<circle cx="86.4" cy="452.7" r="1.7"/>
<circle cx="101.7" cy="457.5" r="1.7"/>
<circle cx="67.8" cy="447.7" r="1.7"/>
<circle cx="88.9" cy="448.6" r="1.7"/>
<circle cx="64.3" cy="452.1" r="1.7"/>
<circle cx="64.0" cy="455.8" r="1.7"/>
<circle cx="67.4" cy="450.1" r="1.7"/>
<circle cx="100.2" cy="452.9" r="1.7"/>
<circle cx="96.9" cy="448.6" r="1.7"/>
<circle cx="92.2" cy="455.5" r="1.7"/>
<circle cx="90.0" cy="451.6" r="1.7"/>
<circle cx="80.6" cy="446.6" r="1.7"/>
<circle cx="88.8" cy="457.5" r="1.7"/>
<circle cx="71.1" cy="451.9" r="1.7"/>
<circle cx="102.8" cy="450.4" r="1.7"/>
<circle cx="95.9" cy="453.7" r="1.7"/>
<circle cx="63.9" cy="455.1" r="1.7"/>
<circle cx="68.5" cy="451.5" r="1.7"/>
<circle cx="67.6" cy="453.6" r="1.7"/>
<circle cx="95.0" cy="451.4" r="1.7"/>
<circle cx="72.7" cy="448.7" r="1.7"/>
<circle cx="90.8" cy="454.6" r="1.7"/>
<circle cx="71.7" cy="448.3" r="1.7"/>
<circle cx="91.9" cy="446.3" r="1.7"/>
<circle cx="83.2" cy="455.8" r="1.7"/>
<circle cx="91.2" cy="457.4" r="1.7"/>
<circle cx="90.2" cy="454.5" r="1.7"/>
<circle cx="81.6" cy="453.9" r="1.7"/>
<circle cx="96.8" cy="448.8" r="1.7"/>
<circle cx="65.5" cy="449.0" r="1.7"/>
<circle cx="101.7" cy="455.8" r="1.7"/>
<circle cx="96.0" cy="452.1" r="1.7"/>
<circle cx="68.5" cy="447.1" r="1.7"/>
<circle cx="93.3" cy="450.8" r="1.7"/>
<circle cx="77.1" cy="455.5" r="1.7"/>
<circle cx="91.5" cy="454.0" r="1.7"/>
<circle cx="95.7" cy="454.0" r="1.7"/>
<circle cx="67.7" cy="449.0" r="1.7"/>
<circle cx="99.5" cy="453.4" r="1.7"/>
<circle cx="72.8" cy="452.3" r="1.7"/>
<circle cx="83.6" cy="447.2" r="1.7"/>
<circle cx="69.7" cy="446.7" r="1.7"/>
<circle cx="82.4" cy="453.3" r="1.7"/>
</g>
<g fill="#6cc39c" fill-opacity="0.2">
<circle cx="69.3" cy="437.0" r="1.7"/>
<circle cx="89.7" cy="433.1" r="1.7"/>
<circle cx="72.0" cy="446.1" r="1.7"/>
<circle cx="92.1" cy="447.2" r="1.7"/>
<circle cx="69.3" cy="435.0" r="1.7"/>
<circle cx="82.5" cy="445.4" r="1.7"/>
<circle cx="77.8" cy="434.5" r="1.7"/>
<circle cx="88.5" cy="436.0" r="1.7"/>
<circle cx="89.9" cy="438.7" r="1.7"/>
<circle cx="70.7" cy="433.2" r="1.7"/>
<circle cx="98.8" cy="446.7" r="1.7"/>
<circle cx="98.9" cy="440.6" r="1.7"/>
<circle cx="104.6" cy="439.0" r="1.7"/>
<circle cx="98.1" cy="443.8" r="1.7"/>
<circle cx="93.7" cy="436.8" r="1.7"/>
<circle cx="73.8" cy="443.0" r="1.7"/>
<circle cx="87.5" cy="434.4" r="1.7"/>
<circle cx="88.0" cy="445.8" r="1.7"/>
<circle cx="87.3" cy="448.0" r="1.7"/>
<circle cx="104.0" cy="447.5" r="1.7"/>
<circle cx="83.0" cy="436.3" r="1.7"/>
<circle cx="65.1" cy="439.9" r="1.7"/>
<circle cx="83.4" cy="435.8" r="1.7"/>
<circle cx="97.5" cy="441.1" r="1.7"/>
<circle cx="73.6" cy="439.5" r="1.7"/>
<circle cx="64.2" cy="436.8" r="1.7"/>
<circle cx="102.7" cy="446.0" r="1.7"/>
<circle cx="75.9" cy="438.1" r="1.7"/>
<circle cx="67.4" cy="440.7" r="1.7"/>
<circle cx="76.2" cy="437.3" r="1.7"/>
<circle cx="99.0" cy="436.6" r="1.7"/>
<circle cx="64.7" cy="441.1" r="1.7"/>
<circle cx="95.4" cy="434.7" r="1.7"/>
<circle cx="80.4" cy="435.9" r="1.7"/>
<circle cx="78.9" cy="440.9" r="1.7"/>
<circle cx="89.7" cy="434.9" r="1.7"/>
<circle cx="66.6" cy="434.4" r="1.7"/>
<circle cx="77.4" cy="447.6" r="1.7"/>
<circle cx="81.2" cy="443.9" r="1.7"/>
<circle cx="102.6" cy="439.7" r="1.7"/>
<circle cx="96.4" cy="436.0" r="1.7"/>
<circle cx="67.0" cy="434.5" r="1.7"/>
<circle cx="93.9" cy="447.2" r="1.7"/>
<circle cx="102.6" cy="437.7" r="1.7"/>
<circle cx="100.2" cy="446.4" r="1.7"/>
<circle cx="78.7" cy="438.6" r="1.7"/>
<circle cx="78.7" cy="445.4" r="1.7"/>
<circle cx="86.7" cy="447.0" r="1.7"/>
<circle cx="92.9" cy="444.9" r="1.7"/>
<circle cx="104.0" cy="444.4" r="1.7"/>
<circle cx="68.4" cy="440.7" r="1.7"/>
<circle cx="102.3" cy="439.2" r="1.7"/>
<circle cx="103.1" cy="444.9" r="1.7"/>
<circle cx="94.3" cy="444.6" r="1.7"/>
<circle cx="78.2" cy="444.0" r="1.7"/>
<circle cx="91.7" cy="443.8" r="1.7"/>
<circle cx="66.3" cy="442.8" r="1.7"/>
<circle cx="83.7" cy="440.0" r="1.7"/>
<circle cx="68.7" cy="437.2" r="1.7"/>
<circle cx="91.6" cy="439.9" r="1.7"/>
</g>
<g fill="#6cc39c" fill-opacity="0.3">
<circle cx="75.7" cy="454.1" r="1.7"/>
<circle cx="96.6" cy="452.7" r="1.7"/>
<circle cx="96.9" cy="452.7" r="1.7"/>
<circle cx="66.4" cy="452.9" r="1.7"/>
<circle cx="82.5" cy="456.5" r="1.7"/>
<circle cx="100.6" cy="455.6" r="1.7"/>
<circle cx="103.0" cy="456.4" r="1.7"/>
<circle cx="75.0" cy="453.8" r="1.7"/>
<circle cx="84.1" cy="453.0" r="1.7"/>
<circle cx="85.1" cy="454.1" r="1.7"/>
<circle cx="75.7" cy="452.6" r="1.7"/>
<circle cx="86.0" cy="456.3" r="1.7"/>
<circle cx="77.9" cy="454.9" r="1.7"/>
<circle cx="90.2" cy="455.6" r="1.7"/>
<circle cx="66.3" cy="453.0" r="1.7"/>
<circle cx="73.2" cy="452.7" r="1.7"/>
<circle cx="90.2" cy="455.0" r="1.7"/>
<circle cx="77.8" cy="454.0" r="1.7"/>
<circle cx="77.1" cy="454.2" r="1.7"/>
<circle cx="92.3" cy="453.2" r="1.7"/>
<circle cx="82.0" cy="455.5" r="1.7"/>
<circle cx="69.1" cy="453.4" r="1.7"/>
<circle cx="70.8" cy="455.7" r="1.7"/>
<circle cx="83.6" cy="452.6" r="1.7"/>
<circle cx="95.3" cy="456.6" r="1.7"/>
<circle cx="78.2" cy="454.8" r="1.7"/>
<circle cx="70.5" cy="452.8" r="1.7"/>
<circle cx="93.0" cy="455.6" r="1.7"/>
<circle cx="103.7" cy="453.2" r="1.7"/>
<circle cx="92.2" cy="453.9" r="1.7"/>
<circle cx="70.0" cy="455.8" r="1.7"/>
<circle cx="65.4" cy="455.5" r="1.7"/>
<circle cx="68.9" cy="455.7" r="1.7"/>
<circle cx="71.3" cy="454.4" r="1.7"/>
<circle cx="65.1" cy="455.5" r="1.7"/>
<circle cx="77.8" cy="455.2" r="1.7"/>
<circle cx="85.9" cy="456.1" r="1.7"/>
<circle cx="76.1" cy="452.8" r="1.7"/>
<circle cx="80.3" cy="454.7" r="1.7"/>
<circle cx="69.7" cy="454.8" r="1.7"/>
<circle cx="76.9" cy="456.8" r="1.7"/>
<circle cx="94.1" cy="452.6" r="1.7"/>
<circle cx="77.3" cy="453.8" r="1.7"/>
<circle cx="83.2" cy="455.6" r="1.7"/>
<circle cx="102.5" cy="452.5" r="1.7"/>
<circle cx="87.3" cy="456.2" r="1.7"/>
<circle cx="86.9" cy="452.9" r="1.7"/>
<circle cx="81.9" cy="453.8" r="1.7"/>
<circle cx="93.8" cy="452.9" r="1.7"/>
<circle cx="69.4" cy="454.4" r="1.7"/>
</g>
<g fill="#e8845a" fill-opacity="0.18">
<circle cx="136.8" cy="416.4" r="1.8"/>
<circle cx="158.5" cy="413.9" r="1.8"/>
<circle cx="128.1" cy="436.2" r="1.8"/>
<circle cx="150.4" cy="406.0" r="1.8"/>
<circle cx="133.3" cy="385.9" r="1.8"/>
<circle cx="135.6" cy="438.0" r="1.8"/>
<circle cx="146.2" cy="413.9" r="1.8"/>
<circle cx="151.6" cy="434.3" r="1.8"/>
<circle cx="145.1" cy="428.2" r="1.8"/>
<circle cx="137.2" cy="404.8" r="1.8"/>
</g>
<g fill="#e8845a" fill-opacity="0.22">
<circle cx="162.7" cy="420.4" r="1.8"/>
<circle cx="139.0" cy="445.4" r="1.8"/>
<circle cx="159.0" cy="438.1" r="1.8"/>
<circle cx="139.5" cy="440.9" r="1.8"/>
<circle cx="138.6" cy="418.1" r="1.8"/>
<circle cx="159.9" cy="447.4" r="1.8"/>
<circle cx="153.9" cy="435.7" r="1.8"/>
<circle cx="164.7" cy="423.8" r="1.8"/>
<circle cx="136.0" cy="423.8" r="1.8"/>
<circle cx="163.8" cy="436.3" r="1.8"/>
<circle cx="160.8" cy="445.7" r="1.8"/>
<circle cx="148.2" cy="447.4" r="1.8"/>
<circle cx="132.8" cy="434.7" r="1.8"/>
<circle cx="159.6" cy="417.8" r="1.8"/>
<circle cx="127.0" cy="418.7" r="1.8"/>
<circle cx="155.1" cy="447.4" r="1.8"/>
<circle cx="141.0" cy="420.2" r="1.8"/>
<circle cx="141.2" cy="432.0" r="1.8"/>
<circle cx="153.2" cy="425.4" r="1.8"/>
<circle cx="129.9" cy="444.1" r="1.8"/>
<circle cx="139.8" cy="432.0" r="1.8"/>
<circle cx="126.0" cy="423.1" r="1.8"/>
<circle cx="158.3" cy="440.3" r="1.8"/>
<circle cx="147.1" cy="435.0" r="1.8"/>
<circle cx="125.4" cy="450.2" r="1.8"/>
<circle cx="135.0" cy="418.8" r="1.8"/>
<circle cx="158.3" cy="434.7" r="1.8"/>
<circle cx="150.9" cy="420.9" r="1.8"/>
<circle cx="141.3" cy="434.1" r="1.8"/>
<circle cx="152.3" cy="442.2" r="1.8"/>
<circle cx="129.2" cy="441.1" r="1.8"/>
<circle cx="164.8" cy="448.1" r="1.8"/>
<circle cx="154.6" cy="431.1" r="1.8"/>
<circle cx="147.3" cy="421.7" r="1.8"/>
<circle cx="149.9" cy="434.6" r="1.8"/>
</g>
<g fill="#e8845a" fill-opacity="0.26">
<circle cx="152.6" cy="457.4" r="1.7"/>
<circle cx="145.2" cy="446.9" r="1.7"/>
<circle cx="158.8" cy="456.4" r="1.7"/>
<circle cx="126.6" cy="452.8" r="1.7"/>
<circle cx="160.1" cy="457.0" r="1.7"/>
<circle cx="130.9" cy="453.9" r="1.7"/>
<circle cx="141.4" cy="439.1" r="1.7"/>
<circle cx="138.8" cy="453.5" r="1.7"/>
<circle cx="145.9" cy="438.6" r="1.7"/>
<circle cx="145.2" cy="442.5" r="1.7"/>
<circle cx="131.7" cy="458.0" r="1.7"/>
<circle cx="155.0" cy="447.6" r="1.7"/>
<circle cx="159.9" cy="441.1" r="1.7"/>
<circle cx="152.2" cy="453.2" r="1.7"/>
<circle cx="152.2" cy="444.3" r="1.7"/>
<circle cx="128.1" cy="446.8" r="1.7"/>
<circle cx="157.9" cy="459.8" r="1.7"/>
<circle cx="145.4" cy="451.5" r="1.7"/>
<circle cx="144.0" cy="452.3" r="1.7"/>
<circle cx="161.5" cy="457.8" r="1.7"/>
<circle cx="130.5" cy="455.0" r="1.7"/>
<circle cx="131.9" cy="439.5" r="1.7"/>
<circle cx="149.3" cy="441.0" r="1.7"/>
<circle cx="145.7" cy="447.9" r="1.7"/>
<circle cx="146.7" cy="442.7" r="1.7"/>
<circle cx="128.9" cy="449.5" r="1.7"/>
<circle cx="127.3" cy="441.3" r="1.7"/>
<circle cx="162.0" cy="449.1" r="1.7"/>
<circle cx="136.9" cy="451.8" r="1.7"/>
<circle cx="157.6" cy="439.6" r="1.7"/>
<circle cx="148.6" cy="442.6" r="1.7"/>
<circle cx="138.2" cy="443.8" r="1.7"/>
<circle cx="125.4" cy="441.4" r="1.7"/>
<circle cx="133.3" cy="440.4" r="1.7"/>
<circle cx="130.0" cy="454.9" r="1.7"/>
<circle cx="129.3" cy="457.1" r="1.7"/>
<circle cx="127.4" cy="444.2" r="1.7"/>
<circle cx="156.3" cy="458.3" r="1.7"/>
<circle cx="155.9" cy="442.7" r="1.7"/>
<circle cx="125.9" cy="457.7" r="1.7"/>
<circle cx="156.6" cy="448.3" r="1.7"/>
<circle cx="126.6" cy="457.4" r="1.7"/>
<circle cx="134.5" cy="458.6" r="1.7"/>
<circle cx="151.5" cy="442.8" r="1.7"/>
<circle cx="156.2" cy="438.9" r="1.7"/>
<circle cx="132.6" cy="439.4" r="1.7"/>
<circle cx="131.8" cy="452.0" r="1.7"/>
<circle cx="127.9" cy="440.7" r="1.7"/>
<circle cx="162.7" cy="438.3" r="1.7"/>
<circle cx="138.4" cy="456.4" r="1.7"/>
<circle cx="144.7" cy="443.4" r="1.7"/>
<circle cx="134.1" cy="447.0" r="1.7"/>
<circle cx="128.3" cy="446.8" r="1.7"/>
<circle cx="124.8" cy="455.1" r="1.7"/>
<circle cx="132.0" cy="453.6" r="1.7"/>
<circle cx="161.1" cy="447.8" r="1.7"/>
<circle cx="164.0" cy="457.9" r="1.7"/>
<circle cx="133.0" cy="448.5" r="1.7"/>
<circle cx="153.1" cy="451.7" r="1.7"/>
<circle cx="148.3" cy="450.0" r="1.7"/>
<circle cx="163.4" cy="456.0" r="1.7"/>
<circle cx="138.7" cy="451.4" r="1.7"/>
<circle cx="133.0" cy="454.9" r="1.7"/>
<circle cx="128.8" cy="437.5" r="1.7"/>
<circle cx="129.3" cy="457.6" r="1.7"/>
<circle cx="129.8" cy="442.6" r="1.7"/>
<circle cx="153.0" cy="447.3" r="1.7"/>
<circle cx="125.9" cy="452.6" r="1.7"/>
<circle cx="128.9" cy="453.6" r="1.7"/>
<circle cx="148.8" cy="453.0" r="1.7"/>
<circle cx="164.1" cy="449.9" r="1.7"/>
<circle cx="146.9" cy="453.4" r="1.7"/>
<circle cx="159.2" cy="455.8" r="1.7"/>
<circle cx="127.0" cy="440.8" r="1.7"/>
<circle cx="143.7" cy="444.5" r="1.7"/>
<circle cx="131.5" cy="437.1" r="1.7"/>
<circle cx="144.3" cy="457.7" r="1.7"/>
<circle cx="142.1" cy="445.0" r="1.7"/>
<circle cx="127.7" cy="456.8" r="1.7"/>
<circle cx="140.6" cy="446.5" r="1.7"/>
<circle cx="128.4" cy="438.8" r="1.7"/>
<circle cx="164.2" cy="458.6" r="1.7"/>
<circle cx="164.1" cy="452.3" r="1.7"/>
<circle cx="148.5" cy="437.3" r="1.7"/>
<circle cx="129.2" cy="440.8" r="1.7"/>
<circle cx="153.9" cy="453.7" r="1.7"/>
<circle cx="153.4" cy="446.7" r="1.7"/>
<circle cx="135.4" cy="442.0" r="1.7"/>
<circle cx="150.5" cy="450.9" r="1.7"/>
<circle cx="143.7" cy="446.2" r="1.7"/>
<circle cx="140.7" cy="449.0" r="1.7"/>
<circle cx="135.6" cy="442.4" r="1.7"/>
<circle cx="128.6" cy="454.4" r="1.7"/>
<circle cx="144.5" cy="445.7" r="1.7"/>
<circle cx="129.7" cy="457.8" r="1.7"/>
<circle cx="126.4" cy="458.6" r="1.7"/>
<circle cx="151.9" cy="437.7" r="1.7"/>
<circle cx="139.8" cy="444.5" r="1.7"/>
<circle cx="130.4" cy="445.8" r="1.7"/>
<circle cx="128.1" cy="458.4" r="1.7"/>
<circle cx="154.9" cy="442.5" r="1.7"/>
<circle cx="156.6" cy="455.5" r="1.7"/>
<circle cx="151.3" cy="448.8" r="1.7"/>
<circle cx="134.9" cy="452.2" r="1.7"/>
<circle cx="159.4" cy="447.5" r="1.7"/>
<circle cx="163.2" cy="459.4" r="1.7"/>
<circle cx="141.8" cy="439.1" r="1.7"/>
<circle cx="139.9" cy="452.9" r="1.7"/>
<circle cx="139.6" cy="449.6" r="1.7"/>
<circle cx="125.5" cy="447.3" r="1.7"/>
<circle cx="159.4" cy="453.2" r="1.7"/>
<circle cx="153.1" cy="448.8" r="1.7"/>
<circle cx="129.7" cy="443.7" r="1.7"/>
<circle cx="144.1" cy="457.6" r="1.7"/>
<circle cx="151.8" cy="444.9" r="1.7"/>
<circle cx="152.2" cy="447.0" r="1.7"/>
<circle cx="143.7" cy="440.5" r="1.7"/>
<circle cx="144.9" cy="451.1" r="1.7"/>
<circle cx="144.4" cy="437.8" r="1.7"/>
<circle cx="149.4" cy="452.0" r="1.7"/>
<circle cx="164.2" cy="452.8" r="1.7"/>
<circle cx="125.4" cy="459.1" r="1.7"/>
<circle cx="158.4" cy="452.1" r="1.7"/>
<circle cx="154.6" cy="459.5" r="1.7"/>
<circle cx="160.7" cy="452.3" r="1.7"/>
<circle cx="128.2" cy="452.2" r="1.7"/>
<circle cx="138.8" cy="452.0" r="1.7"/>
<circle cx="151.2" cy="454.4" r="1.7"/>
<circle cx="150.7" cy="446.5" r="1.7"/>
<circle cx="161.4" cy="458.6" r="1.7"/>
<circle cx="136.7" cy="452.4" r="1.7"/>
<circle cx="125.0" cy="452.6" r="1.7"/>
<circle cx="143.1" cy="440.3" r="1.7"/>
<circle cx="147.4" cy="439.4" r="1.7"/>
<circle cx="135.1" cy="444.1" r="1.7"/>
<circle cx="148.2" cy="437.4" r="1.7"/>
<circle cx="139.6" cy="451.1" r="1.7"/>
<circle cx="147.6" cy="441.5" r="1.7"/>
<circle cx="128.3" cy="444.6" r="1.7"/>
<circle cx="137.9" cy="448.6" r="1.7"/>
<circle cx="155.5" cy="452.3" r="1.7"/>
<circle cx="149.3" cy="451.8" r="1.7"/>
<circle cx="142.0" cy="448.7" r="1.7"/>
<circle cx="158.9" cy="442.0" r="1.7"/>
<circle cx="158.6" cy="447.8" r="1.7"/>
<circle cx="136.0" cy="459.0" r="1.7"/>
<circle cx="164.9" cy="450.9" r="1.7"/>
<circle cx="133.4" cy="443.0" r="1.7"/>
<circle cx="128.0" cy="440.7" r="1.7"/>
<circle cx="128.1" cy="452.4" r="1.7"/>
<circle cx="127.0" cy="441.7" r="1.7"/>
<circle cx="143.6" cy="455.3" r="1.7"/>
<circle cx="156.7" cy="445.1" r="1.7"/>
<circle cx="136.5" cy="441.6" r="1.7"/>
<circle cx="141.9" cy="447.7" r="1.7"/>
<circle cx="132.4" cy="450.9" r="1.7"/>
<circle cx="149.8" cy="449.7" r="1.7"/>
<circle cx="155.4" cy="456.0" r="1.7"/>
<circle cx="125.0" cy="443.9" r="1.7"/>
<circle cx="159.5" cy="446.9" r="1.7"/>
<circle cx="132.9" cy="438.0" r="1.7"/>
<circle cx="154.6" cy="449.4" r="1.7"/>
<circle cx="162.5" cy="447.9" r="1.7"/>
<circle cx="149.3" cy="442.4" r="1.7"/>
<circle cx="141.9" cy="447.1" r="1.7"/>
<circle cx="149.8" cy="448.1" r="1.7"/>
<circle cx="139.1" cy="456.7" r="1.7"/>
<circle cx="130.4" cy="444.4" r="1.7"/>
<circle cx="136.5" cy="450.1" r="1.7"/>
<circle cx="137.2" cy="441.0" r="1.7"/>
<circle cx="126.8" cy="455.4" r="1.7"/>
<circle cx="141.1" cy="441.2" r="1.7"/>
<circle cx="150.6" cy="454.2" r="1.7"/>
<circle cx="148.8" cy="450.8" r="1.7"/>
<circle cx="128.8" cy="455.7" r="1.7"/>
<circle cx="134.2" cy="441.1" r="1.7"/>
<circle cx="143.2" cy="447.2" r="1.7"/>
<circle cx="142.0" cy="445.2" r="1.7"/>
<circle cx="125.7" cy="456.5" r="1.7"/>
<circle cx="129.8" cy="454.2" r="1.7"/>
<circle cx="157.1" cy="445.0" r="1.7"/>
<circle cx="131.4" cy="440.5" r="1.7"/>
<circle cx="163.6" cy="448.9" r="1.7"/>
<circle cx="125.0" cy="440.3" r="1.7"/>
<circle cx="127.6" cy="446.3" r="1.7"/>
<circle cx="159.7" cy="439.4" r="1.7"/>
<circle cx="140.8" cy="451.8" r="1.7"/>
<circle cx="151.1" cy="458.1" r="1.7"/>
<circle cx="162.8" cy="443.5" r="1.7"/>
<circle cx="129.9" cy="457.6" r="1.7"/>
<circle cx="154.2" cy="438.7" r="1.7"/>
<circle cx="145.5" cy="441.0" r="1.7"/>
<circle cx="163.0" cy="438.7" r="1.7"/>
<circle cx="134.5" cy="439.8" r="1.7"/>
<circle cx="133.9" cy="457.3" r="1.7"/>
<circle cx="157.2" cy="452.6" r="1.7"/>
<circle cx="148.1" cy="451.2" r="1.7"/>
<circle cx="154.8" cy="454.7" r="1.7"/>
<circle cx="141.5" cy="456.8" r="1.7"/>
<circle cx="131.4" cy="437.8" r="1.7"/>
<circle cx="142.2" cy="454.3" r="1.7"/>
<circle cx="148.3" cy="448.8" r="1.7"/>
<circle cx="139.5" cy="438.3" r="1.7"/>
<circle cx="137.1" cy="450.4" r="1.7"/>
<circle cx="152.1" cy="438.0" r="1.7"/>
<circle cx="160.2" cy="438.6" r="1.7"/>
<circle cx="139.0" cy="443.7" r="1.7"/>
<circle cx="157.8" cy="459.7" r="1.7"/>
<circle cx="163.7" cy="446.2" r="1.7"/>
<circle cx="158.6" cy="444.9" r="1.7"/>
<circle cx="162.7" cy="444.2" r="1.7"/>
<circle cx="156.5" cy="454.6" r="1.7"/>
<circle cx="146.8" cy="453.0" r="1.7"/>
<circle cx="163.4" cy="451.8" r="1.7"/>
<circle cx="157.4" cy="457.3" r="1.7"/>
<circle cx="159.7" cy="440.4" r="1.7"/>
<circle cx="140.1" cy="439.2" r="1.7"/>
<circle cx="140.3" cy="437.6" r="1.7"/>
<circle cx="134.7" cy="458.1" r="1.7"/>
<circle cx="157.8" cy="454.7" r="1.7"/>
<circle cx="132.8" cy="439.6" r="1.7"/>
<circle cx="161.7" cy="445.6" r="1.7"/>
<circle cx="160.2" cy="442.5" r="1.7"/>
<circle cx="140.8" cy="459.4" r="1.7"/>
<circle cx="159.6" cy="441.2" r="1.7"/>
<circle cx="162.7" cy="449.3" r="1.7"/>
<circle cx="141.1" cy="440.8" r="1.7"/>
<circle cx="153.5" cy="439.9" r="1.7"/>
<circle cx="157.7" cy="441.2" r="1.7"/>
<circle cx="152.8" cy="448.5" r="1.7"/>
<circle cx="138.6" cy="446.3" r="1.7"/>
<circle cx="157.5" cy="443.1" r="1.7"/>
<circle cx="142.7" cy="459.5" r="1.7"/>
<circle cx="126.3" cy="445.4" r="1.7"/>
<circle cx="150.0" cy="441.9" r="1.7"/>
<circle cx="129.8" cy="450.9" r="1.7"/>
<circle cx="149.9" cy="452.9" r="1.7"/>
<circle cx="127.6" cy="456.5" r="1.7"/>
<circle cx="145.3" cy="437.8" r="1.7"/>
<circle cx="158.2" cy="442.6" r="1.7"/>
</g>
<g fill="#e8845a" fill-opacity="0.2">
<circle cx="158.8" cy="463.2" r="1.7"/>
<circle cx="156.6" cy="468.0" r="1.7"/>
<circle cx="143.8" cy="462.5" r="1.7"/>
<circle cx="134.9" cy="463.2" r="1.7"/>
<circle cx="158.0" cy="461.7" r="1.7"/>
<circle cx="132.3" cy="466.7" r="1.7"/>
<circle cx="131.6" cy="460.7" r="1.7"/>
<circle cx="162.8" cy="460.6" r="1.7"/>
<circle cx="133.4" cy="459.7" r="1.7"/>
<circle cx="162.0" cy="463.7" r="1.7"/>
<circle cx="149.8" cy="460.3" r="1.7"/>
<circle cx="164.0" cy="469.6" r="1.7"/>
<circle cx="152.9" cy="470.0" r="1.7"/>
<circle cx="140.6" cy="466.6" r="1.7"/>
<circle cx="134.8" cy="471.0" r="1.7"/>
<circle cx="139.2" cy="459.7" r="1.7"/>
<circle cx="129.0" cy="462.7" r="1.7"/>
<circle cx="142.0" cy="460.1" r="1.7"/>
<circle cx="142.8" cy="463.3" r="1.7"/>
<circle cx="129.0" cy="462.8" r="1.7"/>
<circle cx="132.0" cy="460.9" r="1.7"/>
<circle cx="156.2" cy="468.4" r="1.7"/>
<circle cx="144.4" cy="470.5" r="1.7"/>
<circle cx="159.2" cy="464.3" r="1.7"/>
<circle cx="164.9" cy="468.5" r="1.7"/>
</g>
<line x1="84.2" y1="433.2" x2="84.2" y2="413.4" stroke="#444" stroke-width="1.0"/>
<line x1="84.2" y1="446.3" x2="84.2" y2="457.9" stroke="#444" stroke-width="1.0"/>
<line x1="79.2" y1="413.4" x2="89.2" y2="413.4" stroke="#444" stroke-width="1.0"/>
<line x1="79.2" y1="457.9" x2="89.2" y2="457.9" stroke="#444" stroke-width="1.0"/>
<line x1="144.7" y1="451.6" x2="144.7" y2="443.5" stroke="#444" stroke-width="1.0"/>
<line x1="144.7" y1="457.9" x2="144.7" y2="464.3" stroke="#444" stroke-width="1.0"/>
<line x1="139.7" y1="443.5" x2="149.7" y2="443.5" stroke="#444" stroke-width="1.0"/>
<line x1="139.7" y1="464.3" x2="149.7" y2="464.3" stroke="#444" stroke-width="1.0"/>
<rect x="62.0" y="433.2" width="44.5" height="13.2" fill="#6cc49e" stroke="#5a6a62" stroke-width="0.8" fill-opacity="0.9"/>
<line x1="62.0" y1="440.4" x2="106.5" y2="440.4" stroke="#3a3a3a" stroke-width="1.0"/>
<rect x="122.5" y="451.6" width="44.3" height="6.4" fill="#e8855c" stroke="#3a3a3a" stroke-width="0.9" fill-opacity="0.95"/>
<line x1="122.5" y1="456.4" x2="166.8" y2="456.4" stroke="#3a3a3a" stroke-width="1.6"/>
<path d="M44.5,340.6 H184.2 V472.2 H44.5 Z" fill="none" stroke="#333" stroke-width="1.1"/>
<line x1="42.0" y1="472.2" x2="44.5" y2="472.2" stroke="#333" stroke-width="0.9"/>
<text x="32.7" y="474.6" font-size="9.3" text-anchor="middle" >0</text>
<line x1="42.0" y1="450.3" x2="44.5" y2="450.3" stroke="#333" stroke-width="0.9"/>
<text x="32.7" y="452.7" font-size="9.3" text-anchor="middle" >1</text>
<line x1="42.0" y1="428.3" x2="44.5" y2="428.3" stroke="#333" stroke-width="0.9"/>
<text x="32.7" y="430.7" font-size="9.3" text-anchor="middle" >2</text>
<line x1="42.0" y1="406.4" x2="44.5" y2="406.4" stroke="#333" stroke-width="0.9"/>
<text x="32.7" y="408.8" font-size="9.3" text-anchor="middle" >3</text>
<line x1="42.0" y1="384.5" x2="44.5" y2="384.5" stroke="#333" stroke-width="0.9"/>
<text x="32.7" y="386.9" font-size="9.3" text-anchor="middle" >4</text>
<line x1="42.0" y1="362.5" x2="44.5" y2="362.5" stroke="#333" stroke-width="0.9"/>
<text x="32.7" y="364.9" font-size="9.3" text-anchor="middle" >5</text>
<line x1="42.0" y1="340.6" x2="44.5" y2="340.6" stroke="#333" stroke-width="0.9"/>
<text x="32.7" y="343.0" font-size="9.3" text-anchor="middle" >6</text>
<line x1="84.3" y1="472.2" x2="84.3" y2="474.2" stroke="#333" stroke-width="0.8"/>
<line x1="144.5" y1="472.2" x2="144.5" y2="474.2" stroke="#333" stroke-width="0.8"/>
<path d="M84.3,412.9 V409.4 H144.8 V411.9" fill="none" stroke="#3a3a3a" stroke-width="1.2"/>
<polygon points="110.30,391.40 110.99,393.05 112.77,393.20 111.41,394.36 111.83,396.10 110.30,395.17 108.77,396.10 109.19,394.36 107.83,393.20 109.61,393.05" fill="#1a1a1a" stroke="#1a1a1a" stroke-width="0.5" stroke-linejoin="round"/>
<polygon points="115.30,391.40 115.99,393.05 117.77,393.20 116.41,394.36 116.83,396.10 115.30,395.17 113.77,396.10 114.19,394.36 112.83,393.20 114.61,393.05" fill="#1a1a1a" stroke="#1a1a1a" stroke-width="0.5" stroke-linejoin="round"/>
<polygon points="120.30,391.40 120.99,393.05 122.77,393.20 121.41,394.36 121.83,396.10 120.30,395.17 118.77,396.10 119.19,394.36 117.83,393.20 119.61,393.05" fill="#1a1a1a" stroke="#1a1a1a" stroke-width="0.5" stroke-linejoin="round"/>
<text x="91.8" y="352.9" font-size="9.3" text-anchor="start" >0.2° (N=594)</text>
<text transform="translate(4.8,417.1) rotate(-90)" font-size="9.3" text-anchor="middle" dominant-baseline="central">Diff. in AGC rate</text>
<text transform="translate(16.0,417.1) rotate(-90)" font-size="9.3" text-anchor="middle" dominant-baseline="central">(PYF-NYF) (Tg C yr<tspan font-size="5.8" dy="-2.5">-1</tspan><tspan dy="2.5">)</tspan></text>
<text x="88.4" y="488.3" font-size="9.3" text-anchor="middle" >NYF</text>
<text x="155.0" y="488.3" font-size="9.3" text-anchor="middle" >PYF</text>
<rect x="260.7" y="24.1" width="287.6" height="7.8" fill="#e2f7a2" stroke="none" stroke-width="1" />
<line x1="540.0" y1="28.0" x2="557.0" y2="28.0" stroke="#333" stroke-width="1.0"/>
<line x1="540.0" y1="26.2" x2="540.0" y2="29.8" stroke="#333" stroke-width="1.1"/>
<line x1="557.0" y1="26.2" x2="557.0" y2="29.8" stroke="#333" stroke-width="1.1"/>
<text x="252.8" y="31.2" font-size="9.25" text-anchor="end" >Structure</text>
<rect x="260.7" y="45.0" width="267.3" height="7.8" fill="#e86a45" stroke="none" stroke-width="1" />
<line x1="520.6" y1="48.9" x2="535.0" y2="48.9" stroke="#333" stroke-width="1.0"/>
<line x1="520.6" y1="47.1" x2="520.6" y2="50.7" stroke="#333" stroke-width="1.1"/>
<line x1="535.0" y1="47.1" x2="535.0" y2="50.7" stroke="#333" stroke-width="1.1"/>
<text x="252.8" y="52.1" font-size="9.25" text-anchor="end" >Precipitation</text>
<rect x="260.7" y="65.5" width="245.0" height="7.8" fill="#4c63b0" stroke="none" stroke-width="1" />
<line x1="501.0" y1="69.4" x2="511.6" y2="69.4" stroke="#333" stroke-width="1.0"/>
<line x1="501.0" y1="67.6" x2="501.0" y2="71.2" stroke="#333" stroke-width="1.1"/>
<line x1="511.6" y1="67.6" x2="511.6" y2="71.2" stroke="#333" stroke-width="1.1"/>
<text x="252.8" y="72.6" font-size="9.25" text-anchor="end" >Topography</text>
<rect x="260.7" y="86.4" width="242.2" height="7.8" fill="#8ed6a6" stroke="none" stroke-width="1" />
<line x1="497.8" y1="90.3" x2="508.8" y2="90.3" stroke="#333" stroke-width="1.0"/>
<line x1="497.8" y1="88.5" x2="497.8" y2="92.1" stroke="#333" stroke-width="1.1"/>
<line x1="508.8" y1="88.5" x2="508.8" y2="92.1" stroke="#333" stroke-width="1.1"/>
<text x="252.8" y="93.5" font-size="9.25" text-anchor="end" >Temperature</text>
<rect x="260.7" y="106.9" width="180.3" height="7.8" fill="#f0d98a" stroke="none" stroke-width="1" />
<line x1="436.7" y1="110.8" x2="445.7" y2="110.8" stroke="#333" stroke-width="1.0"/>
<line x1="436.7" y1="109.0" x2="436.7" y2="112.6" stroke="#333" stroke-width="1.1"/>
<line x1="445.7" y1="109.0" x2="445.7" y2="112.6" stroke="#333" stroke-width="1.1"/>
<text x="252.8" y="114.0" font-size="9.25" text-anchor="end" >Soil</text>
<rect x="260.7" y="127.4" width="169.8" height="7.8" fill="#a8184b" stroke="none" stroke-width="1" />
<line x1="424.9" y1="131.3" x2="434.7" y2="131.3" stroke="#333" stroke-width="1.0"/>
<line x1="424.9" y1="129.5" x2="424.9" y2="133.1" stroke="#333" stroke-width="1.1"/>
<line x1="434.7" y1="129.5" x2="434.7" y2="133.1" stroke="#333" stroke-width="1.1"/>
<text x="252.8" y="134.5" font-size="9.25" text-anchor="end" >Human</text>
<path d="M260.7,17.3 H678.3 V141.9 H260.7 Z" fill="none" stroke="#222" stroke-width="1"/>
<line x1="260.7" y1="141.9" x2="260.7" y2="144.4" stroke="#222" stroke-width="0.8"/>
<text x="260.7" y="156.0" font-size="9.0" text-anchor="middle" >0</text>
<line x1="399.9" y1="141.9" x2="399.9" y2="144.4" stroke="#222" stroke-width="0.8"/>
<text x="399.9" y="156.0" font-size="9.0" text-anchor="middle" >0.1</text>
<line x1="539.1" y1="141.9" x2="539.1" y2="144.4" stroke="#222" stroke-width="0.8"/>
<text x="539.1" y="156.0" font-size="9.0" text-anchor="middle" >0.2</text>
<line x1="678.3" y1="141.9" x2="678.3" y2="144.4" stroke="#222" stroke-width="0.8"/>
<text x="678.3" y="156.0" font-size="9.0" text-anchor="middle" >0.3</text>
<text x="466.2" y="161.0" font-size="9.2" text-anchor="middle" >Relative importance</text>
<g fill="#e2f5a4">
<circle cx="347.3" cy="243.5" r="3.3"/>
<circle cx="315.0" cy="238.6" r="3.3"/>
<circle cx="300.8" cy="240.7" r="3.3"/>
<circle cx="340.1" cy="252.3" r="3.3"/>
<circle cx="310.4" cy="248.3" r="3.3"/>
<circle cx="321.0" cy="236.2" r="3.3"/>
<circle cx="282.0" cy="241.8" r="3.3"/>
<circle cx="349.2" cy="248.4" r="3.3"/>
<circle cx="351.6" cy="248.8" r="3.3"/>
<circle cx="354.3" cy="240.6" r="3.3"/>
<circle cx="277.4" cy="237.1" r="3.3"/>
<circle cx="305.9" cy="240.2" r="3.3"/>
<circle cx="375.0" cy="253.9" r="3.3"/>
<circle cx="378.7" cy="253.4" r="3.3"/>
<circle cx="337.8" cy="249.5" r="3.3"/>
<circle cx="271.5" cy="240.6" r="3.3"/>
<circle cx="340.4" cy="241.4" r="3.3"/>
<circle cx="313.4" cy="242.7" r="3.3"/>
<circle cx="382.2" cy="246.1" r="3.3"/>
<circle cx="335.7" cy="240.7" r="3.3"/>
<circle cx="326.4" cy="252.7" r="3.3"/>
<circle cx="371.3" cy="238.4" r="3.3"/>
<circle cx="304.1" cy="245.5" r="3.3"/>
<circle cx="283.0" cy="238.1" r="3.3"/>
<circle cx="271.3" cy="238.3" r="3.3"/>
<circle cx="370.6" cy="251.0" r="3.3"/>
<circle cx="355.7" cy="252.7" r="3.3"/>
<circle cx="300.0" cy="251.8" r="3.3"/>
<circle cx="339.6" cy="249.7" r="3.3"/>
<circle cx="297.7" cy="241.6" r="3.3"/>
<circle cx="373.1" cy="241.7" r="3.3"/>
<circle cx="385.3" cy="249.7" r="3.3"/>
<circle cx="284.2" cy="251.4" r="3.3"/>
<circle cx="344.9" cy="250.4" r="3.3"/>
<circle cx="272.4" cy="238.7" r="3.3"/>
<circle cx="293.6" cy="236.6" r="3.3"/>
<circle cx="297.2" cy="248.7" r="3.3"/>
<circle cx="318.4" cy="253.9" r="3.3"/>
<circle cx="377.3" cy="236.7" r="3.3"/>
<circle cx="308.8" cy="248.8" r="3.3"/>
<circle cx="324.2" cy="244.9" r="3.3"/>
<circle cx="367.5" cy="251.6" r="3.3"/>
<circle cx="280.8" cy="237.7" r="3.3"/>
<circle cx="370.2" cy="239.3" r="3.3"/>
<circle cx="286.2" cy="245.2" r="3.3"/>
<circle cx="298.7" cy="252.0" r="3.3"/>
<circle cx="336.3" cy="246.5" r="3.3"/>
<circle cx="382.6" cy="245.5" r="3.3"/>
<circle cx="334.5" cy="243.5" r="3.3"/>
<circle cx="275.2" cy="249.8" r="3.3"/>
<circle cx="347.2" cy="252.0" r="3.3"/>
<circle cx="269.1" cy="248.3" r="3.3"/>
<circle cx="347.7" cy="243.1" r="3.3"/>
<circle cx="336.8" cy="253.1" r="3.3"/>
<circle cx="366.4" cy="238.8" r="3.3"/>
<circle cx="275.7" cy="251.0" r="3.3"/>
<circle cx="345.1" cy="244.2" r="3.3"/>
<circle cx="380.6" cy="246.7" r="3.3"/>
<circle cx="266.7" cy="253.5" r="3.3"/>
<circle cx="344.7" cy="253.1" r="3.3"/>
<circle cx="305.0" cy="249.2" r="3.3"/>
<circle cx="354.1" cy="253.2" r="3.3"/>
<circle cx="334.3" cy="239.8" r="3.3"/>
<circle cx="271.8" cy="247.6" r="3.3"/>
<circle cx="304.8" cy="237.0" r="3.3"/>
<circle cx="274.5" cy="253.1" r="3.3"/>
<circle cx="311.8" cy="243.2" r="3.3"/>
<circle cx="287.4" cy="253.4" r="3.3"/>
<circle cx="369.9" cy="237.6" r="3.3"/>
<circle cx="368.3" cy="238.9" r="3.3"/>
<circle cx="359.5" cy="241.1" r="3.3"/>
<circle cx="356.3" cy="247.8" r="3.3"/>
<circle cx="280.5" cy="244.8" r="3.3"/>
<circle cx="317.9" cy="250.5" r="3.3"/>
<circle cx="303.2" cy="248.3" r="3.3"/>
<circle cx="281.8" cy="248.0" r="3.3"/>
<circle cx="365.8" cy="245.2" r="3.3"/>
<circle cx="324.8" cy="251.9" r="3.3"/>
<circle cx="323.2" cy="246.1" r="3.3"/>
<circle cx="316.8" cy="249.6" r="3.3"/>
<circle cx="363.3" cy="247.0" r="3.3"/>
<circle cx="318.1" cy="243.7" r="3.3"/>
<circle cx="270.9" cy="242.2" r="3.3"/>
<circle cx="321.6" cy="240.0" r="3.3"/>
<circle cx="348.3" cy="238.8" r="3.3"/>
<circle cx="325.4" cy="247.3" r="3.3"/>
<circle cx="329.0" cy="241.2" r="3.3"/>
<circle cx="318.5" cy="252.3" r="3.3"/>
<circle cx="323.3" cy="238.7" r="3.3"/>
<circle cx="281.3" cy="252.3" r="3.3"/>
<circle cx="367.0" cy="245.4" r="3.3"/>
<circle cx="301.5" cy="236.9" r="3.3"/>
<circle cx="275.2" cy="236.8" r="3.3"/>
<circle cx="278.9" cy="243.6" r="3.3"/>
<circle cx="277.3" cy="247.9" r="3.3"/>
<circle cx="334.2" cy="240.6" r="3.3"/>
<circle cx="296.6" cy="237.5" r="3.3"/>
<circle cx="326.4" cy="238.1" r="3.3"/>
<circle cx="345.4" cy="239.2" r="3.3"/>
<circle cx="287.9" cy="243.1" r="3.3"/>
<circle cx="276.0" cy="251.8" r="3.3"/>
<circle cx="301.7" cy="246.6" r="3.3"/>
<circle cx="320.6" cy="248.1" r="3.3"/>
<circle cx="340.9" cy="240.8" r="3.3"/>
<circle cx="382.0" cy="251.7" r="3.3"/>
<circle cx="288.5" cy="239.3" r="3.3"/>
<circle cx="355.6" cy="246.9" r="3.3"/>
<circle cx="370.6" cy="237.9" r="3.3"/>
<circle cx="330.1" cy="236.1" r="3.3"/>
<circle cx="280.0" cy="239.1" r="3.3"/>
<circle cx="323.3" cy="248.5" r="3.3"/>
<circle cx="370.3" cy="253.4" r="3.3"/>
<circle cx="338.2" cy="244.8" r="3.3"/>
<circle cx="340.2" cy="253.5" r="3.3"/>
<circle cx="309.3" cy="248.1" r="3.3"/>
<circle cx="348.8" cy="243.1" r="3.3"/>
<circle cx="302.3" cy="238.3" r="3.3"/>
<circle cx="267.7" cy="238.0" r="3.3"/>
<circle cx="267.9" cy="253.5" r="3.3"/>
<circle cx="369.1" cy="239.8" r="3.3"/>
<circle cx="343.8" cy="247.7" r="3.3"/>
<circle cx="318.3" cy="247.3" r="3.3"/>
<circle cx="360.8" cy="239.4" r="3.3"/>
<circle cx="302.1" cy="244.3" r="3.3"/>
<circle cx="322.9" cy="236.4" r="3.3"/>
<circle cx="285.9" cy="238.7" r="3.3"/>
<circle cx="350.3" cy="253.3" r="3.3"/>
<circle cx="322.6" cy="251.5" r="3.3"/>
<circle cx="336.2" cy="239.6" r="3.3"/>
<circle cx="334.3" cy="251.0" r="3.3"/>
<circle cx="272.1" cy="236.1" r="3.3"/>
<circle cx="341.6" cy="248.8" r="3.3"/>
<circle cx="383.5" cy="251.3" r="3.3"/>
<circle cx="354.4" cy="246.7" r="3.3"/>
<circle cx="332.5" cy="241.2" r="3.3"/>
<circle cx="324.5" cy="244.7" r="3.3"/>
<circle cx="336.9" cy="247.0" r="3.3"/>
<circle cx="347.4" cy="250.7" r="3.3"/>
<circle cx="324.5" cy="248.9" r="3.3"/>
<circle cx="329.4" cy="243.6" r="3.3"/>
<circle cx="303.9" cy="237.1" r="3.3"/>
<circle cx="373.1" cy="243.5" r="3.3"/>
<circle cx="322.8" cy="244.9" r="3.3"/>
<circle cx="378.7" cy="242.2" r="3.3"/>
<circle cx="349.7" cy="236.4" r="3.3"/>
<circle cx="300.6" cy="239.5" r="3.3"/>
<circle cx="307.3" cy="240.2" r="3.3"/>
<circle cx="292.4" cy="252.4" r="3.3"/>
<circle cx="306.7" cy="246.8" r="3.3"/>
<circle cx="367.1" cy="247.8" r="3.3"/>
<circle cx="281.7" cy="241.3" r="3.3"/>
<circle cx="351.4" cy="253.3" r="3.3"/>
<circle cx="366.0" cy="248.1" r="3.3"/>
<circle cx="354.2" cy="250.3" r="3.3"/>
<circle cx="362.0" cy="251.2" r="3.3"/>
<circle cx="340.6" cy="241.1" r="3.3"/>
<circle cx="355.9" cy="248.0" r="3.3"/>
<circle cx="281.5" cy="239.6" r="3.3"/>
<circle cx="338.7" cy="237.8" r="3.3"/>
<circle cx="315.9" cy="253.9" r="3.3"/>
<circle cx="302.4" cy="239.8" r="3.3"/>
<circle cx="271.6" cy="236.3" r="3.3"/>
<circle cx="371.7" cy="242.4" r="3.3"/>
<circle cx="285.0" cy="250.9" r="3.3"/>
<circle cx="373.3" cy="236.6" r="3.3"/>
<circle cx="273.6" cy="243.8" r="3.3"/>
<circle cx="340.1" cy="238.2" r="3.3"/>
<circle cx="292.9" cy="240.6" r="3.3"/>
<circle cx="306.8" cy="242.4" r="3.3"/>
<circle cx="271.6" cy="251.8" r="3.3"/>
<circle cx="298.1" cy="238.7" r="3.3"/>
<circle cx="348.8" cy="245.3" r="3.3"/>
<circle cx="346.3" cy="248.7" r="3.3"/>
<circle cx="377.2" cy="243.9" r="3.3"/>
<circle cx="320.9" cy="251.1" r="3.3"/>
<circle cx="279.3" cy="237.9" r="3.3"/>
<circle cx="339.3" cy="250.1" r="3.3"/>
<circle cx="379.7" cy="250.8" r="3.3"/>
<circle cx="271.0" cy="237.9" r="3.3"/>
<circle cx="341.6" cy="251.7" r="3.3"/>
<circle cx="375.3" cy="238.8" r="3.3"/>
<circle cx="301.1" cy="243.9" r="3.3"/>
<circle cx="326.7" cy="249.2" r="3.3"/>
<circle cx="277.9" cy="247.6" r="3.3"/>
<circle cx="306.2" cy="238.5" r="3.3"/>
<circle cx="367.8" cy="243.9" r="3.3"/>
<circle cx="315.9" cy="249.8" r="3.3"/>
<circle cx="295.4" cy="250.6" r="3.3"/>
<circle cx="307.0" cy="245.1" r="3.3"/>
<circle cx="276.2" cy="242.7" r="3.3"/>
<circle cx="356.6" cy="242.5" r="3.3"/>
<circle cx="345.8" cy="238.7" r="3.3"/>
<circle cx="356.4" cy="243.6" r="3.3"/>
<circle cx="293.4" cy="250.4" r="3.3"/>
<circle cx="315.6" cy="243.4" r="3.3"/>
<circle cx="321.1" cy="251.3" r="3.3"/>
<circle cx="361.4" cy="242.5" r="3.3"/>
<circle cx="269.6" cy="238.6" r="3.3"/>
<circle cx="267.2" cy="250.5" r="3.3"/>
<circle cx="379.2" cy="237.5" r="3.3"/>
<circle cx="319.7" cy="273.8" r="3.3"/>
<circle cx="337.3" cy="264.8" r="3.3"/>
<circle cx="334.6" cy="251.5" r="3.3"/>
<circle cx="312.6" cy="252.4" r="3.3"/>
<circle cx="358.3" cy="265.7" r="3.3"/>
<circle cx="326.7" cy="251.7" r="3.3"/>
<circle cx="314.7" cy="261.1" r="3.3"/>
<circle cx="310.1" cy="268.2" r="3.3"/>
<circle cx="315.3" cy="259.6" r="3.3"/>
<circle cx="331.5" cy="249.6" r="3.3"/>
<circle cx="351.0" cy="262.3" r="3.3"/>
<circle cx="300.9" cy="259.8" r="3.3"/>
<circle cx="326.0" cy="253.7" r="3.3"/>
<circle cx="340.0" cy="271.2" r="3.3"/>
<circle cx="339.6" cy="251.8" r="3.3"/>
<circle cx="322.6" cy="250.4" r="3.3"/>
<circle cx="337.3" cy="253.9" r="3.3"/>
<circle cx="339.1" cy="268.8" r="3.3"/>
<circle cx="352.1" cy="263.7" r="3.3"/>
<circle cx="328.4" cy="251.0" r="3.3"/>
<circle cx="356.8" cy="271.2" r="3.3"/>
<circle cx="330.8" cy="265.9" r="3.3"/>
<circle cx="309.7" cy="259.0" r="3.3"/>
<circle cx="333.6" cy="256.8" r="3.3"/>
<circle cx="362.9" cy="264.0" r="3.3"/>
<circle cx="319.0" cy="258.5" r="3.3"/>
<circle cx="337.4" cy="251.0" r="3.3"/>
<circle cx="344.3" cy="261.6" r="3.3"/>
<circle cx="352.3" cy="264.9" r="3.3"/>
<circle cx="318.9" cy="256.5" r="3.3"/>
<circle cx="359.2" cy="265.1" r="3.3"/>
<circle cx="346.1" cy="267.0" r="3.3"/>
<circle cx="331.1" cy="253.3" r="3.3"/>
<circle cx="363.3" cy="260.8" r="3.3"/>
<circle cx="358.5" cy="261.3" r="3.3"/>
<circle cx="354.2" cy="255.7" r="3.3"/>
<circle cx="307.3" cy="259.9" r="3.3"/>
<circle cx="322.3" cy="267.6" r="3.3"/>
<circle cx="339.2" cy="251.3" r="3.3"/>
<circle cx="319.5" cy="252.3" r="3.3"/>
<circle cx="316.2" cy="261.2" r="3.3"/>
<circle cx="320.8" cy="270.8" r="3.3"/>
<circle cx="342.0" cy="255.0" r="3.3"/>
<circle cx="356.4" cy="268.3" r="3.3"/>
<circle cx="337.6" cy="258.7" r="3.3"/>
<circle cx="362.6" cy="266.7" r="3.3"/>
<circle cx="310.5" cy="263.3" r="3.3"/>
<circle cx="316.2" cy="268.9" r="3.3"/>
<circle cx="312.2" cy="257.1" r="3.3"/>
<circle cx="319.2" cy="266.1" r="3.3"/>
<circle cx="310.9" cy="262.1" r="3.3"/>
<circle cx="302.5" cy="266.6" r="3.3"/>
<circle cx="299.5" cy="262.8" r="3.3"/>
<circle cx="338.8" cy="257.6" r="3.3"/>
<circle cx="353.0" cy="269.9" r="3.3"/>
<circle cx="352.6" cy="269.9" r="3.3"/>
<circle cx="340.6" cy="258.6" r="3.3"/>
<circle cx="338.4" cy="270.7" r="3.3"/>
<circle cx="332.3" cy="249.4" r="3.3"/>
<circle cx="310.4" cy="271.3" r="3.3"/>
<circle cx="315.5" cy="257.0" r="3.3"/>
<circle cx="351.6" cy="268.8" r="3.3"/>
<circle cx="345.9" cy="263.3" r="3.3"/>
<circle cx="309.6" cy="271.4" r="3.3"/>
<circle cx="325.2" cy="270.6" r="3.3"/>
<circle cx="336.3" cy="257.3" r="3.3"/>
<circle cx="326.7" cy="260.5" r="3.3"/>
<circle cx="358.2" cy="254.4" r="3.3"/>
<circle cx="339.6" cy="273.5" r="3.3"/>
<circle cx="321.1" cy="262.3" r="3.3"/>
<circle cx="314.6" cy="271.9" r="3.3"/>
<circle cx="310.6" cy="266.9" r="3.3"/>
<circle cx="303.5" cy="257.0" r="3.3"/>
<circle cx="337.6" cy="253.2" r="3.3"/>
<circle cx="328.0" cy="252.1" r="3.3"/>
<circle cx="334.8" cy="252.8" r="3.3"/>
<circle cx="310.9" cy="264.1" r="3.3"/>
<circle cx="303.0" cy="265.8" r="3.3"/>
<circle cx="319.2" cy="272.4" r="3.3"/>
<circle cx="321.9" cy="254.9" r="3.3"/>
<circle cx="335.3" cy="270.1" r="3.3"/>
<circle cx="300.8" cy="258.8" r="3.3"/>
<circle cx="355.5" cy="254.9" r="3.3"/>
<circle cx="313.8" cy="252.4" r="3.3"/>
<circle cx="326.2" cy="252.5" r="3.3"/>
<circle cx="341.2" cy="251.5" r="3.3"/>
<circle cx="321.9" cy="260.3" r="3.3"/>
<circle cx="319.1" cy="259.9" r="3.3"/>
<circle cx="314.0" cy="255.3" r="3.3"/>
<circle cx="357.3" cy="265.2" r="3.3"/>
<circle cx="341.7" cy="270.3" r="3.3"/>
<circle cx="342.4" cy="259.3" r="3.3"/>
<circle cx="346.3" cy="259.8" r="3.3"/>
<circle cx="362.9" cy="263.4" r="3.3"/>
<circle cx="333.8" cy="272.9" r="3.3"/>
<circle cx="350.2" cy="256.4" r="3.3"/>
<circle cx="342.3" cy="252.5" r="3.3"/>
<circle cx="327.1" cy="263.6" r="3.3"/>
<circle cx="336.4" cy="260.5" r="3.3"/>
<circle cx="312.8" cy="265.2" r="3.3"/>
<circle cx="352.4" cy="261.7" r="3.3"/>
<circle cx="319.9" cy="257.4" r="3.3"/>
<circle cx="311.4" cy="258.5" r="3.3"/>
<circle cx="313.8" cy="260.4" r="3.3"/>
<circle cx="310.8" cy="261.4" r="3.3"/>
<circle cx="328.0" cy="258.6" r="3.3"/>
<circle cx="339.2" cy="261.8" r="3.3"/>
<circle cx="307.5" cy="256.2" r="3.3"/>
<circle cx="327.1" cy="261.7" r="3.3"/>
<circle cx="328.3" cy="261.8" r="3.3"/>
<circle cx="326.3" cy="272.4" r="3.3"/>
<circle cx="312.5" cy="259.3" r="3.3"/>
<circle cx="346.6" cy="267.3" r="3.3"/>
<circle cx="332.6" cy="270.8" r="3.3"/>
<circle cx="326.8" cy="257.4" r="3.3"/>
<circle cx="309.3" cy="264.8" r="3.3"/>
<circle cx="328.0" cy="265.2" r="3.3"/>
<circle cx="328.0" cy="259.9" r="3.3"/>
<circle cx="353.9" cy="260.7" r="3.3"/>
<circle cx="358.0" cy="269.2" r="3.3"/>
<circle cx="319.3" cy="266.6" r="3.3"/>
<circle cx="348.4" cy="261.4" r="3.3"/>
<circle cx="328.0" cy="256.8" r="3.3"/>
<circle cx="340.3" cy="259.3" r="3.3"/>
<circle cx="358.3" cy="262.8" r="3.3"/>
<circle cx="359.2" cy="271.4" r="3.3"/>
<circle cx="335.0" cy="263.9" r="3.3"/>
<circle cx="355.2" cy="264.5" r="3.3"/>
<circle cx="306.1" cy="264.8" r="3.3"/>
<circle cx="350.8" cy="261.1" r="3.3"/>
<circle cx="358.5" cy="255.0" r="3.3"/>
<circle cx="356.4" cy="265.1" r="3.3"/>
<circle cx="338.3" cy="272.6" r="3.3"/>
<circle cx="326.5" cy="262.4" r="3.3"/>
<circle cx="340.1" cy="267.3" r="3.3"/>
<circle cx="333.6" cy="256.0" r="3.3"/>
<circle cx="345.9" cy="266.8" r="3.3"/>
<circle cx="322.2" cy="263.3" r="3.3"/>
<circle cx="312.6" cy="257.9" r="3.3"/>
<circle cx="336.0" cy="260.9" r="3.3"/>
<circle cx="359.0" cy="257.3" r="3.3"/>
<circle cx="382.1" cy="253.8" r="3.3"/>
<circle cx="370.0" cy="254.1" r="3.3"/>
<circle cx="351.5" cy="259.0" r="3.3"/>
<circle cx="359.9" cy="253.0" r="3.3"/>
<circle cx="383.3" cy="254.1" r="3.3"/>
<circle cx="360.2" cy="257.2" r="3.3"/>
<circle cx="340.7" cy="258.3" r="3.3"/>
<circle cx="368.4" cy="250.0" r="3.3"/>
<circle cx="361.0" cy="260.8" r="3.3"/>
<circle cx="369.6" cy="255.0" r="3.3"/>
<circle cx="379.4" cy="258.4" r="3.3"/>
<circle cx="373.5" cy="256.5" r="3.3"/>
<circle cx="374.6" cy="257.8" r="3.3"/>
<circle cx="343.4" cy="250.4" r="3.3"/>
<circle cx="376.6" cy="258.1" r="3.3"/>
<circle cx="369.6" cy="254.2" r="3.3"/>
<circle cx="375.8" cy="259.9" r="3.3"/>
<circle cx="355.8" cy="252.1" r="3.3"/>
<circle cx="373.8" cy="258.4" r="3.3"/>
<circle cx="267.0" cy="225.2" r="3.3"/>
<circle cx="290.2" cy="224.0" r="3.3"/>
<circle cx="306.5" cy="226.7" r="3.3"/>
<circle cx="315.6" cy="221.4" r="3.3"/>
<circle cx="321.3" cy="225.7" r="3.3"/>
<circle cx="325.5" cy="225.7" r="3.3"/>
<circle cx="324.5" cy="217.2" r="3.3"/>
<circle cx="330.6" cy="203.0" r="3.3"/>
<circle cx="335.3" cy="217.2" r="3.3"/>
<circle cx="340.6" cy="226.4" r="3.3"/>
<circle cx="356.0" cy="224.2" r="3.3"/>
<circle cx="374.7" cy="224.7" r="3.3"/>
<circle cx="380.4" cy="226.8" r="3.3"/>
<circle cx="370.8" cy="231.0" r="3.3"/>
<circle cx="339.0" cy="234.2" r="3.3"/>
<circle cx="368.7" cy="237.4" r="3.3"/>
<circle cx="379.3" cy="239.0" r="3.3"/>
<circle cx="387.8" cy="238.4" r="3.3"/>
<circle cx="263.2" cy="240.5" r="3.3"/>
<circle cx="263.2" cy="251.0" r="3.3"/>
<circle cx="267.4" cy="257.4" r="3.3"/>
<circle cx="269.5" cy="266.9" r="3.3"/>
<circle cx="275.9" cy="266.9" r="3.3"/>
<circle cx="301.2" cy="273.2" r="3.3"/>
<circle cx="324.5" cy="288.0" r="3.3"/>
<circle cx="267.0" cy="291.8" r="3.3"/>
<circle cx="326.4" cy="288.2" r="3.3"/>
<circle cx="339.0" cy="288.2" r="3.3"/>
<circle cx="338.0" cy="292.5" r="3.3"/>
<circle cx="341.2" cy="280.8" r="3.3"/>
<circle cx="373.0" cy="284.0" r="3.3"/>
<circle cx="379.3" cy="278.7" r="3.3"/>
<circle cx="371.9" cy="268.0" r="3.3"/>
<circle cx="381.4" cy="265.0" r="3.3"/>
<circle cx="356.0" cy="271.3" r="3.3"/>
</g>
<line x1="263.0" y1="251.8" x2="389.0" y2="254.8" stroke="#1a1a1a" stroke-width="1.2"/>
<path d="M261.6,185.4 H389.5 V301.5 H261.6 Z" fill="none" stroke="#1a1a1a" stroke-width="1.3"/>
<line x1="263.5" y1="301.5" x2="263.5" y2="305.0" stroke="#1a1a1a" stroke-width="1.2"/>
<line x1="385.3" y1="301.5" x2="385.3" y2="305.0" stroke="#1a1a1a" stroke-width="1.2"/>
<text x="269.9" y="314.7" font-size="9.3" text-anchor="middle" >-5000</text>
<text x="387.3" y="314.7" font-size="9.3" text-anchor="middle" >5000</text>
<text x="327.5" y="332.9" font-size="9.3" text-anchor="middle" >Diff.in TRNU</text>
<text x="300.8" y="196.6" font-size="9.3"><tspan font-style="italic">P</tspan>&lt;0.001</text>
<line x1="256.6" y1="193.2" x2="261.6" y2="193.2" stroke="#1a1a1a" stroke-width="1.2"/>
<line x1="256.6" y1="298.7" x2="261.6" y2="298.7" stroke="#1a1a1a" stroke-width="1.2"/>
<text x="252.6" y="196.5" font-size="9.3" text-anchor="end" >3</text>
<text x="252.6" y="302.0" font-size="9.3" text-anchor="end" >-3</text>
<text transform="translate(224.9,245.3) rotate(-90)" font-size="9.5" text-anchor="middle" dominant-baseline="central">Diff. in AGC rate</text>
<text transform="translate(234.9,245.3) rotate(-90)" font-size="9.5" text-anchor="middle" dominant-baseline="central">(PYF-NYF) (Tg C yr<tspan font-size="5.8" dy="-2.5">-1</tspan><tspan dy="2.5">)</tspan></text>
<g fill="#8dd5a6">
<circle cx="452.3" cy="251.5" r="3.3"/>
<circle cx="485.7" cy="251.0" r="3.3"/>
<circle cx="460.0" cy="239.5" r="3.3"/>
<circle cx="462.1" cy="263.9" r="3.3"/>
<circle cx="464.9" cy="241.4" r="3.3"/>
<circle cx="474.1" cy="247.2" r="3.3"/>
<circle cx="477.8" cy="245.3" r="3.3"/>
<circle cx="469.8" cy="248.8" r="3.3"/>
<circle cx="462.1" cy="263.4" r="3.3"/>
<circle cx="477.5" cy="244.6" r="3.3"/>
<circle cx="459.1" cy="261.2" r="3.3"/>
<circle cx="466.3" cy="262.5" r="3.3"/>
<circle cx="472.5" cy="252.3" r="3.3"/>
<circle cx="471.9" cy="256.8" r="3.3"/>
<circle cx="472.4" cy="257.4" r="3.3"/>
<circle cx="472.3" cy="240.8" r="3.3"/>
<circle cx="456.6" cy="240.8" r="3.3"/>
<circle cx="461.3" cy="254.4" r="3.3"/>
<circle cx="460.2" cy="253.1" r="3.3"/>
<circle cx="480.2" cy="244.2" r="3.3"/>
<circle cx="476.4" cy="265.8" r="3.3"/>
<circle cx="476.9" cy="253.4" r="3.3"/>
<circle cx="461.1" cy="254.1" r="3.3"/>
<circle cx="468.3" cy="264.3" r="3.3"/>
<circle cx="475.1" cy="264.5" r="3.3"/>
<circle cx="453.9" cy="264.3" r="3.3"/>
<circle cx="467.6" cy="265.9" r="3.3"/>
<circle cx="461.9" cy="257.4" r="3.3"/>
<circle cx="468.8" cy="248.8" r="3.3"/>
<circle cx="479.3" cy="262.9" r="3.3"/>
<circle cx="460.1" cy="246.5" r="3.3"/>
<circle cx="467.1" cy="251.1" r="3.3"/>
<circle cx="452.2" cy="244.3" r="3.3"/>
<circle cx="454.9" cy="254.4" r="3.3"/>
<circle cx="452.9" cy="258.9" r="3.3"/>
<circle cx="487.2" cy="250.4" r="3.3"/>
<circle cx="454.7" cy="245.7" r="3.3"/>
<circle cx="457.9" cy="247.4" r="3.3"/>
<circle cx="474.5" cy="241.6" r="3.3"/>
<circle cx="469.3" cy="260.8" r="3.3"/>
<circle cx="473.3" cy="255.9" r="3.3"/>
<circle cx="464.0" cy="245.8" r="3.3"/>
<circle cx="455.9" cy="245.4" r="3.3"/>
<circle cx="464.3" cy="240.5" r="3.3"/>
<circle cx="464.0" cy="260.4" r="3.3"/>
<circle cx="486.0" cy="259.9" r="3.3"/>
<circle cx="474.3" cy="259.6" r="3.3"/>
<circle cx="474.5" cy="254.6" r="3.3"/>
<circle cx="455.1" cy="240.6" r="3.3"/>
<circle cx="453.2" cy="247.5" r="3.3"/>
<circle cx="482.5" cy="240.8" r="3.3"/>
<circle cx="456.6" cy="263.8" r="3.3"/>
<circle cx="467.9" cy="247.1" r="3.3"/>
<circle cx="474.5" cy="240.8" r="3.3"/>
<circle cx="476.4" cy="254.1" r="3.3"/>
<circle cx="462.6" cy="249.3" r="3.3"/>
<circle cx="455.4" cy="259.3" r="3.3"/>
<circle cx="460.4" cy="255.2" r="3.3"/>
<circle cx="475.8" cy="239.3" r="3.3"/>
<circle cx="465.8" cy="260.5" r="3.3"/>
<circle cx="483.7" cy="255.7" r="3.3"/>
<circle cx="464.2" cy="264.3" r="3.3"/>
<circle cx="480.2" cy="251.3" r="3.3"/>
<circle cx="463.8" cy="244.2" r="3.3"/>
<circle cx="455.7" cy="255.1" r="3.3"/>
<circle cx="454.4" cy="260.3" r="3.3"/>
<circle cx="459.0" cy="254.5" r="3.3"/>
<circle cx="474.9" cy="245.9" r="3.3"/>
<circle cx="467.2" cy="258.6" r="3.3"/>
<circle cx="468.0" cy="245.6" r="3.3"/>
<circle cx="480.7" cy="240.6" r="3.3"/>
<circle cx="463.2" cy="250.8" r="3.3"/>
<circle cx="486.6" cy="259.4" r="3.3"/>
<circle cx="463.2" cy="262.9" r="3.3"/>
<circle cx="479.9" cy="243.0" r="3.3"/>
<circle cx="463.1" cy="248.3" r="3.3"/>
<circle cx="465.3" cy="239.2" r="3.3"/>
<circle cx="473.1" cy="257.3" r="3.3"/>
<circle cx="454.1" cy="252.7" r="3.3"/>
<circle cx="482.1" cy="262.2" r="3.3"/>
<circle cx="467.2" cy="244.3" r="3.3"/>
<circle cx="459.2" cy="263.5" r="3.3"/>
<circle cx="480.3" cy="248.2" r="3.3"/>
<circle cx="476.0" cy="257.8" r="3.3"/>
<circle cx="487.3" cy="255.2" r="3.3"/>
<circle cx="463.9" cy="254.6" r="3.3"/>
<circle cx="486.7" cy="255.6" r="3.3"/>
<circle cx="467.1" cy="243.4" r="3.3"/>
<circle cx="468.4" cy="260.3" r="3.3"/>
<circle cx="453.5" cy="244.9" r="3.3"/>
<circle cx="452.1" cy="245.0" r="3.3"/>
<circle cx="460.3" cy="255.8" r="3.3"/>
<circle cx="460.6" cy="258.8" r="3.3"/>
<circle cx="486.3" cy="248.0" r="3.3"/>
<circle cx="478.6" cy="244.5" r="3.3"/>
<circle cx="458.6" cy="265.7" r="3.3"/>
<circle cx="465.1" cy="241.0" r="3.3"/>
<circle cx="453.1" cy="242.1" r="3.3"/>
<circle cx="462.5" cy="244.2" r="3.3"/>
<circle cx="473.1" cy="259.7" r="3.3"/>
<circle cx="453.6" cy="239.8" r="3.3"/>
<circle cx="459.1" cy="243.7" r="3.3"/>
<circle cx="483.9" cy="258.4" r="3.3"/>
<circle cx="464.2" cy="254.0" r="3.3"/>
<circle cx="458.4" cy="239.6" r="3.3"/>
<circle cx="482.3" cy="263.6" r="3.3"/>
<circle cx="452.8" cy="257.3" r="3.3"/>
<circle cx="465.6" cy="260.3" r="3.3"/>
<circle cx="456.0" cy="264.3" r="3.3"/>
<circle cx="463.0" cy="245.5" r="3.3"/>
<circle cx="481.1" cy="256.8" r="3.3"/>
<circle cx="485.9" cy="265.4" r="3.3"/>
<circle cx="487.9" cy="262.8" r="3.3"/>
<circle cx="483.6" cy="240.8" r="3.3"/>
<circle cx="457.2" cy="264.0" r="3.3"/>
<circle cx="480.6" cy="244.2" r="3.3"/>
<circle cx="465.6" cy="249.1" r="3.3"/>
<circle cx="473.6" cy="265.4" r="3.3"/>
<circle cx="460.8" cy="240.2" r="3.3"/>
<circle cx="474.2" cy="244.1" r="3.3"/>
<circle cx="471.3" cy="260.3" r="3.3"/>
<circle cx="463.8" cy="240.4" r="3.3"/>
<circle cx="480.6" cy="262.6" r="3.3"/>
<circle cx="482.7" cy="265.1" r="3.3"/>
<circle cx="483.9" cy="244.6" r="3.3"/>
<circle cx="454.9" cy="251.7" r="3.3"/>
<circle cx="475.9" cy="240.8" r="3.3"/>
<circle cx="470.3" cy="259.3" r="3.3"/>
<circle cx="471.3" cy="234.1" r="3.3"/>
<circle cx="469.0" cy="233.6" r="3.3"/>
<circle cx="466.1" cy="232.5" r="3.3"/>
<circle cx="472.1" cy="236.6" r="3.3"/>
<circle cx="468.9" cy="231.2" r="3.3"/>
<circle cx="467.4" cy="239.1" r="3.3"/>
<circle cx="470.3" cy="228.4" r="3.3"/>
<circle cx="464.5" cy="230.4" r="3.3"/>
<circle cx="474.8" cy="232.8" r="3.3"/>
<circle cx="465.9" cy="238.7" r="3.3"/>
<circle cx="470.1" cy="239.2" r="3.3"/>
<circle cx="467.0" cy="234.6" r="3.3"/>
<circle cx="463.1" cy="229.0" r="3.3"/>
<circle cx="468.1" cy="232.2" r="3.3"/>
<circle cx="470.3" cy="233.6" r="3.3"/>
<circle cx="470.9" cy="233.1" r="3.3"/>
<circle cx="468.5" cy="232.9" r="3.3"/>
<circle cx="473.9" cy="231.8" r="3.3"/>
<circle cx="467.1" cy="230.2" r="3.3"/>
<circle cx="467.6" cy="282.1" r="3.3"/>
<circle cx="469.0" cy="268.1" r="3.3"/>
<circle cx="474.3" cy="278.8" r="3.3"/>
<circle cx="472.1" cy="285.6" r="3.3"/>
<circle cx="475.2" cy="268.5" r="3.3"/>
<circle cx="465.8" cy="267.0" r="3.3"/>
<circle cx="467.2" cy="270.9" r="3.3"/>
<circle cx="468.6" cy="273.6" r="3.3"/>
<circle cx="474.0" cy="283.1" r="3.3"/>
<circle cx="468.0" cy="283.6" r="3.3"/>
<circle cx="476.0" cy="291.0" r="3.3"/>
<circle cx="473.3" cy="284.5" r="3.3"/>
<circle cx="475.0" cy="266.2" r="3.3"/>
<circle cx="468.3" cy="286.6" r="3.3"/>
<circle cx="473.6" cy="276.1" r="3.3"/>
<circle cx="469.5" cy="280.5" r="3.3"/>
<circle cx="472.2" cy="277.8" r="3.3"/>
<circle cx="470.6" cy="285.0" r="3.3"/>
<circle cx="466.6" cy="275.9" r="3.3"/>
<circle cx="467.5" cy="284.7" r="3.3"/>
<circle cx="470.2" cy="278.9" r="3.3"/>
<circle cx="473.6" cy="284.9" r="3.3"/>
<circle cx="472.9" cy="277.5" r="3.3"/>
<circle cx="473.7" cy="273.8" r="3.3"/>
<circle cx="467.1" cy="285.3" r="3.3"/>
<circle cx="472.7" cy="271.2" r="3.3"/>
<circle cx="469.9" cy="280.0" r="3.3"/>
<circle cx="469.1" cy="280.4" r="3.3"/>
<circle cx="466.4" cy="289.6" r="3.3"/>
<circle cx="465.1" cy="286.3" r="3.3"/>
<circle cx="474.2" cy="274.5" r="3.3"/>
<circle cx="469.6" cy="283.1" r="3.3"/>
<circle cx="469.4" cy="285.5" r="3.3"/>
<circle cx="470.9" cy="274.2" r="3.3"/>
<circle cx="465.3" cy="285.6" r="3.3"/>
<circle cx="489.2" cy="265.5" r="3.3"/>
<circle cx="490.3" cy="267.3" r="3.3"/>
<circle cx="478.7" cy="270.0" r="3.3"/>
<circle cx="477.9" cy="272.7" r="3.3"/>
<circle cx="491.3" cy="266.0" r="3.3"/>
<circle cx="470.1" cy="269.3" r="3.3"/>
<circle cx="462.8" cy="265.1" r="3.3"/>
<circle cx="476.5" cy="268.5" r="3.3"/>
<circle cx="488.2" cy="264.9" r="3.3"/>
<circle cx="459.8" cy="269.5" r="3.3"/>
<circle cx="457.2" cy="270.9" r="3.3"/>
<circle cx="473.6" cy="265.9" r="3.3"/>
<circle cx="458.5" cy="273.6" r="3.3"/>
<circle cx="466.2" cy="266.3" r="3.3"/>
<circle cx="479.7" cy="264.7" r="3.3"/>
<circle cx="458.1" cy="269.2" r="3.3"/>
<circle cx="462.2" cy="272.6" r="3.3"/>
<circle cx="470.8" cy="265.6" r="3.3"/>
<circle cx="460.0" cy="269.4" r="3.3"/>
<circle cx="473.2" cy="264.7" r="3.3"/>
<circle cx="490.4" cy="272.7" r="3.3"/>
<circle cx="460.7" cy="266.1" r="3.3"/>
<circle cx="471.6" cy="271.1" r="3.3"/>
<circle cx="473.1" cy="270.0" r="3.3"/>
<circle cx="489.8" cy="269.9" r="3.3"/>
<circle cx="466.4" cy="218.0" r="3.3"/>
<circle cx="471.2" cy="218.0" r="3.3"/>
<circle cx="458.7" cy="227.0" r="3.3"/>
<circle cx="480.8" cy="223.2" r="3.3"/>
<circle cx="481.7" cy="225.1" r="3.3"/>
<circle cx="469.3" cy="229.9" r="3.3"/>
<circle cx="466.4" cy="233.7" r="3.3"/>
<circle cx="499.9" cy="227.0" r="3.3"/>
<circle cx="493.2" cy="235.7" r="3.3"/>
<circle cx="498.0" cy="238.5" r="3.3"/>
<circle cx="443.4" cy="247.1" r="3.3"/>
<circle cx="440.5" cy="252.9" r="3.3"/>
<circle cx="442.5" cy="262.5" r="3.3"/>
<circle cx="441.9" cy="274.0" r="3.3"/>
<circle cx="496.1" cy="248.1" r="3.3"/>
<circle cx="502.8" cy="250.0" r="3.3"/>
<circle cx="485.6" cy="260.6" r="3.3"/>
<circle cx="491.3" cy="264.4" r="3.3"/>
<circle cx="513.3" cy="270.5" r="3.3"/>
<circle cx="505.7" cy="277.2" r="3.3"/>
<circle cx="481.7" cy="280.7" r="3.3"/>
<circle cx="487.5" cy="280.7" r="3.3"/>
<circle cx="466.4" cy="293.1" r="3.3"/>
<circle cx="471.2" cy="293.1" r="3.3"/>
</g>
<line x1="440.5" y1="252.0" x2="513.3" y2="255.8" stroke="#1a1a1a" stroke-width="1.2"/>
<path d="M406.0,186.5 H533.4 V302.3 H406.0 Z" fill="none" stroke="#1a1a1a" stroke-width="1.3"/>
<line x1="407.8" y1="302.3" x2="407.8" y2="305.8" stroke="#1a1a1a" stroke-width="1.2"/>
<line x1="531.5" y1="302.3" x2="531.5" y2="305.8" stroke="#1a1a1a" stroke-width="1.2"/>
<text x="407.5" y="315.7" font-size="9.3" text-anchor="middle" >-2</text>
<text x="531.1" y="315.7" font-size="9.3" text-anchor="middle" >2</text>
<text x="470.2" y="333.0" font-size="9.3" text-anchor="middle" >Diff.in ISOT</text>
<text x="449.6" y="197.1" font-size="9.3"><tspan font-style="italic">P</tspan>&lt;0.001</text>
<g fill="#e8693f">
<circle cx="598.0" cy="256.8" r="3.3"/>
<circle cx="616.7" cy="258.0" r="3.3"/>
<circle cx="620.6" cy="259.4" r="3.3"/>
<circle cx="600.3" cy="263.4" r="3.3"/>
<circle cx="595.3" cy="255.1" r="3.3"/>
<circle cx="628.3" cy="251.4" r="3.3"/>
<circle cx="599.5" cy="252.3" r="3.3"/>
<circle cx="611.9" cy="267.9" r="3.3"/>
<circle cx="598.5" cy="259.7" r="3.3"/>
<circle cx="614.0" cy="250.6" r="3.3"/>
<circle cx="601.3" cy="250.0" r="3.3"/>
<circle cx="622.2" cy="262.3" r="3.3"/>
<circle cx="632.9" cy="251.0" r="3.3"/>
<circle cx="595.8" cy="260.0" r="3.3"/>
<circle cx="624.0" cy="265.3" r="3.3"/>
<circle cx="599.5" cy="264.2" r="3.3"/>
<circle cx="618.4" cy="268.2" r="3.3"/>
<circle cx="614.3" cy="266.4" r="3.3"/>
<circle cx="611.3" cy="268.1" r="3.3"/>
<circle cx="610.7" cy="247.3" r="3.3"/>
<circle cx="620.3" cy="265.3" r="3.3"/>
<circle cx="634.1" cy="256.6" r="3.3"/>
<circle cx="623.4" cy="256.9" r="3.3"/>
<circle cx="632.9" cy="263.5" r="3.3"/>
<circle cx="609.9" cy="264.2" r="3.3"/>
<circle cx="616.7" cy="265.5" r="3.3"/>
<circle cx="611.0" cy="257.8" r="3.3"/>
<circle cx="610.2" cy="247.2" r="3.3"/>
<circle cx="602.4" cy="264.0" r="3.3"/>
<circle cx="625.9" cy="251.1" r="3.3"/>
<circle cx="624.8" cy="257.3" r="3.3"/>
<circle cx="628.4" cy="253.6" r="3.3"/>
<circle cx="616.9" cy="248.6" r="3.3"/>
<circle cx="632.5" cy="260.7" r="3.3"/>
<circle cx="618.1" cy="268.7" r="3.3"/>
<circle cx="630.3" cy="265.4" r="3.3"/>
<circle cx="622.2" cy="252.8" r="3.3"/>
<circle cx="624.2" cy="257.4" r="3.3"/>
<circle cx="612.4" cy="265.4" r="3.3"/>
<circle cx="612.0" cy="259.1" r="3.3"/>
<circle cx="618.6" cy="247.2" r="3.3"/>
<circle cx="624.8" cy="262.9" r="3.3"/>
<circle cx="617.9" cy="259.2" r="3.3"/>
<circle cx="612.1" cy="252.0" r="3.3"/>
<circle cx="610.1" cy="246.6" r="3.3"/>
<circle cx="623.9" cy="248.1" r="3.3"/>
<circle cx="612.4" cy="245.9" r="3.3"/>
<circle cx="607.1" cy="261.2" r="3.3"/>
<circle cx="618.5" cy="257.3" r="3.3"/>
<circle cx="619.8" cy="246.6" r="3.3"/>
<circle cx="629.7" cy="253.8" r="3.3"/>
<circle cx="617.5" cy="260.6" r="3.3"/>
<circle cx="596.8" cy="262.6" r="3.3"/>
<circle cx="611.8" cy="261.5" r="3.3"/>
<circle cx="611.7" cy="252.1" r="3.3"/>
<circle cx="632.2" cy="249.8" r="3.3"/>
<circle cx="621.6" cy="252.7" r="3.3"/>
<circle cx="624.4" cy="263.7" r="3.3"/>
<circle cx="627.3" cy="261.3" r="3.3"/>
<circle cx="607.7" cy="255.0" r="3.3"/>
<circle cx="621.5" cy="265.5" r="3.3"/>
<circle cx="624.4" cy="255.4" r="3.3"/>
<circle cx="620.1" cy="264.0" r="3.3"/>
<circle cx="623.7" cy="263.8" r="3.3"/>
<circle cx="611.2" cy="263.8" r="3.3"/>
<circle cx="611.3" cy="257.8" r="3.3"/>
<circle cx="624.4" cy="248.1" r="3.3"/>
<circle cx="612.9" cy="259.3" r="3.3"/>
<circle cx="619.5" cy="263.5" r="3.3"/>
<circle cx="598.5" cy="250.1" r="3.3"/>
<circle cx="630.5" cy="262.2" r="3.3"/>
<circle cx="638.2" cy="256.3" r="3.3"/>
<circle cx="627.7" cy="267.3" r="3.3"/>
<circle cx="598.6" cy="250.0" r="3.3"/>
<circle cx="610.7" cy="247.7" r="3.3"/>
<circle cx="635.9" cy="255.3" r="3.3"/>
<circle cx="608.0" cy="265.3" r="3.3"/>
<circle cx="626.7" cy="252.5" r="3.3"/>
<circle cx="626.5" cy="250.3" r="3.3"/>
<circle cx="607.9" cy="265.1" r="3.3"/>
<circle cx="604.8" cy="253.2" r="3.3"/>
<circle cx="610.0" cy="252.5" r="3.3"/>
<circle cx="597.5" cy="250.8" r="3.3"/>
<circle cx="619.0" cy="266.4" r="3.3"/>
<circle cx="627.2" cy="253.0" r="3.3"/>
<circle cx="615.5" cy="246.6" r="3.3"/>
<circle cx="612.9" cy="255.0" r="3.3"/>
<circle cx="608.2" cy="261.6" r="3.3"/>
<circle cx="623.0" cy="261.4" r="3.3"/>
<circle cx="638.5" cy="259.7" r="3.3"/>
<circle cx="598.7" cy="250.3" r="3.3"/>
<circle cx="616.1" cy="250.1" r="3.3"/>
<circle cx="613.8" cy="266.5" r="3.3"/>
<circle cx="618.1" cy="248.4" r="3.3"/>
<circle cx="635.3" cy="255.6" r="3.3"/>
<circle cx="616.2" cy="258.8" r="3.3"/>
<circle cx="624.6" cy="251.3" r="3.3"/>
<circle cx="617.8" cy="265.8" r="3.3"/>
<circle cx="632.6" cy="251.6" r="3.3"/>
<circle cx="617.2" cy="266.9" r="3.3"/>
<circle cx="613.6" cy="247.8" r="3.3"/>
<circle cx="607.4" cy="261.6" r="3.3"/>
<circle cx="615.3" cy="257.3" r="3.3"/>
<circle cx="621.2" cy="254.7" r="3.3"/>
<circle cx="623.5" cy="265.9" r="3.3"/>
<circle cx="623.5" cy="261.2" r="3.3"/>
<circle cx="631.8" cy="262.0" r="3.3"/>
<circle cx="627.8" cy="246.9" r="3.3"/>
<circle cx="617.6" cy="260.3" r="3.3"/>
<circle cx="615.0" cy="250.4" r="3.3"/>
<circle cx="615.0" cy="251.2" r="3.3"/>
<circle cx="622.1" cy="262.4" r="3.3"/>
<circle cx="613.6" cy="264.8" r="3.3"/>
<circle cx="609.1" cy="252.3" r="3.3"/>
<circle cx="618.3" cy="253.7" r="3.3"/>
<circle cx="631.3" cy="255.7" r="3.3"/>
<circle cx="624.5" cy="263.9" r="3.3"/>
<circle cx="597.3" cy="256.7" r="3.3"/>
<circle cx="618.3" cy="246.2" r="3.3"/>
<circle cx="617.9" cy="255.4" r="3.3"/>
<circle cx="601.4" cy="264.5" r="3.3"/>
<circle cx="618.2" cy="245.5" r="3.3"/>
<circle cx="609.6" cy="254.4" r="3.3"/>
<circle cx="615.3" cy="251.0" r="3.3"/>
<circle cx="601.9" cy="258.8" r="3.3"/>
<circle cx="604.3" cy="263.6" r="3.3"/>
<circle cx="624.6" cy="258.9" r="3.3"/>
<circle cx="608.1" cy="257.9" r="3.3"/>
<circle cx="618.0" cy="258.3" r="3.3"/>
<circle cx="597.4" cy="257.0" r="3.3"/>
<circle cx="617.8" cy="275.5" r="3.3"/>
<circle cx="628.6" cy="277.6" r="3.3"/>
<circle cx="615.0" cy="255.0" r="3.3"/>
<circle cx="621.4" cy="259.7" r="3.3"/>
<circle cx="615.8" cy="233.8" r="3.3"/>
<circle cx="628.1" cy="250.1" r="3.3"/>
<circle cx="619.6" cy="241.1" r="3.3"/>
<circle cx="616.5" cy="244.0" r="3.3"/>
<circle cx="627.9" cy="265.9" r="3.3"/>
<circle cx="618.2" cy="255.0" r="3.3"/>
<circle cx="622.5" cy="264.7" r="3.3"/>
<circle cx="621.6" cy="275.5" r="3.3"/>
<circle cx="623.7" cy="243.4" r="3.3"/>
<circle cx="606.8" cy="270.2" r="3.3"/>
<circle cx="621.1" cy="263.8" r="3.3"/>
<circle cx="622.7" cy="262.3" r="3.3"/>
<circle cx="612.3" cy="253.4" r="3.3"/>
<circle cx="622.3" cy="244.0" r="3.3"/>
<circle cx="620.5" cy="276.7" r="3.3"/>
<circle cx="626.2" cy="232.6" r="3.3"/>
<circle cx="624.5" cy="262.3" r="3.3"/>
<circle cx="628.0" cy="250.7" r="3.3"/>
<circle cx="620.1" cy="274.3" r="3.3"/>
<circle cx="618.4" cy="240.9" r="3.3"/>
<circle cx="616.2" cy="271.0" r="3.3"/>
<circle cx="612.1" cy="246.2" r="3.3"/>
<circle cx="629.2" cy="262.9" r="3.3"/>
<circle cx="615.2" cy="246.5" r="3.3"/>
<circle cx="615.9" cy="273.2" r="3.3"/>
<circle cx="623.5" cy="236.2" r="3.3"/>
<circle cx="621.3" cy="268.5" r="3.3"/>
<circle cx="614.3" cy="238.7" r="3.3"/>
<circle cx="624.0" cy="275.7" r="3.3"/>
<circle cx="615.6" cy="246.5" r="3.3"/>
<circle cx="629.7" cy="270.4" r="3.3"/>
<circle cx="606.0" cy="235.3" r="3.3"/>
<circle cx="622.7" cy="256.7" r="3.3"/>
<circle cx="621.7" cy="266.5" r="3.3"/>
<circle cx="610.1" cy="249.6" r="3.3"/>
<circle cx="622.9" cy="241.3" r="3.3"/>
<circle cx="610.4" cy="276.6" r="3.3"/>
<circle cx="616.8" cy="270.3" r="3.3"/>
<circle cx="610.5" cy="234.8" r="3.3"/>
<circle cx="610.4" cy="267.7" r="3.3"/>
<circle cx="612.2" cy="274.4" r="3.3"/>
<circle cx="615.8" cy="261.5" r="3.3"/>
<circle cx="621.0" cy="272.8" r="3.3"/>
<circle cx="610.0" cy="245.8" r="3.3"/>
<circle cx="615.1" cy="245.0" r="3.3"/>
<circle cx="614.2" cy="259.5" r="3.3"/>
<circle cx="617.5" cy="263.6" r="3.3"/>
<circle cx="608.4" cy="234.9" r="3.3"/>
<circle cx="624.0" cy="232.3" r="3.3"/>
<circle cx="620.0" cy="278.4" r="3.3"/>
<circle cx="608.3" cy="256.5" r="3.3"/>
<circle cx="606.2" cy="260.3" r="3.3"/>
<circle cx="629.7" cy="267.8" r="3.3"/>
<circle cx="628.4" cy="254.2" r="3.3"/>
<circle cx="614.1" cy="252.2" r="3.3"/>
<circle cx="614.9" cy="273.8" r="3.3"/>
<circle cx="630.6" cy="247.9" r="3.3"/>
<circle cx="628.4" cy="243.0" r="3.3"/>
<circle cx="614.4" cy="250.8" r="3.3"/>
<circle cx="611.7" cy="255.7" r="3.3"/>
<circle cx="625.2" cy="254.8" r="3.3"/>
<circle cx="612.9" cy="234.3" r="3.3"/>
<circle cx="621.3" cy="243.9" r="3.3"/>
<circle cx="605.8" cy="238.5" r="3.3"/>
<circle cx="614.7" cy="262.0" r="3.3"/>
<circle cx="620.6" cy="238.5" r="3.3"/>
<circle cx="608.0" cy="238.7" r="3.3"/>
<circle cx="607.5" cy="249.7" r="3.3"/>
<circle cx="622.7" cy="263.6" r="3.3"/>
<circle cx="630.0" cy="244.0" r="3.3"/>
<circle cx="626.0" cy="249.1" r="3.3"/>
<circle cx="629.9" cy="252.3" r="3.3"/>
<circle cx="612.4" cy="258.1" r="3.3"/>
<circle cx="609.6" cy="241.3" r="3.3"/>
<circle cx="613.7" cy="244.8" r="3.3"/>
<circle cx="604.0" cy="255.2" r="3.3"/>
<circle cx="630.5" cy="240.9" r="3.3"/>
<circle cx="625.9" cy="235.4" r="3.3"/>
<circle cx="616.2" cy="238.8" r="3.3"/>
<circle cx="618.9" cy="254.1" r="3.3"/>
<circle cx="605.7" cy="246.4" r="3.3"/>
<circle cx="623.6" cy="238.5" r="3.3"/>
<circle cx="626.3" cy="258.9" r="3.3"/>
<circle cx="613.1" cy="261.2" r="3.3"/>
<circle cx="603.6" cy="243.2" r="3.3"/>
<circle cx="621.9" cy="257.9" r="3.3"/>
<circle cx="626.1" cy="257.2" r="3.3"/>
<circle cx="617.4" cy="255.8" r="3.3"/>
<circle cx="617.2" cy="234.2" r="3.3"/>
<circle cx="625.4" cy="254.0" r="3.3"/>
<circle cx="615.7" cy="241.4" r="3.3"/>
<circle cx="629.9" cy="241.0" r="3.3"/>
<circle cx="617.7" cy="240.1" r="3.3"/>
<circle cx="616.5" cy="259.7" r="3.3"/>
<circle cx="621.2" cy="244.4" r="3.3"/>
<circle cx="624.2" cy="257.4" r="3.3"/>
<circle cx="616.3" cy="242.9" r="3.3"/>
<circle cx="612.0" cy="233.2" r="3.3"/>
<circle cx="628.9" cy="241.8" r="3.3"/>
<circle cx="607.3" cy="239.9" r="3.3"/>
<circle cx="607.9" cy="258.1" r="3.3"/>
<circle cx="616.2" cy="237.5" r="3.3"/>
<circle cx="609.9" cy="238.1" r="3.3"/>
<circle cx="625.3" cy="236.0" r="3.3"/>
<circle cx="617.8" cy="253.7" r="3.3"/>
<circle cx="620.8" cy="250.7" r="3.3"/>
<circle cx="620.9" cy="235.1" r="3.3"/>
<circle cx="620.9" cy="223.6" r="3.3"/>
<circle cx="616.4" cy="233.9" r="3.3"/>
<circle cx="623.4" cy="230.1" r="3.3"/>
<circle cx="612.0" cy="222.9" r="3.3"/>
<circle cx="618.4" cy="233.9" r="3.3"/>
<circle cx="623.8" cy="226.5" r="3.3"/>
<circle cx="616.4" cy="231.5" r="3.3"/>
<circle cx="610.8" cy="203.6" r="3.3"/>
<circle cx="570.5" cy="224.7" r="3.3"/>
<circle cx="584.5" cy="225.7" r="3.3"/>
<circle cx="661.0" cy="226.6" r="3.3"/>
<circle cx="615.6" cy="218.0" r="3.3"/>
<circle cx="619.4" cy="218.0" r="3.3"/>
<circle cx="609.8" cy="224.7" r="3.3"/>
<circle cx="629.0" cy="221.8" r="3.3"/>
<circle cx="623.2" cy="225.7" r="3.3"/>
<circle cx="601.2" cy="237.5" r="3.3"/>
<circle cx="640.5" cy="235.2" r="3.3"/>
<circle cx="648.1" cy="237.1" r="3.3"/>
<circle cx="644.3" cy="240.0" r="3.3"/>
<circle cx="576.3" cy="249.6" r="3.3"/>
<circle cx="590.7" cy="254.4" r="3.3"/>
<circle cx="645.2" cy="251.5" r="3.3"/>
<circle cx="658.1" cy="254.4" r="3.3"/>
<circle cx="569.6" cy="262.0" r="3.3"/>
<circle cx="574.4" cy="263.0" r="3.3"/>
<circle cx="571.9" cy="265.9" r="3.3"/>
<circle cx="594.5" cy="263.0" r="3.3"/>
<circle cx="645.2" cy="264.9" r="3.3"/>
<circle cx="655.2" cy="267.8" r="3.3"/>
<circle cx="666.3" cy="265.5" r="3.3"/>
<circle cx="609.8" cy="280.2" r="3.3"/>
<circle cx="617.5" cy="280.2" r="3.3"/>
<circle cx="630.9" cy="280.2" r="3.3"/>
<circle cx="634.7" cy="267.8" r="3.3"/>
</g>
<line x1="569.6" y1="250.2" x2="680.5" y2="256.0" stroke="#1a1a1a" stroke-width="1.2"/>
<path d="M553.2,185.8 H680.6 V302.3 H553.2 Z" fill="none" stroke="#1a1a1a" stroke-width="1.3"/>
<line x1="554.2" y1="302.3" x2="554.2" y2="305.8" stroke="#1a1a1a" stroke-width="1.2"/>
<line x1="677.2" y1="302.3" x2="677.2" y2="305.8" stroke="#1a1a1a" stroke-width="1.2"/>
<text x="553.7" y="315.7" font-size="9.3" text-anchor="middle" >-4</text>
<text x="677.6" y="315.7" font-size="9.3" text-anchor="middle" >4</text>
<text x="620.5" y="333.0" font-size="9.3" text-anchor="middle" >Diff.in PRSE (℃)</text>
<text x="592.0" y="197.1" font-size="9.3"><tspan font-style="italic">P</tspan>&lt;0.001</text>
<g fill="#efd88a">
<circle cx="335.2" cy="399.3" r="3.3"/>
<circle cx="320.5" cy="405.1" r="3.3"/>
<circle cx="315.5" cy="415.3" r="3.3"/>
<circle cx="320.8" cy="410.3" r="3.3"/>
<circle cx="351.4" cy="404.5" r="3.3"/>
<circle cx="313.1" cy="409.0" r="3.3"/>
<circle cx="322.3" cy="405.8" r="3.3"/>
<circle cx="318.7" cy="398.2" r="3.3"/>
<circle cx="324.4" cy="398.6" r="3.3"/>
<circle cx="321.0" cy="422.0" r="3.3"/>
<circle cx="347.8" cy="418.8" r="3.3"/>
<circle cx="325.3" cy="399.7" r="3.3"/>
<circle cx="338.3" cy="400.3" r="3.3"/>
<circle cx="325.6" cy="400.8" r="3.3"/>
<circle cx="344.3" cy="408.0" r="3.3"/>
<circle cx="335.4" cy="403.3" r="3.3"/>
<circle cx="327.6" cy="396.5" r="3.3"/>
<circle cx="328.2" cy="405.9" r="3.3"/>
<circle cx="337.0" cy="404.6" r="3.3"/>
<circle cx="314.4" cy="409.7" r="3.3"/>
<circle cx="350.2" cy="407.9" r="3.3"/>
<circle cx="344.4" cy="397.6" r="3.3"/>
<circle cx="316.1" cy="406.6" r="3.3"/>
<circle cx="319.1" cy="396.5" r="3.3"/>
<circle cx="330.8" cy="400.3" r="3.3"/>
<circle cx="316.9" cy="407.7" r="3.3"/>
<circle cx="326.3" cy="403.2" r="3.3"/>
<circle cx="339.7" cy="402.1" r="3.3"/>
<circle cx="344.8" cy="417.9" r="3.3"/>
<circle cx="310.4" cy="402.9" r="3.3"/>
<circle cx="342.4" cy="399.5" r="3.3"/>
<circle cx="320.2" cy="410.5" r="3.3"/>
<circle cx="343.5" cy="417.9" r="3.3"/>
<circle cx="327.6" cy="414.2" r="3.3"/>
<circle cx="334.3" cy="420.9" r="3.3"/>
<circle cx="329.8" cy="407.7" r="3.3"/>
<circle cx="327.1" cy="398.5" r="3.3"/>
<circle cx="319.2" cy="396.5" r="3.3"/>
<circle cx="344.6" cy="419.9" r="3.3"/>
<circle cx="309.4" cy="414.7" r="3.3"/>
<circle cx="336.9" cy="407.1" r="3.3"/>
<circle cx="340.5" cy="408.0" r="3.3"/>
<circle cx="353.4" cy="413.5" r="3.3"/>
<circle cx="318.7" cy="400.3" r="3.3"/>
<circle cx="349.4" cy="406.9" r="3.3"/>
<circle cx="326.2" cy="410.5" r="3.3"/>
<circle cx="331.0" cy="418.8" r="3.3"/>
<circle cx="320.7" cy="396.3" r="3.3"/>
<circle cx="321.2" cy="402.0" r="3.3"/>
<circle cx="322.0" cy="397.3" r="3.3"/>
<circle cx="318.0" cy="398.6" r="3.3"/>
<circle cx="343.3" cy="400.5" r="3.3"/>
<circle cx="326.8" cy="420.2" r="3.3"/>
<circle cx="324.2" cy="412.6" r="3.3"/>
<circle cx="345.2" cy="413.9" r="3.3"/>
<circle cx="321.3" cy="400.3" r="3.3"/>
<circle cx="348.7" cy="410.5" r="3.3"/>
<circle cx="318.3" cy="405.8" r="3.3"/>
<circle cx="329.4" cy="396.5" r="3.3"/>
<circle cx="337.3" cy="417.8" r="3.3"/>
<circle cx="319.9" cy="401.7" r="3.3"/>
<circle cx="322.9" cy="407.1" r="3.3"/>
<circle cx="352.0" cy="414.2" r="3.3"/>
<circle cx="333.0" cy="403.2" r="3.3"/>
<circle cx="331.4" cy="407.2" r="3.3"/>
<circle cx="312.8" cy="405.5" r="3.3"/>
<circle cx="336.7" cy="400.0" r="3.3"/>
<circle cx="311.0" cy="407.7" r="3.3"/>
<circle cx="325.0" cy="396.9" r="3.3"/>
<circle cx="345.4" cy="417.5" r="3.3"/>
<circle cx="353.1" cy="406.2" r="3.3"/>
<circle cx="338.2" cy="418.8" r="3.3"/>
<circle cx="337.9" cy="418.4" r="3.3"/>
<circle cx="332.7" cy="404.3" r="3.3"/>
<circle cx="337.8" cy="413.6" r="3.3"/>
<circle cx="339.9" cy="417.9" r="3.3"/>
<circle cx="332.8" cy="406.9" r="3.3"/>
<circle cx="347.6" cy="407.7" r="3.3"/>
<circle cx="317.9" cy="416.8" r="3.3"/>
<circle cx="308.5" cy="415.3" r="3.3"/>
<circle cx="343.7" cy="409.0" r="3.3"/>
<circle cx="347.0" cy="405.7" r="3.3"/>
<circle cx="334.2" cy="397.9" r="3.3"/>
<circle cx="312.1" cy="412.6" r="3.3"/>
<circle cx="323.9" cy="399.5" r="3.3"/>
<circle cx="344.8" cy="408.3" r="3.3"/>
<circle cx="318.9" cy="407.5" r="3.3"/>
<circle cx="348.4" cy="416.4" r="3.3"/>
<circle cx="330.9" cy="415.1" r="3.3"/>
<circle cx="323.0" cy="421.2" r="3.3"/>
<circle cx="348.7" cy="406.1" r="3.3"/>
<circle cx="333.2" cy="417.2" r="3.3"/>
<circle cx="343.6" cy="417.0" r="3.3"/>
<circle cx="341.3" cy="412.2" r="3.3"/>
<circle cx="312.5" cy="418.0" r="3.3"/>
<circle cx="324.2" cy="411.4" r="3.3"/>
<circle cx="329.6" cy="418.1" r="3.3"/>
<circle cx="323.7" cy="399.4" r="3.3"/>
<circle cx="349.3" cy="414.1" r="3.3"/>
<circle cx="350.9" cy="408.7" r="3.3"/>
<circle cx="335.4" cy="417.0" r="3.3"/>
<circle cx="317.5" cy="398.4" r="3.3"/>
<circle cx="317.2" cy="403.4" r="3.3"/>
<circle cx="344.2" cy="420.5" r="3.3"/>
<circle cx="326.3" cy="409.9" r="3.3"/>
<circle cx="324.5" cy="406.6" r="3.3"/>
<circle cx="335.9" cy="412.3" r="3.3"/>
<circle cx="323.9" cy="407.9" r="3.3"/>
<circle cx="320.4" cy="402.5" r="3.3"/>
<circle cx="323.5" cy="415.3" r="3.3"/>
<circle cx="338.1" cy="404.1" r="3.3"/>
<circle cx="345.3" cy="409.5" r="3.3"/>
<circle cx="345.1" cy="407.3" r="3.3"/>
<circle cx="349.0" cy="417.3" r="3.3"/>
<circle cx="339.6" cy="419.7" r="3.3"/>
<circle cx="322.1" cy="420.9" r="3.3"/>
<circle cx="311.9" cy="409.7" r="3.3"/>
<circle cx="322.9" cy="396.6" r="3.3"/>
<circle cx="311.5" cy="405.5" r="3.3"/>
<circle cx="338.2" cy="405.5" r="3.3"/>
<circle cx="344.7" cy="406.1" r="3.3"/>
<circle cx="317.9" cy="419.0" r="3.3"/>
<circle cx="347.9" cy="407.0" r="3.3"/>
<circle cx="310.9" cy="401.8" r="3.3"/>
<circle cx="321.2" cy="409.7" r="3.3"/>
<circle cx="347.9" cy="409.6" r="3.3"/>
<circle cx="335.0" cy="413.1" r="3.3"/>
<circle cx="314.5" cy="417.3" r="3.3"/>
<circle cx="350.1" cy="412.9" r="3.3"/>
<circle cx="350.8" cy="407.1" r="3.3"/>
<circle cx="330.1" cy="419.9" r="3.3"/>
<circle cx="327.1" cy="403.2" r="3.3"/>
<circle cx="352.3" cy="407.9" r="3.3"/>
<circle cx="316.9" cy="408.9" r="3.3"/>
<circle cx="308.2" cy="415.0" r="3.3"/>
<circle cx="346.6" cy="400.4" r="3.3"/>
<circle cx="322.1" cy="421.2" r="3.3"/>
<circle cx="345.1" cy="406.1" r="3.3"/>
<circle cx="327.1" cy="412.9" r="3.3"/>
<circle cx="348.8" cy="414.7" r="3.3"/>
<circle cx="339.6" cy="407.1" r="3.3"/>
<circle cx="350.2" cy="413.3" r="3.3"/>
<circle cx="313.5" cy="405.7" r="3.3"/>
<circle cx="347.3" cy="399.3" r="3.3"/>
<circle cx="314.2" cy="413.6" r="3.3"/>
<circle cx="327.9" cy="399.4" r="3.3"/>
<circle cx="305.1" cy="407.7" r="3.3"/>
<circle cx="345.9" cy="401.4" r="3.3"/>
<circle cx="313.7" cy="415.2" r="3.3"/>
<circle cx="348.3" cy="402.6" r="3.3"/>
<circle cx="341.0" cy="417.1" r="3.3"/>
<circle cx="342.7" cy="407.9" r="3.3"/>
<circle cx="342.2" cy="422.0" r="3.3"/>
<circle cx="346.3" cy="420.6" r="3.3"/>
<circle cx="331.9" cy="415.2" r="3.3"/>
<circle cx="335.8" cy="422.3" r="3.3"/>
<circle cx="339.1" cy="420.6" r="3.3"/>
<circle cx="331.7" cy="407.5" r="3.3"/>
<circle cx="309.7" cy="419.8" r="3.3"/>
<circle cx="331.2" cy="422.0" r="3.3"/>
<circle cx="326.7" cy="410.6" r="3.3"/>
<circle cx="324.3" cy="405.3" r="3.3"/>
<circle cx="350.8" cy="408.0" r="3.3"/>
<circle cx="332.4" cy="418.3" r="3.3"/>
<circle cx="311.8" cy="409.0" r="3.3"/>
<circle cx="320.4" cy="407.3" r="3.3"/>
<circle cx="342.2" cy="414.4" r="3.3"/>
<circle cx="316.7" cy="409.1" r="3.3"/>
<circle cx="351.7" cy="415.9" r="3.3"/>
<circle cx="346.5" cy="403.7" r="3.3"/>
<circle cx="328.7" cy="415.4" r="3.3"/>
<circle cx="329.9" cy="410.1" r="3.3"/>
<circle cx="336.2" cy="409.6" r="3.3"/>
<circle cx="323.3" cy="403.1" r="3.3"/>
<circle cx="349.6" cy="406.7" r="3.3"/>
<circle cx="323.4" cy="405.0" r="3.3"/>
<circle cx="330.1" cy="404.7" r="3.3"/>
<circle cx="331.2" cy="406.1" r="3.3"/>
<circle cx="312.1" cy="412.7" r="3.3"/>
<circle cx="313.6" cy="416.1" r="3.3"/>
<circle cx="317.1" cy="410.9" r="3.3"/>
<circle cx="320.7" cy="411.6" r="3.3"/>
<circle cx="314.9" cy="419.2" r="3.3"/>
<circle cx="311.3" cy="411.8" r="3.3"/>
<circle cx="347.1" cy="406.2" r="3.3"/>
<circle cx="323.3" cy="411.7" r="3.3"/>
<circle cx="323.6" cy="420.4" r="3.3"/>
<circle cx="315.7" cy="406.8" r="3.3"/>
<circle cx="308.0" cy="410.9" r="3.3"/>
<circle cx="342.5" cy="421.0" r="3.3"/>
<circle cx="313.9" cy="407.0" r="3.3"/>
<circle cx="329.5" cy="416.3" r="3.3"/>
<circle cx="319.0" cy="411.4" r="3.3"/>
<circle cx="333.0" cy="419.0" r="3.3"/>
<circle cx="341.0" cy="409.5" r="3.3"/>
<circle cx="343.5" cy="420.6" r="3.3"/>
<circle cx="330.6" cy="421.5" r="3.3"/>
<circle cx="347.3" cy="410.8" r="3.3"/>
<circle cx="311.4" cy="405.2" r="3.3"/>
<circle cx="307.0" cy="406.1" r="3.3"/>
<circle cx="330.5" cy="418.3" r="3.3"/>
<circle cx="317.6" cy="416.6" r="3.3"/>
<circle cx="322.8" cy="422.5" r="3.3"/>
<circle cx="342.1" cy="411.7" r="3.3"/>
<circle cx="320.2" cy="412.7" r="3.3"/>
<circle cx="343.3" cy="408.0" r="3.3"/>
<circle cx="313.5" cy="413.2" r="3.3"/>
<circle cx="318.2" cy="418.3" r="3.3"/>
<circle cx="348.3" cy="422.9" r="3.3"/>
<circle cx="318.1" cy="419.4" r="3.3"/>
<circle cx="312.3" cy="430.9" r="3.3"/>
<circle cx="331.9" cy="430.8" r="3.3"/>
<circle cx="322.1" cy="423.5" r="3.3"/>
<circle cx="337.8" cy="429.3" r="3.3"/>
<circle cx="326.3" cy="424.2" r="3.3"/>
<circle cx="310.2" cy="421.5" r="3.3"/>
<circle cx="337.7" cy="434.0" r="3.3"/>
<circle cx="319.6" cy="429.6" r="3.3"/>
<circle cx="308.9" cy="421.7" r="3.3"/>
<circle cx="319.0" cy="425.3" r="3.3"/>
<circle cx="326.3" cy="424.2" r="3.3"/>
<circle cx="316.8" cy="427.7" r="3.3"/>
<circle cx="322.3" cy="430.0" r="3.3"/>
<circle cx="315.7" cy="424.8" r="3.3"/>
<circle cx="315.0" cy="425.9" r="3.3"/>
<circle cx="319.4" cy="425.5" r="3.3"/>
<circle cx="307.5" cy="421.6" r="3.3"/>
<circle cx="307.7" cy="431.4" r="3.3"/>
<circle cx="312.8" cy="427.6" r="3.3"/>
<circle cx="335.1" cy="422.4" r="3.3"/>
<circle cx="311.9" cy="434.3" r="3.3"/>
<circle cx="317.6" cy="425.3" r="3.3"/>
<circle cx="309.1" cy="421.2" r="3.3"/>
<circle cx="323.7" cy="433.1" r="3.3"/>
<circle cx="316.6" cy="431.4" r="3.3"/>
<circle cx="317.6" cy="431.9" r="3.3"/>
<circle cx="322.9" cy="426.2" r="3.3"/>
<circle cx="326.8" cy="423.9" r="3.3"/>
<circle cx="318.3" cy="433.4" r="3.3"/>
<circle cx="310.2" cy="431.4" r="3.3"/>
<circle cx="309.9" cy="429.2" r="3.3"/>
<circle cx="335.2" cy="430.2" r="3.3"/>
<circle cx="312.1" cy="430.9" r="3.3"/>
<circle cx="335.6" cy="422.0" r="3.3"/>
<circle cx="323.5" cy="425.8" r="3.3"/>
<circle cx="329.2" cy="434.9" r="3.3"/>
<circle cx="312.5" cy="431.1" r="3.3"/>
<circle cx="307.4" cy="423.7" r="3.3"/>
<circle cx="323.6" cy="424.5" r="3.3"/>
<circle cx="334.1" cy="432.9" r="3.3"/>
<circle cx="332.5" cy="451.5" r="3.3"/>
<circle cx="332.3" cy="441.5" r="3.3"/>
<circle cx="329.5" cy="450.3" r="3.3"/>
<circle cx="319.1" cy="441.0" r="3.3"/>
<circle cx="332.9" cy="442.6" r="3.3"/>
<circle cx="318.3" cy="444.4" r="3.3"/>
<circle cx="329.1" cy="435.4" r="3.3"/>
<circle cx="318.7" cy="443.8" r="3.3"/>
<circle cx="330.7" cy="446.2" r="3.3"/>
<circle cx="329.9" cy="440.6" r="3.3"/>
<circle cx="329.0" cy="449.5" r="3.3"/>
<circle cx="333.5" cy="436.1" r="3.3"/>
<circle cx="330.0" cy="440.3" r="3.3"/>
<circle cx="330.5" cy="440.6" r="3.3"/>
<circle cx="322.3" cy="436.5" r="3.3"/>
<circle cx="320.6" cy="437.1" r="3.3"/>
<circle cx="329.1" cy="449.7" r="3.3"/>
<circle cx="330.7" cy="441.7" r="3.3"/>
<circle cx="329.3" cy="443.0" r="3.3"/>
<circle cx="322.9" cy="437.2" r="3.3"/>
<circle cx="329.3" cy="443.5" r="3.3"/>
<circle cx="320.7" cy="433.9" r="3.3"/>
<circle cx="321.8" cy="433.7" r="3.3"/>
<circle cx="320.4" cy="449.8" r="3.3"/>
<circle cx="332.8" cy="438.1" r="3.3"/>
<circle cx="332.2" cy="390.3" r="3.3"/>
<circle cx="322.5" cy="393.2" r="3.3"/>
<circle cx="327.6" cy="380.0" r="3.3"/>
<circle cx="324.3" cy="389.7" r="3.3"/>
<circle cx="324.6" cy="381.3" r="3.3"/>
<circle cx="330.7" cy="388.8" r="3.3"/>
<circle cx="331.0" cy="386.5" r="3.3"/>
<circle cx="329.0" cy="385.2" r="3.3"/>
<circle cx="319.0" cy="393.1" r="3.3"/>
<circle cx="332.8" cy="383.5" r="3.3"/>
<circle cx="335.4" cy="382.8" r="3.3"/>
<circle cx="335.5" cy="388.6" r="3.3"/>
<circle cx="335.6" cy="392.5" r="3.3"/>
<circle cx="332.0" cy="381.7" r="3.3"/>
<circle cx="331.4" cy="386.1" r="3.3"/>
<circle cx="329.8" cy="393.9" r="3.3"/>
<circle cx="318.6" cy="363.0" r="3.3"/>
<circle cx="264.7" cy="395.2" r="3.3"/>
<circle cx="280.5" cy="397.3" r="3.3"/>
<circle cx="293.9" cy="409.6" r="3.3"/>
<circle cx="385.5" cy="426.5" r="3.3"/>
<circle cx="344.6" cy="424.8" r="3.3"/>
<circle cx="352.5" cy="432.9" r="3.3"/>
<circle cx="345.7" cy="386.7" r="3.3"/>
<circle cx="352.5" cy="384.2" r="3.3"/>
<circle cx="323.5" cy="377.2" r="3.3"/>
<circle cx="327.7" cy="377.2" r="3.3"/>
<circle cx="320.3" cy="385.7" r="3.3"/>
<circle cx="335.1" cy="385.7" r="3.3"/>
<circle cx="309.7" cy="393.1" r="3.3"/>
<circle cx="356.3" cy="406.8" r="3.3"/>
<circle cx="311.8" cy="433.3" r="3.3"/>
<circle cx="317.1" cy="439.6" r="3.3"/>
</g>
<line x1="265.3" y1="415.9" x2="385.9" y2="410.0" stroke="#1a1a1a" stroke-width="1.2"/>
<path d="M260.7,345.5 H393.0 V461.3 H260.7 Z" fill="none" stroke="#1a1a1a" stroke-width="1.3"/>
<line x1="263.4" y1="461.3" x2="263.4" y2="464.8" stroke="#1a1a1a" stroke-width="1.2"/>
<line x1="390.6" y1="461.3" x2="390.6" y2="464.8" stroke="#1a1a1a" stroke-width="1.2"/>
<text x="264.0" y="477.8" font-size="9.3" text-anchor="middle" >-1500</text>
<text x="384.8" y="477.8" font-size="9.3" text-anchor="middle" >1500</text>
<text x="323.0" y="494.0" font-size="9.3" text-anchor="middle" >Diff.in CEC (Cmol kg<tspan font-size="5.8" dy="-3.2">-1</tspan><tspan dy="3.2">)</tspan></text>
<text x="302.0" y="357.3" font-size="9.3"><tspan font-style="italic">P</tspan>&lt;0.001</text>
<line x1="255.7" y1="350.2" x2="260.7" y2="350.2" stroke="#1a1a1a" stroke-width="1.2"/>
<line x1="255.7" y1="455.4" x2="260.7" y2="455.4" stroke="#1a1a1a" stroke-width="1.2"/>
<text x="251.7" y="353.5" font-size="9.3" text-anchor="end" >3</text>
<text x="251.7" y="458.7" font-size="9.3" text-anchor="end" >-3</text>
<text transform="translate(223.9,402.2) rotate(-90)" font-size="9.5" text-anchor="middle" dominant-baseline="central">Diff. in AGC rate</text>
<text transform="translate(233.9,402.2) rotate(-90)" font-size="9.5" text-anchor="middle" dominant-baseline="central">(PYF-NYF) (Tg C yr<tspan font-size="5.8" dy="-2.5">-1</tspan><tspan dy="2.5">)</tspan></text>
<g fill="#4d64b3">
<circle cx="451.7" cy="404.0" r="3.3"/>
<circle cx="472.9" cy="406.3" r="3.3"/>
<circle cx="464.2" cy="427.6" r="3.3"/>
<circle cx="476.5" cy="399.4" r="3.3"/>
<circle cx="475.3" cy="421.2" r="3.3"/>
<circle cx="464.2" cy="403.2" r="3.3"/>
<circle cx="474.8" cy="410.8" r="3.3"/>
<circle cx="472.6" cy="421.0" r="3.3"/>
<circle cx="475.7" cy="408.0" r="3.3"/>
<circle cx="440.6" cy="414.9" r="3.3"/>
<circle cx="464.3" cy="411.9" r="3.3"/>
<circle cx="473.8" cy="420.5" r="3.3"/>
<circle cx="448.0" cy="422.7" r="3.3"/>
<circle cx="474.5" cy="416.0" r="3.3"/>
<circle cx="467.9" cy="431.2" r="3.3"/>
<circle cx="476.6" cy="412.9" r="3.3"/>
<circle cx="440.9" cy="411.4" r="3.3"/>
<circle cx="475.6" cy="400.9" r="3.3"/>
<circle cx="463.8" cy="415.8" r="3.3"/>
<circle cx="479.5" cy="400.1" r="3.3"/>
<circle cx="463.0" cy="411.0" r="3.3"/>
<circle cx="467.1" cy="419.2" r="3.3"/>
<circle cx="482.3" cy="425.1" r="3.3"/>
<circle cx="497.4" cy="415.5" r="3.3"/>
<circle cx="476.8" cy="412.5" r="3.3"/>
<circle cx="465.4" cy="403.6" r="3.3"/>
<circle cx="463.3" cy="406.2" r="3.3"/>
<circle cx="443.9" cy="415.7" r="3.3"/>
<circle cx="455.2" cy="416.5" r="3.3"/>
<circle cx="461.0" cy="420.2" r="3.3"/>
<circle cx="491.2" cy="419.1" r="3.3"/>
<circle cx="459.4" cy="409.5" r="3.3"/>
<circle cx="471.5" cy="408.9" r="3.3"/>
<circle cx="460.6" cy="426.3" r="3.3"/>
<circle cx="473.0" cy="408.2" r="3.3"/>
<circle cx="471.1" cy="412.5" r="3.3"/>
<circle cx="456.3" cy="417.1" r="3.3"/>
<circle cx="458.7" cy="406.9" r="3.3"/>
<circle cx="480.9" cy="406.3" r="3.3"/>
<circle cx="488.0" cy="403.1" r="3.3"/>
<circle cx="476.7" cy="418.8" r="3.3"/>
<circle cx="474.6" cy="417.7" r="3.3"/>
<circle cx="484.8" cy="411.1" r="3.3"/>
<circle cx="459.0" cy="409.9" r="3.3"/>
<circle cx="493.3" cy="406.0" r="3.3"/>
<circle cx="486.1" cy="405.5" r="3.3"/>
<circle cx="476.9" cy="425.8" r="3.3"/>
<circle cx="446.3" cy="405.3" r="3.3"/>
<circle cx="481.9" cy="425.9" r="3.3"/>
<circle cx="458.1" cy="429.4" r="3.3"/>
<circle cx="461.2" cy="418.7" r="3.3"/>
<circle cx="488.8" cy="406.6" r="3.3"/>
<circle cx="492.5" cy="407.4" r="3.3"/>
<circle cx="464.9" cy="409.2" r="3.3"/>
<circle cx="496.9" cy="414.2" r="3.3"/>
<circle cx="481.9" cy="425.7" r="3.3"/>
<circle cx="458.7" cy="424.2" r="3.3"/>
<circle cx="462.1" cy="398.3" r="3.3"/>
<circle cx="459.0" cy="414.6" r="3.3"/>
<circle cx="440.2" cy="405.7" r="3.3"/>
<circle cx="465.3" cy="419.3" r="3.3"/>
<circle cx="480.2" cy="413.7" r="3.3"/>
<circle cx="453.9" cy="420.7" r="3.3"/>
<circle cx="444.1" cy="420.9" r="3.3"/>
<circle cx="443.3" cy="422.3" r="3.3"/>
<circle cx="453.1" cy="428.0" r="3.3"/>
<circle cx="458.3" cy="406.7" r="3.3"/>
<circle cx="447.9" cy="420.2" r="3.3"/>
<circle cx="444.9" cy="411.2" r="3.3"/>
<circle cx="475.3" cy="403.9" r="3.3"/>
<circle cx="449.4" cy="408.3" r="3.3"/>
<circle cx="444.2" cy="407.0" r="3.3"/>
<circle cx="466.7" cy="398.9" r="3.3"/>
<circle cx="467.2" cy="415.0" r="3.3"/>
<circle cx="471.1" cy="413.9" r="3.3"/>
<circle cx="438.7" cy="407.7" r="3.3"/>
<circle cx="473.7" cy="411.9" r="3.3"/>
<circle cx="450.3" cy="427.5" r="3.3"/>
<circle cx="485.8" cy="401.9" r="3.3"/>
<circle cx="463.7" cy="420.6" r="3.3"/>
<circle cx="485.5" cy="399.9" r="3.3"/>
<circle cx="480.0" cy="409.4" r="3.3"/>
<circle cx="470.4" cy="410.2" r="3.3"/>
<circle cx="486.7" cy="427.4" r="3.3"/>
<circle cx="461.6" cy="403.4" r="3.3"/>
<circle cx="497.0" cy="416.9" r="3.3"/>
<circle cx="449.0" cy="424.9" r="3.3"/>
<circle cx="462.6" cy="409.8" r="3.3"/>
<circle cx="482.1" cy="399.7" r="3.3"/>
<circle cx="485.4" cy="416.1" r="3.3"/>
<circle cx="474.6" cy="416.4" r="3.3"/>
<circle cx="441.6" cy="407.2" r="3.3"/>
<circle cx="474.8" cy="420.2" r="3.3"/>
<circle cx="465.9" cy="398.4" r="3.3"/>
<circle cx="461.6" cy="404.7" r="3.3"/>
<circle cx="451.7" cy="419.5" r="3.3"/>
<circle cx="472.1" cy="399.3" r="3.3"/>
<circle cx="464.2" cy="420.9" r="3.3"/>
<circle cx="471.1" cy="411.8" r="3.3"/>
<circle cx="467.2" cy="401.2" r="3.3"/>
<circle cx="495.2" cy="415.1" r="3.3"/>
<circle cx="454.6" cy="398.8" r="3.3"/>
<circle cx="440.4" cy="408.5" r="3.3"/>
<circle cx="486.2" cy="407.8" r="3.3"/>
<circle cx="461.9" cy="402.7" r="3.3"/>
<circle cx="483.9" cy="428.8" r="3.3"/>
<circle cx="436.6" cy="411.6" r="3.3"/>
<circle cx="477.1" cy="419.9" r="3.3"/>
<circle cx="456.4" cy="408.3" r="3.3"/>
<circle cx="477.8" cy="428.2" r="3.3"/>
<circle cx="440.5" cy="408.0" r="3.3"/>
<circle cx="475.6" cy="402.7" r="3.3"/>
<circle cx="457.4" cy="427.3" r="3.3"/>
<circle cx="472.9" cy="407.5" r="3.3"/>
<circle cx="475.2" cy="400.3" r="3.3"/>
<circle cx="470.5" cy="419.6" r="3.3"/>
<circle cx="488.3" cy="420.6" r="3.3"/>
<circle cx="470.0" cy="411.5" r="3.3"/>
<circle cx="462.4" cy="427.0" r="3.3"/>
<circle cx="489.0" cy="419.5" r="3.3"/>
<circle cx="467.7" cy="404.0" r="3.3"/>
<circle cx="443.5" cy="409.4" r="3.3"/>
<circle cx="482.8" cy="415.9" r="3.3"/>
<circle cx="490.0" cy="412.0" r="3.3"/>
<circle cx="441.6" cy="407.8" r="3.3"/>
<circle cx="483.7" cy="416.9" r="3.3"/>
<circle cx="469.7" cy="413.4" r="3.3"/>
<circle cx="456.8" cy="421.5" r="3.3"/>
<circle cx="456.0" cy="418.7" r="3.3"/>
<circle cx="467.3" cy="398.7" r="3.3"/>
<circle cx="492.6" cy="411.5" r="3.3"/>
<circle cx="483.2" cy="420.6" r="3.3"/>
<circle cx="466.5" cy="408.3" r="3.3"/>
<circle cx="471.2" cy="407.5" r="3.3"/>
<circle cx="450.6" cy="408.2" r="3.3"/>
<circle cx="442.5" cy="405.4" r="3.3"/>
<circle cx="464.0" cy="420.8" r="3.3"/>
<circle cx="438.6" cy="417.9" r="3.3"/>
<circle cx="488.9" cy="422.4" r="3.3"/>
<circle cx="487.8" cy="403.3" r="3.3"/>
<circle cx="451.6" cy="401.0" r="3.3"/>
<circle cx="483.1" cy="429.0" r="3.3"/>
<circle cx="440.7" cy="412.4" r="3.3"/>
<circle cx="449.6" cy="399.9" r="3.3"/>
<circle cx="452.1" cy="427.4" r="3.3"/>
<circle cx="457.1" cy="423.2" r="3.3"/>
<circle cx="479.6" cy="404.7" r="3.3"/>
<circle cx="488.1" cy="404.0" r="3.3"/>
<circle cx="456.2" cy="419.3" r="3.3"/>
<circle cx="460.5" cy="410.8" r="3.3"/>
<circle cx="481.1" cy="425.7" r="3.3"/>
<circle cx="439.2" cy="414.3" r="3.3"/>
<circle cx="485.1" cy="427.1" r="3.3"/>
<circle cx="437.8" cy="408.8" r="3.3"/>
<circle cx="468.8" cy="408.8" r="3.3"/>
<circle cx="481.4" cy="419.6" r="3.3"/>
<circle cx="478.4" cy="411.1" r="3.3"/>
<circle cx="463.5" cy="424.7" r="3.3"/>
<circle cx="478.1" cy="418.1" r="3.3"/>
<circle cx="469.2" cy="404.9" r="3.3"/>
<circle cx="451.5" cy="415.5" r="3.3"/>
<circle cx="484.9" cy="403.8" r="3.3"/>
<circle cx="473.9" cy="418.9" r="3.3"/>
<circle cx="461.4" cy="412.5" r="3.3"/>
<circle cx="479.4" cy="405.2" r="3.3"/>
<circle cx="485.5" cy="400.5" r="3.3"/>
<circle cx="479.9" cy="421.9" r="3.3"/>
<circle cx="484.0" cy="399.5" r="3.3"/>
<circle cx="449.0" cy="424.6" r="3.3"/>
<circle cx="451.1" cy="413.7" r="3.3"/>
<circle cx="485.2" cy="403.5" r="3.3"/>
<circle cx="448.9" cy="404.1" r="3.3"/>
<circle cx="466.1" cy="405.1" r="3.3"/>
<circle cx="468.2" cy="412.6" r="3.3"/>
<circle cx="477.1" cy="406.3" r="3.3"/>
<circle cx="477.7" cy="423.5" r="3.3"/>
<circle cx="484.3" cy="419.0" r="3.3"/>
<circle cx="457.8" cy="415.3" r="3.3"/>
<circle cx="442.7" cy="417.1" r="3.3"/>
<circle cx="484.1" cy="406.8" r="3.3"/>
<circle cx="489.8" cy="421.9" r="3.3"/>
<circle cx="492.9" cy="405.4" r="3.3"/>
<circle cx="468.6" cy="406.0" r="3.3"/>
<circle cx="458.7" cy="422.9" r="3.3"/>
<circle cx="488.6" cy="413.7" r="3.3"/>
<circle cx="460.7" cy="402.1" r="3.3"/>
<circle cx="465.9" cy="417.5" r="3.3"/>
<circle cx="478.9" cy="424.2" r="3.3"/>
<circle cx="455.8" cy="406.1" r="3.3"/>
<circle cx="490.6" cy="416.7" r="3.3"/>
<circle cx="445.1" cy="425.9" r="3.3"/>
<circle cx="453.9" cy="423.0" r="3.3"/>
<circle cx="459.9" cy="414.7" r="3.3"/>
<circle cx="487.4" cy="401.0" r="3.3"/>
<circle cx="460.5" cy="405.4" r="3.3"/>
<circle cx="461.1" cy="410.1" r="3.3"/>
<circle cx="484.9" cy="418.8" r="3.3"/>
<circle cx="459.2" cy="428.5" r="3.3"/>
<circle cx="482.5" cy="404.6" r="3.3"/>
<circle cx="459.4" cy="406.0" r="3.3"/>
<circle cx="478.2" cy="404.6" r="3.3"/>
<circle cx="492.0" cy="404.0" r="3.3"/>
<circle cx="472.3" cy="403.4" r="3.3"/>
<circle cx="456.1" cy="411.7" r="3.3"/>
<circle cx="437.6" cy="408.1" r="3.3"/>
<circle cx="490.7" cy="413.4" r="3.3"/>
<circle cx="450.6" cy="412.9" r="3.3"/>
<circle cx="468.8" cy="407.6" r="3.3"/>
<circle cx="478.7" cy="400.2" r="3.3"/>
<circle cx="502.3" cy="410.5" r="3.3"/>
<circle cx="454.2" cy="403.6" r="3.3"/>
<circle cx="512.5" cy="406.3" r="3.3"/>
<circle cx="470.4" cy="399.3" r="3.3"/>
<circle cx="465.4" cy="410.2" r="3.3"/>
<circle cx="456.4" cy="407.9" r="3.3"/>
<circle cx="481.3" cy="404.7" r="3.3"/>
<circle cx="498.3" cy="405.9" r="3.3"/>
<circle cx="469.5" cy="406.9" r="3.3"/>
<circle cx="435.5" cy="409.5" r="3.3"/>
<circle cx="491.8" cy="411.3" r="3.3"/>
<circle cx="484.9" cy="406.5" r="3.3"/>
<circle cx="480.1" cy="415.7" r="3.3"/>
<circle cx="444.8" cy="410.2" r="3.3"/>
<circle cx="485.0" cy="411.8" r="3.3"/>
<circle cx="448.3" cy="414.2" r="3.3"/>
<circle cx="503.4" cy="405.8" r="3.3"/>
<circle cx="509.7" cy="407.7" r="3.3"/>
<circle cx="511.6" cy="407.9" r="3.3"/>
<circle cx="432.9" cy="406.9" r="3.3"/>
<circle cx="461.4" cy="400.1" r="3.3"/>
<circle cx="446.1" cy="408.6" r="3.3"/>
<circle cx="453.5" cy="412.3" r="3.3"/>
<circle cx="435.7" cy="405.9" r="3.3"/>
<circle cx="485.3" cy="409.5" r="3.3"/>
<circle cx="456.1" cy="408.6" r="3.3"/>
<circle cx="446.4" cy="403.3" r="3.3"/>
<circle cx="443.6" cy="412.6" r="3.3"/>
<circle cx="461.5" cy="401.5" r="3.3"/>
<circle cx="465.1" cy="413.9" r="3.3"/>
<circle cx="506.7" cy="403.2" r="3.3"/>
<circle cx="509.7" cy="406.8" r="3.3"/>
<circle cx="498.9" cy="411.4" r="3.3"/>
<circle cx="451.9" cy="403.1" r="3.3"/>
<circle cx="435.6" cy="407.2" r="3.3"/>
<circle cx="483.9" cy="405.7" r="3.3"/>
<circle cx="441.9" cy="409.4" r="3.3"/>
<circle cx="494.1" cy="408.0" r="3.3"/>
<circle cx="454.6" cy="409.0" r="3.3"/>
<circle cx="447.1" cy="408.6" r="3.3"/>
<circle cx="481.7" cy="412.8" r="3.3"/>
<circle cx="501.3" cy="413.2" r="3.3"/>
<circle cx="495.1" cy="404.0" r="3.3"/>
<circle cx="487.1" cy="400.2" r="3.3"/>
<circle cx="471.8" cy="406.2" r="3.3"/>
<circle cx="458.0" cy="410.0" r="3.3"/>
<circle cx="463.7" cy="415.3" r="3.3"/>
<circle cx="468.5" cy="415.2" r="3.3"/>
<circle cx="479.6" cy="401.4" r="3.3"/>
<circle cx="474.1" cy="415.5" r="3.3"/>
<circle cx="467.5" cy="407.6" r="3.3"/>
<circle cx="468.3" cy="433.0" r="3.3"/>
<circle cx="468.6" cy="419.7" r="3.3"/>
<circle cx="453.6" cy="424.6" r="3.3"/>
<circle cx="479.3" cy="425.5" r="3.3"/>
<circle cx="462.9" cy="437.9" r="3.3"/>
<circle cx="467.1" cy="435.5" r="3.3"/>
<circle cx="469.6" cy="420.1" r="3.3"/>
<circle cx="456.3" cy="426.3" r="3.3"/>
<circle cx="450.3" cy="420.5" r="3.3"/>
<circle cx="469.9" cy="436.4" r="3.3"/>
<circle cx="450.2" cy="427.3" r="3.3"/>
<circle cx="475.1" cy="433.2" r="3.3"/>
<circle cx="447.7" cy="427.8" r="3.3"/>
<circle cx="465.5" cy="419.0" r="3.3"/>
<circle cx="455.6" cy="424.3" r="3.3"/>
<circle cx="445.4" cy="424.8" r="3.3"/>
<circle cx="463.6" cy="430.9" r="3.3"/>
<circle cx="448.8" cy="431.0" r="3.3"/>
<circle cx="459.5" cy="427.1" r="3.3"/>
<circle cx="457.5" cy="418.7" r="3.3"/>
<circle cx="471.8" cy="430.9" r="3.3"/>
<circle cx="461.7" cy="424.4" r="3.3"/>
<circle cx="448.3" cy="430.3" r="3.3"/>
<circle cx="456.5" cy="431.8" r="3.3"/>
<circle cx="469.9" cy="424.7" r="3.3"/>
<circle cx="453.3" cy="426.9" r="3.3"/>
<circle cx="465.0" cy="419.3" r="3.3"/>
<circle cx="463.9" cy="419.9" r="3.3"/>
<circle cx="459.3" cy="437.6" r="3.3"/>
<circle cx="452.0" cy="422.3" r="3.3"/>
<circle cx="456.9" cy="426.5" r="3.3"/>
<circle cx="448.6" cy="430.0" r="3.3"/>
<circle cx="469.5" cy="431.3" r="3.3"/>
<circle cx="466.3" cy="426.1" r="3.3"/>
<circle cx="451.2" cy="428.2" r="3.3"/>
<circle cx="467.9" cy="422.7" r="3.3"/>
<circle cx="459.3" cy="428.1" r="3.3"/>
<circle cx="477.8" cy="432.4" r="3.3"/>
<circle cx="475.2" cy="431.8" r="3.3"/>
<circle cx="454.9" cy="432.0" r="3.3"/>
<circle cx="475.6" cy="442.9" r="3.3"/>
<circle cx="456.7" cy="430.2" r="3.3"/>
<circle cx="456.6" cy="439.1" r="3.3"/>
<circle cx="467.8" cy="430.5" r="3.3"/>
<circle cx="477.4" cy="445.9" r="3.3"/>
<circle cx="464.6" cy="439.8" r="3.3"/>
<circle cx="466.2" cy="432.5" r="3.3"/>
<circle cx="471.3" cy="444.8" r="3.3"/>
<circle cx="457.0" cy="430.5" r="3.3"/>
<circle cx="452.6" cy="438.2" r="3.3"/>
<circle cx="456.0" cy="443.9" r="3.3"/>
<circle cx="455.0" cy="433.5" r="3.3"/>
<circle cx="460.5" cy="433.5" r="3.3"/>
<circle cx="470.9" cy="445.0" r="3.3"/>
<circle cx="459.0" cy="437.7" r="3.3"/>
<circle cx="481.9" cy="378.8" r="3.3"/>
<circle cx="486.8" cy="378.8" r="3.3"/>
<circle cx="451.3" cy="386.7" r="3.3"/>
<circle cx="455.3" cy="384.7" r="3.3"/>
<circle cx="463.1" cy="386.7" r="3.3"/>
<circle cx="467.1" cy="384.7" r="3.3"/>
<circle cx="474.0" cy="382.7" r="3.3"/>
<circle cx="478.9" cy="386.7" r="3.3"/>
<circle cx="488.8" cy="386.7" r="3.3"/>
<circle cx="506.5" cy="385.1" r="3.3"/>
<circle cx="421.8" cy="395.5" r="3.3"/>
<circle cx="415.8" cy="401.5" r="3.3"/>
<circle cx="429.6" cy="398.1" r="3.3"/>
<circle cx="431.6" cy="398.5" r="3.3"/>
<circle cx="517.0" cy="404.0" r="3.3"/>
<circle cx="533.1" cy="409.3" r="3.3"/>
<circle cx="412.9" cy="412.3" r="3.3"/>
<circle cx="422.7" cy="411.3" r="3.3"/>
<circle cx="419.8" cy="416.2" r="3.3"/>
<circle cx="412.9" cy="426.1" r="3.3"/>
<circle cx="424.7" cy="426.1" r="3.3"/>
<circle cx="423.7" cy="430.0" r="3.3"/>
<circle cx="427.7" cy="429.0" r="3.3"/>
<circle cx="439.5" cy="426.1" r="3.3"/>
<circle cx="441.5" cy="432.0" r="3.3"/>
<circle cx="492.7" cy="422.2" r="3.3"/>
<circle cx="507.9" cy="424.5" r="3.3"/>
<circle cx="519.3" cy="420.2" r="3.3"/>
<circle cx="519.3" cy="426.1" r="3.3"/>
<circle cx="523.3" cy="431.0" r="3.3"/>
<circle cx="515.4" cy="434.0" r="3.3"/>
<circle cx="525.6" cy="437.5" r="3.3"/>
<circle cx="449.3" cy="440.9" r="3.3"/>
<circle cx="457.2" cy="440.9" r="3.3"/>
<circle cx="464.1" cy="439.9" r="3.3"/>
<circle cx="471.0" cy="439.9" r="3.3"/>
<circle cx="483.8" cy="440.9" r="3.3"/>
<circle cx="456.2" cy="452.7" r="3.3"/>
<circle cx="468.1" cy="447.8" r="3.3"/>
<circle cx="480.9" cy="451.7" r="3.3"/>
<circle cx="487.8" cy="453.7" r="3.3"/>
<circle cx="457.2" cy="446.8" r="3.3"/>
</g>
<line x1="405.5" y1="417.2" x2="537.6" y2="410.7" stroke="#1a1a1a" stroke-width="1.2"/>
<path d="M405.9,347.0 H537.8 V462.9 H405.9 Z" fill="none" stroke="#1a1a1a" stroke-width="1.3"/>
<line x1="407.6" y1="462.9" x2="407.6" y2="466.4" stroke="#1a1a1a" stroke-width="1.2"/>
<line x1="535.0" y1="462.9" x2="535.0" y2="466.4" stroke="#1a1a1a" stroke-width="1.2"/>
<text x="407.2" y="478.6" font-size="9.3" text-anchor="middle" >-600</text>
<text x="533.5" y="478.6" font-size="9.3" text-anchor="middle" >600</text>
<text x="478.3" y="493.2" font-size="9.3" text-anchor="middle" >Diff.in ELEV (m)</text>
<text x="453.0" y="358.3" font-size="9.3"><tspan font-style="italic">P</tspan>&lt;0.001</text>
<g fill="#a7184a">
<circle cx="630.4" cy="411.1" r="3.3"/>
<circle cx="599.1" cy="411.1" r="3.3"/>
<circle cx="613.4" cy="402.0" r="3.3"/>
<circle cx="595.7" cy="413.1" r="3.3"/>
<circle cx="618.2" cy="420.6" r="3.3"/>
<circle cx="603.5" cy="399.2" r="3.3"/>
<circle cx="610.5" cy="424.5" r="3.3"/>
<circle cx="592.0" cy="406.5" r="3.3"/>
<circle cx="604.2" cy="428.0" r="3.3"/>
<circle cx="633.4" cy="410.6" r="3.3"/>
<circle cx="628.0" cy="406.6" r="3.3"/>
<circle cx="613.5" cy="398.6" r="3.3"/>
<circle cx="597.8" cy="404.8" r="3.3"/>
<circle cx="594.3" cy="419.5" r="3.3"/>
<circle cx="597.8" cy="423.6" r="3.3"/>
<circle cx="624.9" cy="416.7" r="3.3"/>
<circle cx="634.3" cy="416.6" r="3.3"/>
<circle cx="600.6" cy="409.2" r="3.3"/>
<circle cx="624.8" cy="401.9" r="3.3"/>
<circle cx="630.8" cy="411.8" r="3.3"/>
<circle cx="626.1" cy="415.3" r="3.3"/>
<circle cx="602.6" cy="427.6" r="3.3"/>
<circle cx="609.1" cy="417.6" r="3.3"/>
<circle cx="604.2" cy="405.4" r="3.3"/>
<circle cx="615.9" cy="408.2" r="3.3"/>
<circle cx="612.7" cy="415.6" r="3.3"/>
<circle cx="604.6" cy="424.2" r="3.3"/>
<circle cx="621.7" cy="398.5" r="3.3"/>
<circle cx="597.3" cy="410.0" r="3.3"/>
<circle cx="597.1" cy="406.6" r="3.3"/>
<circle cx="626.2" cy="419.4" r="3.3"/>
<circle cx="592.8" cy="404.0" r="3.3"/>
<circle cx="619.1" cy="410.4" r="3.3"/>
<circle cx="628.7" cy="407.1" r="3.3"/>
<circle cx="614.6" cy="404.4" r="3.3"/>
<circle cx="608.5" cy="420.8" r="3.3"/>
<circle cx="620.7" cy="402.6" r="3.3"/>
<circle cx="632.8" cy="413.3" r="3.3"/>
<circle cx="622.5" cy="418.9" r="3.3"/>
<circle cx="605.7" cy="423.3" r="3.3"/>
<circle cx="600.3" cy="409.8" r="3.3"/>
<circle cx="597.4" cy="401.7" r="3.3"/>
<circle cx="641.6" cy="412.8" r="3.3"/>
<circle cx="608.3" cy="429.2" r="3.3"/>
<circle cx="591.5" cy="423.2" r="3.3"/>
<circle cx="619.0" cy="412.3" r="3.3"/>
<circle cx="609.3" cy="410.5" r="3.3"/>
<circle cx="635.5" cy="422.6" r="3.3"/>
<circle cx="611.5" cy="405.2" r="3.3"/>
<circle cx="614.4" cy="403.2" r="3.3"/>
<circle cx="598.8" cy="410.7" r="3.3"/>
<circle cx="600.2" cy="407.1" r="3.3"/>
<circle cx="607.5" cy="403.2" r="3.3"/>
<circle cx="630.6" cy="400.4" r="3.3"/>
<circle cx="626.8" cy="421.2" r="3.3"/>
<circle cx="610.3" cy="412.0" r="3.3"/>
<circle cx="616.8" cy="414.5" r="3.3"/>
<circle cx="627.0" cy="419.9" r="3.3"/>
<circle cx="606.7" cy="403.6" r="3.3"/>
<circle cx="620.1" cy="420.5" r="3.3"/>
<circle cx="628.4" cy="408.1" r="3.3"/>
<circle cx="637.6" cy="404.3" r="3.3"/>
<circle cx="638.7" cy="407.6" r="3.3"/>
<circle cx="612.4" cy="429.0" r="3.3"/>
<circle cx="635.7" cy="424.6" r="3.3"/>
<circle cx="628.8" cy="418.4" r="3.3"/>
<circle cx="594.1" cy="404.0" r="3.3"/>
<circle cx="612.5" cy="421.0" r="3.3"/>
<circle cx="626.8" cy="422.8" r="3.3"/>
<circle cx="632.9" cy="425.2" r="3.3"/>
<circle cx="614.5" cy="398.0" r="3.3"/>
<circle cx="632.2" cy="411.7" r="3.3"/>
<circle cx="604.4" cy="416.0" r="3.3"/>
<circle cx="592.3" cy="411.8" r="3.3"/>
<circle cx="598.8" cy="399.7" r="3.3"/>
<circle cx="603.2" cy="427.1" r="3.3"/>
<circle cx="616.3" cy="422.6" r="3.3"/>
<circle cx="611.6" cy="418.7" r="3.3"/>
<circle cx="588.7" cy="408.3" r="3.3"/>
<circle cx="600.6" cy="401.7" r="3.3"/>
<circle cx="616.2" cy="418.6" r="3.3"/>
<circle cx="621.0" cy="413.3" r="3.3"/>
<circle cx="627.4" cy="414.7" r="3.3"/>
<circle cx="619.2" cy="407.3" r="3.3"/>
<circle cx="624.5" cy="418.7" r="3.3"/>
<circle cx="596.3" cy="407.3" r="3.3"/>
<circle cx="629.9" cy="402.5" r="3.3"/>
<circle cx="606.6" cy="424.6" r="3.3"/>
<circle cx="625.7" cy="423.9" r="3.3"/>
<circle cx="625.6" cy="409.9" r="3.3"/>
<circle cx="595.2" cy="426.7" r="3.3"/>
<circle cx="628.0" cy="405.0" r="3.3"/>
<circle cx="616.4" cy="406.8" r="3.3"/>
<circle cx="612.0" cy="420.8" r="3.3"/>
<circle cx="604.5" cy="428.8" r="3.3"/>
<circle cx="607.4" cy="408.8" r="3.3"/>
<circle cx="631.8" cy="403.7" r="3.3"/>
<circle cx="615.6" cy="430.0" r="3.3"/>
<circle cx="615.9" cy="416.7" r="3.3"/>
<circle cx="603.7" cy="404.3" r="3.3"/>
<circle cx="611.3" cy="430.3" r="3.3"/>
<circle cx="630.5" cy="419.6" r="3.3"/>
<circle cx="626.0" cy="423.8" r="3.3"/>
<circle cx="607.3" cy="413.8" r="3.3"/>
<circle cx="612.7" cy="419.3" r="3.3"/>
<circle cx="599.2" cy="402.3" r="3.3"/>
<circle cx="600.1" cy="418.3" r="3.3"/>
<circle cx="595.7" cy="421.5" r="3.3"/>
<circle cx="594.0" cy="411.8" r="3.3"/>
<circle cx="592.1" cy="419.7" r="3.3"/>
<circle cx="596.8" cy="400.8" r="3.3"/>
<circle cx="615.3" cy="417.8" r="3.3"/>
<circle cx="628.6" cy="416.0" r="3.3"/>
<circle cx="622.4" cy="416.2" r="3.3"/>
<circle cx="617.4" cy="427.2" r="3.3"/>
<circle cx="610.1" cy="403.6" r="3.3"/>
<circle cx="634.0" cy="422.7" r="3.3"/>
<circle cx="624.9" cy="408.0" r="3.3"/>
<circle cx="621.1" cy="428.5" r="3.3"/>
<circle cx="605.0" cy="421.5" r="3.3"/>
<circle cx="593.6" cy="405.7" r="3.3"/>
<circle cx="631.1" cy="420.7" r="3.3"/>
<circle cx="607.9" cy="402.8" r="3.3"/>
<circle cx="604.6" cy="429.2" r="3.3"/>
<circle cx="615.2" cy="423.5" r="3.3"/>
<circle cx="625.4" cy="417.1" r="3.3"/>
<circle cx="622.8" cy="410.2" r="3.3"/>
<circle cx="633.9" cy="414.9" r="3.3"/>
<circle cx="607.8" cy="420.2" r="3.3"/>
<circle cx="613.3" cy="418.7" r="3.3"/>
<circle cx="602.5" cy="399.8" r="3.3"/>
<circle cx="590.3" cy="404.7" r="3.3"/>
<circle cx="596.4" cy="408.1" r="3.3"/>
<circle cx="614.2" cy="419.6" r="3.3"/>
<circle cx="623.2" cy="402.4" r="3.3"/>
<circle cx="640.5" cy="413.1" r="3.3"/>
<circle cx="602.3" cy="412.9" r="3.3"/>
<circle cx="619.4" cy="418.1" r="3.3"/>
<circle cx="605.6" cy="427.7" r="3.3"/>
<circle cx="590.2" cy="418.3" r="3.3"/>
<circle cx="628.7" cy="413.4" r="3.3"/>
<circle cx="596.6" cy="414.9" r="3.3"/>
<circle cx="631.2" cy="414.9" r="3.3"/>
<circle cx="607.2" cy="398.5" r="3.3"/>
<circle cx="618.1" cy="398.4" r="3.3"/>
<circle cx="632.3" cy="406.4" r="3.3"/>
<circle cx="632.2" cy="423.2" r="3.3"/>
<circle cx="613.4" cy="411.6" r="3.3"/>
<circle cx="640.6" cy="411.9" r="3.3"/>
<circle cx="608.1" cy="408.6" r="3.3"/>
<circle cx="599.7" cy="414.1" r="3.3"/>
<circle cx="612.4" cy="397.3" r="3.3"/>
<circle cx="598.1" cy="425.3" r="3.3"/>
<circle cx="623.8" cy="429.6" r="3.3"/>
<circle cx="595.7" cy="401.2" r="3.3"/>
<circle cx="631.1" cy="404.2" r="3.3"/>
<circle cx="629.7" cy="407.3" r="3.3"/>
<circle cx="634.3" cy="410.8" r="3.3"/>
<circle cx="611.7" cy="427.9" r="3.3"/>
<circle cx="627.8" cy="407.1" r="3.3"/>
<circle cx="588.9" cy="422.4" r="3.3"/>
<circle cx="611.9" cy="417.2" r="3.3"/>
<circle cx="597.1" cy="412.7" r="3.3"/>
<circle cx="599.5" cy="406.7" r="3.3"/>
<circle cx="586.6" cy="418.7" r="3.3"/>
<circle cx="618.1" cy="405.2" r="3.3"/>
<circle cx="634.1" cy="411.7" r="3.3"/>
<circle cx="606.2" cy="403.3" r="3.3"/>
<circle cx="630.7" cy="427.5" r="3.3"/>
<circle cx="597.2" cy="404.3" r="3.3"/>
<circle cx="608.9" cy="422.6" r="3.3"/>
<circle cx="615.1" cy="412.0" r="3.3"/>
<circle cx="628.9" cy="416.3" r="3.3"/>
<circle cx="608.4" cy="411.8" r="3.3"/>
<circle cx="607.5" cy="424.5" r="3.3"/>
<circle cx="613.6" cy="413.6" r="3.3"/>
<circle cx="613.8" cy="424.1" r="3.3"/>
<circle cx="608.4" cy="429.4" r="3.3"/>
<circle cx="601.1" cy="401.2" r="3.3"/>
<circle cx="618.8" cy="418.1" r="3.3"/>
<circle cx="610.3" cy="430.8" r="3.3"/>
<circle cx="621.3" cy="426.3" r="3.3"/>
<circle cx="625.9" cy="417.9" r="3.3"/>
<circle cx="597.0" cy="415.7" r="3.3"/>
<circle cx="622.8" cy="401.4" r="3.3"/>
<circle cx="588.8" cy="421.8" r="3.3"/>
<circle cx="626.1" cy="419.0" r="3.3"/>
<circle cx="608.8" cy="423.0" r="3.3"/>
<circle cx="592.0" cy="408.5" r="3.3"/>
<circle cx="604.3" cy="425.6" r="3.3"/>
<circle cx="608.7" cy="407.1" r="3.3"/>
<circle cx="628.2" cy="423.5" r="3.3"/>
<circle cx="611.3" cy="418.7" r="3.3"/>
<circle cx="593.0" cy="408.5" r="3.3"/>
<circle cx="597.0" cy="411.0" r="3.3"/>
<circle cx="627.6" cy="406.1" r="3.3"/>
<circle cx="626.4" cy="422.6" r="3.3"/>
<circle cx="603.1" cy="429.2" r="3.3"/>
<circle cx="609.4" cy="402.7" r="3.3"/>
<circle cx="597.1" cy="418.8" r="3.3"/>
<circle cx="609.9" cy="429.1" r="3.3"/>
<circle cx="592.9" cy="423.8" r="3.3"/>
<circle cx="596.2" cy="433.0" r="3.3"/>
<circle cx="603.9" cy="423.6" r="3.3"/>
<circle cx="613.7" cy="436.6" r="3.3"/>
<circle cx="624.3" cy="434.3" r="3.3"/>
<circle cx="602.1" cy="425.4" r="3.3"/>
<circle cx="613.5" cy="420.5" r="3.3"/>
<circle cx="611.6" cy="428.5" r="3.3"/>
<circle cx="620.3" cy="417.5" r="3.3"/>
<circle cx="608.0" cy="428.7" r="3.3"/>
<circle cx="631.9" cy="431.7" r="3.3"/>
<circle cx="605.5" cy="422.4" r="3.3"/>
<circle cx="622.7" cy="431.7" r="3.3"/>
<circle cx="600.4" cy="428.8" r="3.3"/>
<circle cx="630.6" cy="431.9" r="3.3"/>
<circle cx="604.3" cy="418.8" r="3.3"/>
<circle cx="622.4" cy="429.8" r="3.3"/>
<circle cx="624.7" cy="436.1" r="3.3"/>
<circle cx="602.6" cy="428.2" r="3.3"/>
<circle cx="603.9" cy="418.1" r="3.3"/>
<circle cx="609.1" cy="434.4" r="3.3"/>
<circle cx="614.8" cy="427.9" r="3.3"/>
<circle cx="594.8" cy="428.9" r="3.3"/>
<circle cx="613.1" cy="428.0" r="3.3"/>
<circle cx="606.9" cy="425.5" r="3.3"/>
<circle cx="621.2" cy="431.1" r="3.3"/>
<circle cx="593.2" cy="429.8" r="3.3"/>
<circle cx="608.1" cy="429.0" r="3.3"/>
<circle cx="623.1" cy="433.3" r="3.3"/>
<circle cx="632.8" cy="426.8" r="3.3"/>
<circle cx="621.9" cy="420.6" r="3.3"/>
<circle cx="620.9" cy="419.1" r="3.3"/>
<circle cx="624.0" cy="420.7" r="3.3"/>
<circle cx="597.0" cy="431.9" r="3.3"/>
<circle cx="620.9" cy="438.0" r="3.3"/>
<circle cx="608.0" cy="423.9" r="3.3"/>
<circle cx="612.1" cy="419.1" r="3.3"/>
<circle cx="601.3" cy="429.0" r="3.3"/>
<circle cx="602.3" cy="417.8" r="3.3"/>
<circle cx="595.0" cy="428.4" r="3.3"/>
<circle cx="598.8" cy="434.3" r="3.3"/>
<circle cx="624.1" cy="432.8" r="3.3"/>
<circle cx="609.7" cy="428.9" r="3.3"/>
<circle cx="597.1" cy="430.4" r="3.3"/>
<circle cx="625.1" cy="428.5" r="3.3"/>
<circle cx="600.3" cy="419.0" r="3.3"/>
<circle cx="609.7" cy="426.3" r="3.3"/>
<circle cx="631.0" cy="421.5" r="3.3"/>
<circle cx="594.7" cy="430.0" r="3.3"/>
<circle cx="609.3" cy="439.7" r="3.3"/>
<circle cx="600.3" cy="436.7" r="3.3"/>
<circle cx="600.0" cy="427.9" r="3.3"/>
<circle cx="609.3" cy="420.8" r="3.3"/>
<circle cx="629.4" cy="431.7" r="3.3"/>
<circle cx="601.9" cy="436.2" r="3.3"/>
<circle cx="603.1" cy="436.6" r="3.3"/>
<circle cx="615.7" cy="421.8" r="3.3"/>
<circle cx="614.0" cy="421.4" r="3.3"/>
<circle cx="596.4" cy="435.1" r="3.3"/>
<circle cx="619.5" cy="439.4" r="3.3"/>
<circle cx="615.3" cy="446.5" r="3.3"/>
<circle cx="617.8" cy="453.2" r="3.3"/>
<circle cx="622.6" cy="443.1" r="3.3"/>
<circle cx="607.1" cy="438.1" r="3.3"/>
<circle cx="626.9" cy="438.7" r="3.3"/>
<circle cx="618.8" cy="440.1" r="3.3"/>
<circle cx="605.1" cy="451.3" r="3.3"/>
<circle cx="607.8" cy="432.4" r="3.3"/>
<circle cx="606.5" cy="453.4" r="3.3"/>
<circle cx="615.4" cy="449.0" r="3.3"/>
<circle cx="627.6" cy="450.2" r="3.3"/>
<circle cx="621.6" cy="435.9" r="3.3"/>
<circle cx="625.6" cy="434.3" r="3.3"/>
<circle cx="625.4" cy="448.9" r="3.3"/>
<circle cx="614.1" cy="431.6" r="3.3"/>
<circle cx="618.7" cy="432.9" r="3.3"/>
<circle cx="624.3" cy="431.8" r="3.3"/>
<circle cx="622.3" cy="445.2" r="3.3"/>
<circle cx="624.2" cy="453.1" r="3.3"/>
<circle cx="611.7" cy="447.5" r="3.3"/>
<circle cx="613.1" cy="454.7" r="3.3"/>
<circle cx="617.8" cy="435.0" r="3.3"/>
<circle cx="610.1" cy="440.9" r="3.3"/>
<circle cx="610.9" cy="435.0" r="3.3"/>
<circle cx="607.9" cy="450.3" r="3.3"/>
<circle cx="623.4" cy="434.8" r="3.3"/>
<circle cx="618.0" cy="445.7" r="3.3"/>
<circle cx="620.0" cy="435.1" r="3.3"/>
<circle cx="623.4" cy="452.3" r="3.3"/>
<circle cx="614.3" cy="403.9" r="3.3"/>
<circle cx="616.4" cy="399.4" r="3.3"/>
<circle cx="624.7" cy="406.3" r="3.3"/>
<circle cx="629.5" cy="396.6" r="3.3"/>
<circle cx="607.2" cy="400.2" r="3.3"/>
<circle cx="611.3" cy="397.6" r="3.3"/>
<circle cx="613.4" cy="405.0" r="3.3"/>
<circle cx="615.2" cy="398.9" r="3.3"/>
<circle cx="628.4" cy="402.1" r="3.3"/>
<circle cx="617.3" cy="401.5" r="3.3"/>
<circle cx="630.9" cy="403.3" r="3.3"/>
<circle cx="618.6" cy="402.6" r="3.3"/>
<circle cx="621.3" cy="406.2" r="3.3"/>
<circle cx="616.8" cy="403.3" r="3.3"/>
<circle cx="632.5" cy="397.2" r="3.3"/>
<circle cx="619.9" cy="406.7" r="3.3"/>
<circle cx="631.9" cy="403.1" r="3.3"/>
<circle cx="623.8" cy="399.6" r="3.3"/>
<circle cx="608.5" cy="396.6" r="3.3"/>
<circle cx="629.0" cy="397.6" r="3.3"/>
<circle cx="611.6" cy="365.8" r="3.3"/>
<circle cx="631.2" cy="369.9" r="3.3"/>
<circle cx="615.7" cy="380.6" r="3.3"/>
<circle cx="594.1" cy="387.8" r="3.3"/>
<circle cx="601.3" cy="386.7" r="3.3"/>
<circle cx="635.3" cy="389.2" r="3.3"/>
<circle cx="611.6" cy="388.4" r="3.3"/>
<circle cx="622.9" cy="388.8" r="3.3"/>
<circle cx="626.0" cy="389.8" r="3.3"/>
<circle cx="604.4" cy="393.9" r="3.3"/>
<circle cx="556.1" cy="409.8" r="3.3"/>
<circle cx="661.6" cy="405.2" r="3.3"/>
<circle cx="575.6" cy="408.3" r="3.3"/>
<circle cx="580.8" cy="409.0" r="3.3"/>
<circle cx="582.8" cy="413.5" r="3.3"/>
<circle cx="587.0" cy="404.2" r="3.3"/>
<circle cx="657.9" cy="422.7" r="3.3"/>
<circle cx="647.6" cy="416.0" r="3.3"/>
<circle cx="581.8" cy="424.2" r="3.3"/>
<circle cx="571.5" cy="430.0" r="3.3"/>
<circle cx="591.0" cy="433.0" r="3.3"/>
<circle cx="643.5" cy="433.0" r="3.3"/>
<circle cx="650.7" cy="427.9" r="3.3"/>
<circle cx="650.1" cy="443.3" r="3.3"/>
<circle cx="636.3" cy="436.1" r="3.3"/>
</g>
<line x1="556.1" y1="411.0" x2="661.0" y2="419.2" stroke="#1a1a1a" stroke-width="1.2"/>
<path d="M553.5,348.6 H680.7 V464.4 H553.5 Z" fill="none" stroke="#1a1a1a" stroke-width="1.3"/>
<line x1="555.2" y1="464.4" x2="555.2" y2="467.9" stroke="#1a1a1a" stroke-width="1.2"/>
<line x1="677.5" y1="464.4" x2="677.5" y2="467.9" stroke="#1a1a1a" stroke-width="1.2"/>
<text x="555.8" y="477.8" font-size="9.3" text-anchor="middle" >-30</text>
<text x="678.3" y="477.8" font-size="9.3" text-anchor="middle" >30</text>
<text x="619.2" y="494.2" font-size="9.3" text-anchor="middle" >Diff.HUFP</text>
<text x="591.6" y="359.7" font-size="9.3"><tspan font-style="italic">P</tspan>&lt;0.001</text>
</svg></body></html>
